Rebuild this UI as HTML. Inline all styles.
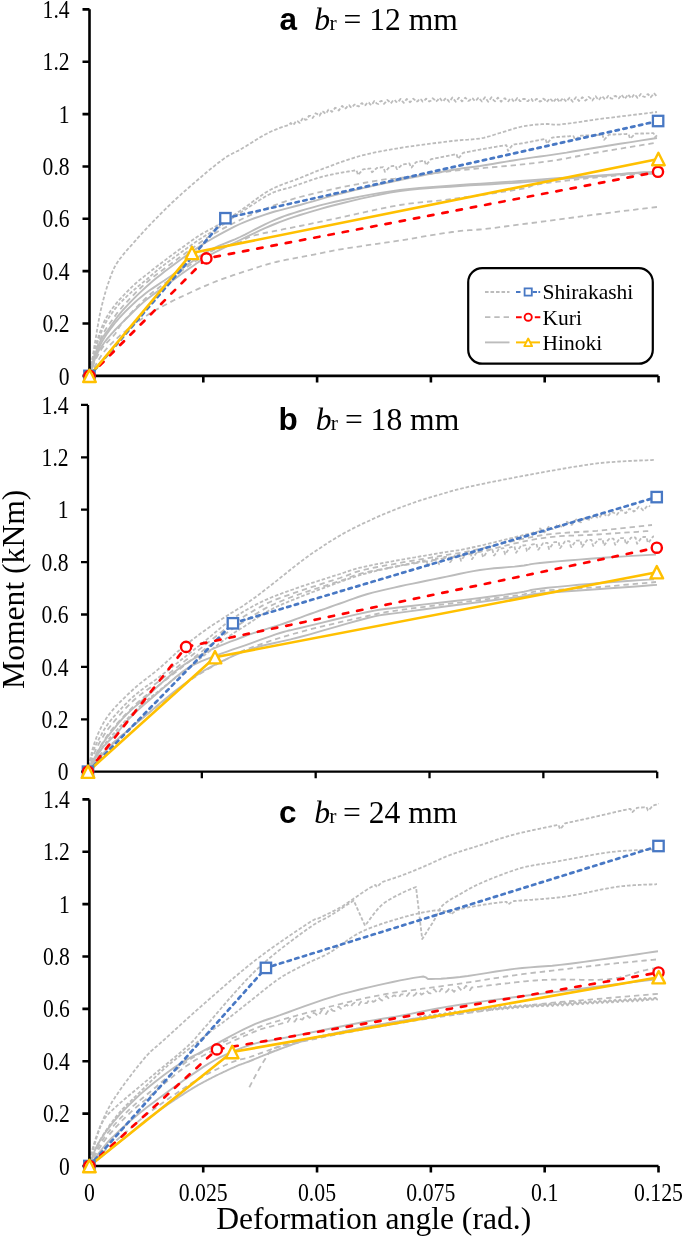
<!DOCTYPE html><html><head><meta charset="utf-8"><style>html,body{margin:0;padding:0;background:#fff;}svg{display:block;will-change:transform;}</style></head><body>
<svg width="685" height="1238" viewBox="0 0 685 1238">
<rect width="685" height="1238" fill="#fff"/>
<path d="M89.5,375.9 L89.8,374.2 L90.3,371.8 L90.8,368.9 L91.4,365.6 L92.0,362.0 L92.5,358.8 L93.1,355.2 L93.6,351.4 L94.2,347.4 L94.9,343.3 L95.6,339.0 L96.4,334.5 L97.1,329.7 L98.0,324.7 L98.9,319.7 L99.8,314.7 L100.8,310.0 L101.9,305.4 L103.0,300.9 L104.2,296.5 L105.4,292.2 L106.7,288.0 L108.0,284.0 L109.3,280.2 L110.5,276.7 L111.8,273.3 L113.2,270.0 L114.8,266.7 L114.9,266.6 L116.5,263.8 L117.0,263.0 L118.6,260.6 L119.5,259.3 L121.2,257.2 L122.4,255.6 L124.0,253.6 L125.6,251.8 L127.2,249.9 L128.8,248.1 L128.9,247.9 L130.6,246.1 L132.2,244.3 L132.4,244.0 L134.1,242.2 L135.7,240.4 L136.0,240.0 L137.6,238.2 L139.2,236.4 L139.7,235.9 L141.3,234.1 L142.9,232.3 L143.6,231.6 L145.2,229.9 L146.8,228.2 L147.6,227.3 L149.2,225.6 L150.8,223.9 L151.7,223.0 L153.3,221.3 L154.9,219.7 L155.8,218.7 L157.5,217.1 L159.1,215.4 L160.0,214.5 L161.6,212.9 L163.2,211.3 L164.1,210.4 L165.7,208.8 L167.4,207.2 L168.1,206.5 L169.8,204.9 L171.4,203.3 L172.2,202.5 L173.9,201.0 L175.5,199.5 L176.5,198.5 L178.1,197.1 L179.8,195.6 L181.1,194.4 L182.7,192.9 L184.3,191.5 L185.9,190.1 L186.0,190.0 L187.6,188.6 L189.2,187.2 L190.9,185.7 L191.6,185.1 L193.2,183.7 L194.9,182.3 L196.5,180.9 L197.9,179.7 L199.5,178.3 L201.1,177.0 L202.7,175.6 L204.4,174.2 L204.4,174.2 L206.0,172.8 L207.6,171.5 L209.2,170.1 L210.8,168.8 L212.4,167.5 L214.1,166.2 L215.7,164.9 L216.8,164.0 L218.4,162.7 L220.1,161.5 L221.7,160.2 L222.0,160.0 L223.6,158.9 L225.2,157.7 L226.2,157.1 L227.8,156.1 L229.4,155.1 L229.6,155.0 L231.2,154.2 L232.5,153.5 L234.1,152.7 L235.3,152.1 L237.0,151.3 L238.4,150.6 L240.0,149.7 L241.6,148.8 L242.0,148.6 L243.6,147.6 L245.2,146.6 L246.2,146.1 L247.8,145.0 L249.4,144.0 L250.7,143.2 L252.3,142.2 L253.9,141.2 L255.4,140.3 L257.0,139.3 L258.6,138.3 L260.2,137.3 L261.8,136.4 L263.5,135.4 L265.1,134.5 L265.1,134.5 L266.8,133.7 L268.4,132.8 L270.0,132.0 L271.6,131.3 L273.2,130.6 L274.9,129.9 L275.1,129.8 L276.7,129.2 L278.3,128.5 L279.9,127.9 L280.4,127.7 L282.1,127.1 L283.7,126.6 L285.3,126.0 L285.9,125.8 L287.5,125.3 L289.1,124.7 L290.8,123.0 L291.1,123.4 L292.7,125.0 L294.4,123.7 L295.9,121.1 L297.5,121.1 L299.2,122.7 L300.0,122.9 L301.6,120.0 L303.1,117.7 L304.7,119.2 L305.3,119.8 L306.9,119.4 L307.1,119.1 L308.7,116.3 L308.8,116.0 L310.4,115.8 L311.0,116.3 L312.6,118.0 L314.0,116.0 L315.6,113.3 L317.2,114.0 L317.8,114.6 L319.5,115.7 L321.1,113.0 L322.1,111.3 L323.7,112.0 L325.4,113.7 L326.8,112.4 L328.4,109.7 L330.1,110.0 L331.7,111.7 L331.9,111.9 L333.5,110.3 L335.1,107.7 L336.8,108.5 L337.3,109.1 L338.9,110.5 L340.5,108.0 L342.2,105.9 L343.0,106.9 L344.6,108.8 L346.2,107.9 L347.9,105.5 L349.1,105.2 L350.7,107.1 L352.3,107.5 L353.9,105.0 L355.6,104.1 L357.2,106.0 L358.8,106.5 L360.4,104.0 L362.1,103.1 L362.4,103.5 L364.0,105.5 L365.6,105.1 L367.2,102.7 L368.9,102.6 L369.4,103.3 L371.1,105.3 L372.7,103.4 L374.3,101.0 L375.9,102.6 L376.7,103.5 L378.3,104.0 L379.9,101.6 L381.6,100.8 L383.2,102.8 L384.0,103.9 L385.6,102.2 L387.2,99.9 L388.9,101.3 L390.5,103.4 L391.4,102.7 L393.0,100.5 L394.7,99.9 L396.3,102.0 L397.9,102.4 L399.0,100.9 L400.6,98.9 L402.2,101.0 L403.8,102.9 L405.5,100.6 L406.7,98.9 L408.3,100.2 L409.9,102.3 L411.6,100.9 L413.2,98.7 L414.6,99.7 L416.2,101.9 L417.8,101.1 L419.5,98.8 L421.1,99.5 L422.7,101.6 L424.3,100.9 L425.9,98.7 L427.6,99.3 L429.2,101.5 L430.8,100.8 L431.0,100.5 L432.6,98.3 L434.2,99.4 L435.9,101.6 L437.5,100.4 L439.1,98.1 L439.8,98.0 L441.4,100.2 L443.1,101.5 L444.7,99.3 L446.3,98.0 L447.9,100.1 L449.2,101.8 L450.8,99.8 L452.4,97.5 L454.1,99.6 L455.7,101.7 L457.3,99.7 L458.8,97.7 L460.4,99.2 L462.0,101.4 L463.6,99.9 L465.2,97.7 L466.9,99.2 L468.1,100.9 L469.8,100.3 L471.4,98.1 L473.0,98.7 L474.6,100.9 L476.3,100.3 L477.0,99.3 L478.6,97.5 L480.3,99.7 L481.9,101.5 L483.5,99.3 L485.0,97.3 L486.6,99.5 L488.2,101.7 L489.9,99.5 L491.5,97.3 L491.9,97.8 L493.5,100.1 L495.1,101.3 L496.8,99.1 L497.9,97.6 L499.5,99.5 L501.1,101.7 L502.8,99.9 L503.4,99.0 L505.0,98.2 L506.6,100.5 L508.2,101.3 L508.7,100.8 L510.3,98.6 L511.9,98.9 L513.5,101.2 L514.1,101.9 L515.7,100.2 L517.3,98.0 L519.0,99.8 L520.0,101.2 L521.6,101.0 L523.2,98.8 L524.9,99.0 L526.4,101.1 L528.0,101.2 L529.6,99.1 L531.3,98.9 L532.9,101.1 L533.0,101.2 L534.6,101.2 L536.2,99.0 L537.8,99.1 L539.5,101.3 L539.7,101.6 L541.3,100.9 L542.9,98.7 L544.6,99.4 L546.2,101.6 L546.5,102.0 L548.1,100.5 L549.7,98.3 L551.4,99.8 L553.0,102.0 L553.3,102.3 L554.9,100.1 L556.5,97.9 L558.2,100.1 L559.8,102.2 L560.0,101.9 L561.6,99.6 L563.2,98.0 L564.9,100.2 L566.5,101.7 L568.1,99.4 L569.7,97.7 L571.3,99.9 L572.7,101.7 L574.3,99.5 L576.0,97.2 L577.6,99.2 L578.9,101.0 L580.6,99.5 L582.2,97.2 L583.8,98.5 L585.4,100.6 L587.0,99.2 L588.7,96.9 L590.3,98.1 L591.9,100.2 L592.3,100.5 L594.0,98.2 L595.6,96.2 L597.2,98.3 L598.8,100.1 L600.0,98.5 L601.6,96.2 L603.2,97.3 L604.9,99.4 L606.5,98.2 L608.1,95.9 L609.2,96.2 L610.8,98.4 L612.4,98.6 L614.1,96.4 L615.7,95.9 L617.3,98.0 L618.9,98.3 L619.9,97.0 L621.5,94.7 L623.1,96.8 L624.7,98.9 L626.4,96.7 L628.0,94.4 L629.6,96.4 L631.0,98.2 L632.6,96.6 L634.2,94.3 L635.9,95.8 L637.5,97.9 L639.1,96.3 L640.8,94.0 L641.6,94.4 L643.2,96.5 L644.8,97.0 L646.5,94.8 L648.1,94.1 L649.7,96.2 L650.6,97.3 L652.2,95.5 L653.9,93.2 L655.5,94.9 L657.0,96.9" fill="none" stroke="#bcbcbc" stroke-width="1.8" stroke-dasharray="3.6 1.9" stroke-linejoin="round"/>
<path d="M89.5,375.9 L89.9,373.7 L90.4,370.7 L90.9,367.1 L91.6,363.2 L92.3,359.4 L93.0,356.0 L93.7,352.9 L94.5,349.9 L95.3,346.9 L96.1,343.9 L97.0,341.0 L98.0,338.0 L99.0,335.0 L100.1,331.9 L101.2,328.8 L102.4,325.8 L103.6,322.8 L105.0,320.0 L106.5,317.3 L108.2,314.6 L109.9,311.9 L111.7,309.4 L113.4,307.1 L115.0,305.0 L116.7,302.9 L118.2,301.1 L119.6,299.5 L121.2,297.9 L123.0,296.0 L124.8,294.1 L126.7,292.1 L128.8,290.0 L130.9,287.9 L133.0,285.9 L135.0,284.0 L137.2,282.0 L139.3,280.3 L141.4,278.6 L143.6,276.9 L146.0,275.0 L148.1,273.4 L150.1,271.7 L152.2,270.0 L154.6,268.2 L157.1,266.2 L160.0,264.0 L163.4,261.5 L167.2,258.6 L171.3,255.6 L175.4,252.5 L179.4,249.6 L183.0,247.0 L186.2,244.7 L189.1,242.6 L191.8,240.6 L194.5,238.7 L197.2,236.8 L200.0,235.0 L202.9,233.3 L205.8,231.7 L208.7,230.1 L211.7,228.6 L214.8,226.9 L218.0,225.0 L221.3,223.0 L224.7,220.9 L228.2,218.7 L231.9,216.3 L235.8,213.8 L240.0,211.0 L244.5,207.8 L249.4,204.2 L254.5,200.4 L259.7,196.6 L264.9,193.1 L270.0,190.0 L275.1,187.5 L280.2,185.3 L285.3,183.3 L290.4,181.5 L295.3,179.8 L300.0,178.0 L304.3,176.2 L308.3,174.6 L312.2,173.0 L316.1,171.4 L320.3,169.8 L325.0,168.0 L330.2,166.1 L335.7,164.0 L341.6,161.9 L347.6,159.8 L353.8,157.8 L360.0,156.0 L366.2,154.4 L372.5,153.0 L378.9,151.7 L385.6,150.4 L392.6,149.2 L400.0,148.0 L408.3,146.7 L417.3,145.4 L426.8,144.2 L436.0,143.0 L444.6,141.9 L452.0,141.0 L458.1,140.4 L463.4,139.9 L468.0,139.7 L472.1,139.4 L476.1,139.0 L480.0,138.5 L483.8,137.8 L487.2,136.9 L490.4,136.0 L493.5,135.0 L496.6,134.0 L500.0,133.0 L503.5,131.9 L507.1,130.8 L510.8,129.6 L514.5,128.4 L518.3,127.4 L522.0,126.5 L525.9,125.8 L529.9,125.3 L533.9,124.8 L537.9,124.5 L541.6,124.2 L545.0,124.0 L547.7,124.0 L549.7,124.2 L551.4,124.4 L553.4,124.7 L556.1,124.7 L560.0,124.5 L565.0,123.9 L570.9,123.2 L577.4,122.2 L584.5,121.2 L592.1,120.1 L600.0,119.0 L609.2,117.8 L619.9,116.5 L631.0,115.2 L641.6,113.9 L650.6,112.8 L657.0,112.0" fill="none" stroke="#bcbcbc" stroke-width="1.8" stroke-dasharray="3.6 1.9" stroke-linejoin="round"/>
<path d="M89.5,375.9 L89.9,373.9 L90.4,371.2 L90.9,368.5 L90.9,368.0 L91.4,365.4 L91.6,364.6 L92.1,362.1 L92.3,361.1 L92.8,358.9 L93.0,358.0 L93.5,356.0 L93.7,355.1 L94.2,353.2 L94.5,352.3 L95.0,350.5 L95.3,349.4 L95.8,347.8 L96.1,346.6 L96.6,345.1 L97.0,343.8 L97.5,342.4 L98.0,341.0 L98.5,339.6 L99.0,338.2 L99.0,338.1 L99.5,336.8 L100.0,335.4 L100.1,335.3 L100.6,334.0 L101.1,332.7 L101.2,332.4 L101.7,331.2 L102.2,330.0 L102.4,329.5 L102.9,328.4 L103.4,327.3 L103.6,326.7 L104.1,325.7 L104.6,324.7 L105.0,324.0 L105.5,323.1 L106.0,322.2 L106.5,321.3 L106.5,321.3 L107.0,320.5 L107.5,319.7 L108.0,318.9 L108.2,318.6 L108.7,317.9 L109.2,317.1 L109.7,316.4 L109.9,316.0 L110.4,315.3 L110.9,314.6 L111.4,313.9 L111.7,313.5 L112.2,312.8 L112.7,312.1 L113.2,311.4 L113.4,311.1 L113.9,310.5 L114.4,309.8 L114.9,309.1 L115.0,309.0 L115.5,308.4 L116.0,307.7 L116.5,307.1 L116.7,306.8 L117.2,306.2 L117.7,305.6 L118.2,305.1 L118.7,304.5 L119.2,304.0 L119.6,303.5 L120.1,302.9 L120.6,302.4 L121.1,301.9 L121.2,301.8 L121.7,301.3 L122.2,300.8 L122.7,300.3 L123.0,300.0 L123.5,299.5 L124.0,299.0 L124.5,298.5 L124.8,298.3 L125.3,297.8 L125.8,297.3 L126.3,296.8 L126.7,296.4 L127.2,295.9 L127.7,295.5 L128.2,295.0 L128.7,294.6 L128.8,294.5 L129.3,294.0 L129.8,293.6 L130.3,293.1 L130.8,292.7 L130.9,292.6 L131.4,292.1 L131.9,291.7 L132.4,291.3 L132.9,290.8 L133.0,290.7 L133.5,290.3 L134.0,289.9 L134.5,289.4 L135.0,289.0 L135.5,288.6 L136.0,288.2 L136.5,287.7 L137.0,287.3 L137.2,287.1 L137.7,286.7 L138.2,286.3 L138.7,285.9 L139.2,285.5 L139.3,285.4 L139.8,285.0 L140.3,284.6 L140.8,284.2 L141.3,283.8 L141.4,283.7 L141.9,283.3 L142.4,282.9 L142.9,282.5 L143.4,282.1 L143.6,282.0 L144.1,281.5 L144.6,281.1 L145.1,280.7 L145.6,280.3 L146.0,280.0 L146.5,279.6 L147.0,279.1 L147.5,278.7 L148.0,278.3 L148.1,278.2 L148.6,277.8 L149.1,277.3 L149.6,276.9 L150.1,276.5 L150.1,276.4 L150.6,276.0 L151.1,275.5 L151.6,275.1 L152.1,274.6 L152.2,274.5 L152.8,274.1 L153.2,273.6 L153.8,273.2 L154.2,272.7 L154.6,272.5 L155.1,272.1 L155.6,271.6 L156.1,271.2 L156.6,270.8 L157.1,270.4 L157.1,270.3 L157.6,269.9 L158.1,269.5 L158.6,269.1 L159.1,268.7 L159.6,268.3 L160.0,268.0 L160.5,267.6 L161.0,267.2 L161.5,266.8 L162.0,266.5 L162.5,266.1 L163.0,265.7 L163.4,265.4 L163.9,265.0 L164.4,264.6 L164.9,264.3 L165.4,263.9 L165.9,263.5 L166.4,263.1 L166.9,262.8 L167.2,262.5 L167.7,262.1 L168.2,261.8 L168.7,261.4 L169.2,261.0 L169.7,260.7 L170.2,260.3 L170.7,259.9 L171.2,259.6 L171.3,259.5 L171.8,259.1 L172.3,258.8 L172.8,258.4 L173.3,258.0 L173.8,257.7 L174.3,257.3 L174.8,256.9 L175.3,256.6 L175.4,256.5 L175.9,256.1 L176.4,255.8 L176.9,255.4 L177.4,255.0 L177.9,254.7 L178.4,254.3 L178.9,253.9 L179.4,253.6 L179.9,253.2 L180.4,252.9 L180.9,252.5 L181.4,252.2 L181.9,251.8 L182.4,251.4 L182.9,251.1 L183.0,251.0 L183.5,250.6 L184.0,250.3 L184.5,249.9 L185.0,249.5 L185.5,249.2 L186.0,248.8 L186.2,248.7 L186.7,248.3 L187.2,248.0 L187.7,247.6 L188.2,247.2 L188.7,246.9 L189.1,246.6 L189.6,246.2 L190.1,245.9 L190.6,245.5 L191.1,245.2 L191.6,244.8 L191.8,244.6 L192.3,244.3 L192.8,243.9 L193.3,243.6 L193.8,243.2 L194.3,242.9 L194.5,242.7 L195.0,242.4 L195.5,242.1 L196.0,241.7 L196.5,241.4 L197.0,241.0 L197.2,240.9 L197.7,240.6 L198.2,240.2 L198.7,239.9 L199.2,239.5 L199.7,239.2 L200.0,239.0 L200.5,238.7 L201.0,238.4 L201.5,238.0 L202.0,237.7 L202.5,237.4 L202.9,237.2 L203.4,236.9 L203.9,236.5 L204.4,236.2 L204.9,235.9 L205.4,235.6 L205.8,235.4 L206.3,235.1 L206.8,234.8 L207.3,234.5 L207.8,234.2 L208.3,233.9 L208.7,233.7 L209.2,233.4 L209.7,233.1 L210.2,232.8 L210.7,232.5 L211.2,232.2 L211.7,231.9 L212.2,231.6 L212.7,231.3 L213.2,231.0 L213.7,230.7 L214.2,230.4 L214.7,230.1 L214.8,230.1 L215.3,229.7 L215.8,229.4 L216.3,229.1 L216.8,228.8 L217.3,228.5 L217.8,228.2 L218.0,228.0 L218.5,227.7 L219.0,227.3 L219.5,227.0 L220.0,226.7 L220.5,226.3 L221.0,226.0 L221.3,225.8 L221.8,225.4 L222.3,225.1 L222.8,224.7 L223.3,224.4 L223.8,224.1 L224.3,223.7 L224.7,223.4 L225.2,223.1 L225.7,222.7 L226.2,222.4 L226.7,222.1 L227.2,221.7 L227.7,221.4 L228.2,221.0 L228.2,221.0 L228.8,220.7 L229.2,220.3 L229.8,220.0 L230.2,219.6 L230.8,219.3 L231.2,218.9 L231.8,218.6 L231.9,218.4 L232.4,218.1 L232.9,217.8 L233.4,217.4 L233.9,217.1 L234.4,216.7 L234.9,216.4 L235.4,216.1 L235.8,215.8 L236.3,215.4 L236.8,215.1 L237.3,214.8 L237.8,214.4 L238.3,214.1 L238.8,213.8 L239.3,213.4 L239.8,213.1 L240.0,213.0 L240.5,212.7 L241.0,212.3 L241.5,212.0 L242.0,211.7 L242.5,211.3 L243.0,211.0 L243.5,210.7 L244.0,210.4 L244.5,210.0 L244.7,209.9 L245.2,209.6 L245.7,209.3 L246.2,208.9 L246.7,208.6 L247.2,208.3 L247.7,207.9 L248.2,207.6 L248.7,207.3 L249.2,206.9 L249.7,206.6 L249.8,206.5 L250.3,206.2 L250.8,205.8 L251.3,205.5 L251.8,205.2 L252.3,204.8 L252.8,204.5 L253.3,204.2 L253.8,203.9 L254.3,203.5 L254.8,203.2 L255.1,203.0 L255.6,202.6 L256.1,202.3 L256.6,202.0 L257.1,201.7 L257.6,201.4 L258.1,201.0 L258.6,200.7 L259.1,200.4 L259.6,200.1 L260.1,199.8 L260.4,199.6 L260.9,199.3 L261.4,198.9 L261.9,198.6 L262.4,198.3 L262.9,198.0 L263.4,197.7 L263.9,197.4 L264.4,197.1 L264.9,196.8 L265.4,196.5 L265.5,196.5 L266.0,196.2 L266.5,195.9 L267.0,195.7 L267.5,195.4 L268.0,195.1 L268.5,194.8 L269.0,194.6 L269.5,194.3 L270.0,194.0 L270.0,194.0 L270.5,193.8 L271.0,193.5 L271.5,193.3 L272.0,193.1 L272.5,192.9 L273.0,192.6 L273.5,192.4 L274.0,192.2 L274.0,192.2 L274.5,192.0 L275.0,191.8 L275.5,191.6 L276.0,191.4 L276.5,191.3 L277.0,191.1 L277.5,190.9 L277.8,190.8 L278.3,190.7 L278.8,190.5 L279.3,190.4 L279.8,190.2 L280.3,190.1 L280.8,189.9 L281.2,189.8 L281.8,189.7 L282.2,189.5 L282.8,189.4 L283.2,189.3 L283.8,189.2 L284.2,189.0 L284.4,189.0 L284.9,188.9 L285.4,188.7 L285.9,188.6 L286.4,188.5 L286.9,188.4 L287.4,188.3 L287.9,188.1 L288.4,188.0 L288.9,187.8 L289.4,187.7 L289.9,187.5 L290.0,187.5 L290.5,187.3 L291.0,187.2 L291.5,187.0 L292.0,186.8 L292.5,186.6 L292.9,186.5 L293.4,186.3 L293.9,186.2 L294.4,186.0 L294.7,185.8 L295.2,185.7 L295.7,185.5 L296.2,185.3 L296.7,185.1 L297.2,185.0 L297.7,184.8 L298.2,184.6 L298.7,184.4 L299.2,184.3 L299.7,184.1 L300.0,184.0 L300.5,183.8 L301.0,183.7 L301.5,183.5 L302.0,183.3 L302.5,183.1 L303.0,183.0 L303.2,182.9 L303.7,182.7 L304.2,182.6 L304.7,182.4 L305.2,182.2 L305.7,182.0 L306.2,181.8 L306.7,181.7 L306.9,181.6 L307.4,181.4 L307.9,181.2 L308.4,181.1 L308.9,180.9 L309.4,180.7 L309.9,180.6 L310.4,180.4 L310.9,180.2 L311.1,180.2 L311.6,180.0 L312.1,179.8 L312.6,179.7 L313.1,179.5 L313.6,179.3 L314.1,179.2 L314.6,179.0 L315.1,178.8 L315.5,178.7 L316.0,178.5 L316.5,178.4 L317.0,178.2 L317.5,178.1 L318.0,177.9 L318.5,177.8 L319.0,177.6 L319.5,177.5 L320.0,177.3 L320.2,177.3 L320.7,177.1 L321.2,177.0 L321.7,176.9 L322.2,176.7 L322.7,176.6 L323.2,176.5 L323.7,176.3 L324.2,176.2 L324.7,176.1 L325.0,176.0 L325.5,175.9 L326.0,175.8 L326.5,175.7 L327.0,175.5 L327.5,175.4 L328.0,175.3 L328.5,175.2 L329.0,175.1 L329.5,175.0 L329.9,174.9 L330.4,174.8 L330.9,174.7 L331.4,174.6 L331.9,174.5 L332.4,174.4 L332.9,174.3 L333.4,174.2 L333.9,174.0 L334.4,173.9 L334.9,173.8 L335.1,173.8 L335.6,173.7 L336.1,173.6 L336.6,173.5 L337.1,173.4 L337.6,173.3 L338.1,173.3 L338.6,173.2 L339.1,173.1 L339.6,173.0 L340.1,172.9 L340.4,172.8 L340.9,172.7 L341.4,172.6 L341.9,172.6 L342.4,172.5 L342.9,172.4 L343.4,172.3 L343.9,172.2 L344.4,172.1 L344.9,172.0 L345.4,172.0 L345.9,171.9 L346.0,171.9 L346.5,171.8 L347.0,171.7 L347.5,171.6 L348.0,171.5 L348.5,171.5 L349.0,171.4 L349.5,171.3 L350.0,171.2 L350.5,171.1 L351.0,171.1 L351.5,171.0 L351.9,170.9 L352.4,170.8 L352.9,170.8 L353.4,170.7 L353.9,170.6 L354.4,170.5 L354.9,170.5 L355.4,170.4 L355.9,170.3 L356.4,170.2 L356.9,171.5 L357.4,173.0 L357.9,174.6 L358.0,175.0 L358.5,174.4 L359.0,173.9 L359.5,173.3 L360.0,172.7 L360.5,172.2 L361.0,171.6 L361.5,171.0 L362.0,170.5 L362.5,169.9 L363.0,169.3 L363.5,169.3 L364.0,169.2 L364.4,169.2 L364.9,169.1 L365.4,169.1 L365.9,169.0 L366.4,168.9 L366.9,168.9 L367.4,168.8 L367.9,168.8 L368.4,168.7 L368.9,168.7 L369.4,168.6 L369.9,168.6 L370.4,168.5 L370.9,169.4 L371.0,169.7 L371.5,171.0 L372.0,172.2 L372.5,171.9 L373.0,171.5 L373.5,171.0 L374.0,170.6 L374.5,170.1 L375.0,169.7 L375.5,169.2 L376.0,168.8 L376.5,168.3 L377.0,167.9 L377.5,167.8 L377.8,167.8 L378.3,167.7 L378.8,167.6 L379.3,167.6 L379.8,167.5 L380.3,167.5 L380.8,167.4 L381.3,167.4 L381.8,167.3 L382.3,167.3 L382.8,167.2 L383.3,167.2 L383.8,168.2 L384.3,169.8 L384.8,171.4 L384.9,171.8 L385.4,171.5 L385.9,171.0 L386.4,170.4 L386.9,169.8 L387.4,169.3 L387.9,168.7 L388.4,168.2 L388.9,167.6 L389.4,167.0 L389.9,166.5 L390.4,166.3 L390.9,166.3 L391.4,166.2 L391.9,166.2 L392.3,166.1 L392.8,166.0 L393.3,166.0 L393.8,165.9 L394.3,165.8 L394.8,165.7 L395.3,165.7 L395.8,166.5 L396.3,167.7 L396.8,169.0 L397.3,169.1 L397.8,168.7 L398.3,168.2 L398.8,167.7 L399.3,167.2 L399.8,166.8 L400.0,166.6 L400.5,166.1 L401.0,165.6 L401.5,165.1 L402.0,164.7 L402.5,164.6 L403.0,164.5 L403.5,164.4 L404.0,164.3 L404.5,164.2 L405.0,164.1 L405.5,164.1 L406.0,164.0 L406.5,163.9 L407.0,163.8 L407.5,163.7 L408.0,163.6 L408.4,163.6 L408.9,163.5 L409.4,163.4 L409.9,164.5 L410.4,166.1 L410.9,167.7 L411.4,167.6 L411.9,167.0 L412.4,166.5 L412.9,165.9 L413.4,165.3 L413.9,164.7 L414.4,164.1 L414.9,163.5 L415.4,162.9 L415.9,162.3 L416.4,162.1 L416.9,162.0 L417.4,161.9 L417.5,161.9 L418.0,161.8 L418.5,161.7 L419.0,161.6 L419.5,161.5 L420.0,161.4 L420.5,161.3 L421.0,161.2 L421.5,161.1 L422.0,161.0 L422.5,160.9 L423.0,160.8 L423.5,160.7 L424.0,160.6 L424.5,160.5 L425.0,162.0 L425.5,163.6 L426.0,165.1 L426.5,164.6 L426.9,164.2 L427.4,163.5 L427.9,162.9 L428.4,162.3 L428.9,161.7 L429.4,161.1 L429.9,160.5 L430.4,159.9 L430.9,159.3 L431.4,159.1 L431.9,159.0 L432.4,158.9 L432.9,158.8 L433.4,158.7 L433.9,158.6 L434.4,158.5 L434.9,158.4 L435.4,158.3 L435.9,158.2 L436.1,158.2 L436.6,158.1 L437.1,158.0 L437.6,157.9 L438.1,157.8 L438.6,157.7 L439.1,157.6 L439.6,157.5 L440.1,157.4 L440.6,157.3 L441.1,157.2 L441.6,157.1 L442.1,157.0 L442.6,156.9 L443.1,156.8 L443.6,156.7 L444.1,156.6 L444.6,156.5 L444.6,156.5 L445.1,156.4 L445.6,156.3 L446.1,156.2 L446.6,156.1 L447.1,156.0 L447.6,155.9 L448.1,155.8 L448.6,155.7 L449.1,155.6 L449.6,155.5 L450.1,155.4 L450.6,155.3 L451.1,155.2 L451.6,155.1 L452.0,155.0 L452.5,154.9 L453.0,154.8 L453.5,154.7 L454.0,154.6 L454.5,154.5 L455.0,154.4 L455.5,154.3 L456.0,154.2 L456.5,154.1 L457.0,155.7 L457.5,157.3 L458.0,158.8 L458.1,158.8 L458.6,158.2 L459.1,157.6 L459.6,157.0 L460.1,156.4 L460.6,155.8 L461.1,155.2 L461.6,154.6 L462.1,154.0 L462.6,153.4 L463.1,152.8 L463.1,152.8 L463.6,152.7 L464.1,152.6 L464.6,152.5 L465.1,152.4 L465.6,152.3 L466.1,152.2 L466.6,152.1 L467.1,152.0 L467.6,152.0 L468.1,151.9 L468.6,151.8 L469.1,151.7 L469.6,151.6 L470.1,151.5 L470.6,151.4 L471.1,151.3 L471.6,151.2 L471.6,151.2 L472.1,151.1 L472.6,151.0 L473.1,150.9 L473.6,150.8 L474.1,150.7 L474.6,150.6 L475.1,150.5 L475.6,150.4 L475.7,150.4 L476.2,150.3 L476.7,150.2 L477.2,150.1 L477.7,150.0 L478.2,149.9 L478.7,149.8 L479.2,149.8 L479.7,149.7 L480.0,149.6 L480.5,149.5 L481.0,149.4 L481.5,149.3 L482.0,149.2 L482.5,149.1 L483.0,149.1 L483.5,149.0 L484.0,148.9 L484.5,148.8 L484.7,148.7 L485.2,148.7 L485.7,148.6 L486.2,148.5 L486.7,148.4 L487.2,148.3 L487.7,148.2 L488.2,148.1 L488.7,148.0 L489.2,148.0 L489.6,147.9 L490.1,147.8 L490.6,147.7 L491.1,147.6 L491.6,147.5 L492.1,147.5 L492.6,147.4 L493.1,147.3 L493.6,147.2 L494.1,147.1 L494.4,147.0 L494.9,147.0 L495.4,146.9 L495.9,146.8 L496.4,146.7 L496.9,146.6 L497.4,146.5 L497.9,146.5 L498.4,146.4 L498.9,146.3 L499.1,146.3 L499.6,146.2 L500.1,146.1 L500.6,146.0 L501.1,145.9 L501.6,145.9 L502.1,145.8 L502.6,145.7 L503.1,145.6 L503.3,145.6 L503.8,145.5 L504.3,145.4 L504.8,145.3 L505.3,145.3 L505.8,145.2 L506.3,145.1 L506.8,146.3 L507.0,147.0 L507.5,148.9 L508.0,150.9 L508.5,150.2 L509.0,149.5 L509.5,148.9 L510.0,148.2 L510.3,147.8 L510.8,147.2 L511.3,146.5 L511.8,145.9 L512.3,145.3 L512.6,144.8 L513.1,144.4 L513.6,144.4 L514.1,144.3 L514.6,144.3 L515.1,144.3 L515.6,144.2 L516.1,144.2 L516.6,144.1 L516.9,144.1 L517.4,144.1 L517.9,144.0 L518.4,143.9 L518.9,143.9 L519.4,143.8 L519.9,143.7 L520.0,143.7 L520.5,143.6 L521.0,143.5 L521.5,143.4 L522.0,143.4 L522.5,143.3 L523.0,143.2 L523.5,143.1 L523.6,143.1 L524.1,143.0 L524.6,142.9 L525.1,142.8 L525.6,142.7 L526.1,142.6 L526.6,142.5 L527.1,142.4 L527.6,142.3 L527.8,142.3 L528.3,142.2 L528.8,142.1 L529.3,142.0 L529.8,141.9 L530.3,141.8 L530.8,141.7 L531.3,141.6 L531.8,141.5 L532.3,141.4 L532.4,141.4 L532.9,141.3 L533.4,141.2 L533.9,141.1 L534.4,141.0 L534.9,140.9 L535.4,140.8 L535.9,140.7 L536.4,140.6 L536.9,140.5 L537.0,140.5 L537.5,140.4 L538.0,140.3 L538.5,140.2 L539.0,140.1 L539.5,140.0 L540.0,139.9 L540.5,139.8 L541.0,139.7 L541.3,139.7 L541.8,139.6 L542.3,139.5 L542.8,139.4 L543.3,139.3 L543.8,139.2 L544.3,139.1 L544.8,139.0 L545.0,139.0 L545.5,138.9 L546.0,140.5 L546.5,142.1 L547.0,143.6 L547.5,143.0 L547.8,142.7 L548.3,142.1 L548.8,141.5 L549.3,140.9 L549.8,140.3 L549.8,140.3 L550.3,139.7 L550.8,139.1 L551.3,138.5 L551.6,138.2 L552.1,137.6 L552.6,137.6 L553.1,137.5 L553.5,137.4 L554.0,137.4 L554.5,137.3 L555.0,137.2 L555.5,137.2 L556.0,137.1 L556.2,137.1 L556.7,137.1 L557.2,137.0 L557.7,137.0 L558.2,137.0 L558.7,136.9 L559.2,136.9 L559.7,136.8 L560.0,136.8 L560.5,136.8 L561.0,136.7 L561.5,136.7 L562.0,136.7 L562.5,136.6 L563.0,136.6 L563.5,136.6 L564.0,136.5 L564.5,136.5 L565.0,136.5 L565.0,136.5 L565.5,136.5 L566.0,136.4 L566.5,136.4 L567.0,136.4 L567.5,136.3 L568.0,136.3 L568.5,136.3 L569.0,136.3 L569.5,136.2 L570.0,136.2 L570.5,136.2 L570.9,136.2 L571.4,136.2 L571.9,136.1 L572.4,136.1 L572.9,136.1 L573.4,136.1 L573.9,137.0 L574.4,138.3 L574.9,139.6 L575.4,139.7 L575.9,139.3 L576.4,138.9 L576.9,138.4 L577.4,138.0 L577.4,138.0 L577.9,137.6 L578.4,137.1 L578.9,136.7 L579.4,136.3 L579.9,135.9 L580.4,135.8 L580.9,135.7 L581.4,135.7 L581.9,135.7 L582.4,135.7 L582.9,135.7 L583.4,135.6 L583.9,135.6 L584.4,135.6 L584.5,135.6 L585.0,135.6 L585.5,135.6 L586.0,135.5 L586.5,135.5 L587.0,135.5 L587.5,135.5 L588.0,135.5 L588.5,135.4 L589.0,135.4 L589.5,135.4 L590.0,135.4 L590.5,135.4 L591.0,135.3 L591.5,135.3 L592.0,135.3 L592.1,135.3 L592.6,135.3 L593.1,135.3 L593.6,135.2 L594.1,135.2 L594.6,135.2 L595.1,135.2 L595.6,135.2 L596.1,135.2 L596.6,135.1 L597.1,135.1 L597.6,135.1 L598.1,135.1 L598.6,135.1 L599.1,135.0 L599.6,135.0 L600.0,135.0 L600.5,135.0 L601.0,135.0 L601.5,134.9 L602.0,134.9 L602.5,134.9 L603.0,136.6 L603.5,138.2 L604.0,139.8 L604.5,139.3 L605.0,138.8 L605.5,138.3 L606.0,137.8 L606.5,137.3 L607.0,136.7 L607.5,136.2 L608.0,135.7 L608.5,135.2 L609.0,134.7 L609.2,134.7 L609.7,134.6 L610.2,134.6 L610.7,134.6 L611.2,134.6 L611.7,134.6 L612.2,134.5 L612.7,134.5 L613.2,134.5 L613.7,134.5 L614.2,134.5 L614.7,134.5 L615.2,134.4 L615.7,134.4 L616.2,134.4 L616.7,134.4 L617.2,134.4 L617.7,134.4 L618.2,134.3 L618.7,134.3 L619.2,134.3 L619.7,134.3 L619.9,134.3 L620.4,134.3 L620.9,134.2 L621.4,134.2 L621.9,134.2 L622.4,134.2 L622.9,134.2 L623.4,134.2 L623.9,134.1 L624.4,134.1 L624.9,134.1 L625.4,134.1 L625.9,134.1 L626.4,134.0 L626.9,134.0 L627.4,134.0 L627.9,134.0 L628.4,134.0 L628.9,135.1 L629.4,136.8 L629.9,138.4 L630.4,138.6 L630.9,138.0 L631.0,137.9 L631.5,137.4 L632.0,136.9 L632.5,136.3 L633.0,135.8 L633.5,135.3 L634.0,134.8 L634.5,134.3 L635.0,133.8 L635.5,133.7 L636.0,133.7 L636.5,133.7 L637.0,133.7 L637.5,133.7 L638.0,133.6 L638.5,133.6 L639.0,133.6 L639.5,133.6 L640.0,133.6 L640.5,133.6 L641.0,133.5 L641.5,133.5 L641.6,133.5 L642.1,133.5 L642.6,133.5 L643.1,133.5 L643.6,133.5 L644.1,133.4 L644.6,133.4 L645.1,133.4 L645.6,133.4 L646.1,133.4 L646.6,133.4 L647.1,133.3 L647.6,133.3 L648.1,133.3 L648.6,133.3 L649.1,133.3 L649.6,133.3 L650.1,133.2 L650.6,133.2 L650.6,133.2 L651.1,133.2 L651.6,133.2 L652.1,133.2 L652.6,133.2 L653.1,133.1 L653.6,133.4 L654.1,134.7 L654.6,136.0 L655.1,137.0 L655.6,136.6 L656.1,136.1 L656.6,135.7 L657.0,135.4" fill="none" stroke="#bcbcbc" stroke-width="1.8" stroke-dasharray="3.6 1.9" stroke-linejoin="round"/>
<path d="M89.5,375.9 L90.0,373.9 L90.6,371.2 L91.4,367.9 L92.2,364.5 L93.1,361.1 L94.0,358.0 L94.9,355.2 L95.8,352.4 L96.8,349.6 L97.8,347.0 L98.9,344.4 L100.0,342.0 L101.4,339.5 L102.7,337.3 L104.2,335.2 L105.9,332.8 L108.0,330.0 L110.0,327.2 L112.2,324.0 L114.6,320.7 L117.1,317.2 L120.0,313.6 L123.0,310.0 L126.4,306.3 L130.1,302.4 L134.1,298.4 L138.1,294.4 L142.1,290.6 L146.0,287.0 L149.7,283.7 L153.4,280.6 L157.1,277.6 L160.7,274.7 L164.3,271.8 L168.0,269.0 L171.7,266.2 L175.4,263.4 L179.1,260.7 L182.8,258.0 L186.4,255.5 L190.0,253.0 L193.3,250.7 L196.4,248.6 L199.5,246.5 L202.7,244.4 L206.1,242.3 L210.0,240.0 L214.4,237.4 L219.3,234.7 L224.4,231.9 L229.6,229.1 L234.9,226.4 L240.0,224.0 L245.0,221.8 L250.0,219.9 L255.0,218.0 L260.0,216.3 L265.0,214.6 L270.0,213.0 L274.8,211.5 L279.5,210.3 L284.2,209.1 L289.0,207.9 L294.2,206.5 L300.0,205.0 L306.3,203.2 L312.9,201.3 L319.8,199.3 L327.1,197.2 L334.9,195.1 L343.0,193.0 L351.7,190.9 L361.1,188.6 L370.9,186.4 L380.9,184.1 L390.6,182.0 L400.0,180.0 L409.2,178.1 L418.6,176.2 L427.8,174.4 L436.6,172.8 L444.8,171.3 L452.0,170.0 L457.9,169.0 L462.7,168.3 L466.8,167.8 L470.7,167.3 L474.9,166.7 L480.0,166.0 L486.0,165.0 L492.4,164.0 L499.2,162.8 L506.2,161.6 L513.2,160.5 L520.0,159.4 L526.7,158.4 L533.3,157.4 L540.0,156.5 L546.7,155.6 L553.3,154.6 L560.0,153.6 L566.5,152.6 L572.7,151.5 L578.9,150.5 L585.4,149.4 L592.3,148.2 L600.0,147.0 L609.2,145.5 L619.9,143.8 L631.0,142.1 L641.6,140.4 L650.6,139.0 L657.0,138.0" fill="none" stroke="#bcbcbc" stroke-width="1.9" stroke-linejoin="round"/>
<path d="M89.5,375.9 L90.0,373.8 L90.6,370.9 L91.4,367.5 L92.2,363.9 L93.1,360.3 L94.0,357.0 L94.9,354.0 L95.8,351.1 L96.8,348.2 L97.8,345.4 L98.9,342.6 L100.0,340.0 L101.1,337.6 L102.3,335.3 L103.4,333.2 L104.7,331.0 L106.2,328.6 L108.0,326.0 L110.0,323.0 L112.2,319.9 L114.6,316.6 L117.1,313.1 L120.0,309.6 L123.0,306.0 L126.4,302.3 L130.1,298.3 L134.1,294.3 L138.1,290.3 L142.1,286.5 L146.0,283.0 L149.7,279.8 L153.4,276.9 L157.1,274.1 L160.7,271.4 L164.3,268.7 L168.0,266.0 L171.7,263.3 L175.4,260.5 L179.1,257.8 L182.8,255.1 L186.4,252.5 L190.0,250.0 L193.3,247.6 L196.4,245.3 L199.5,243.0 L202.7,240.7 L206.1,238.4 L210.0,236.0 L214.4,233.4 L219.3,230.7 L224.4,227.9 L229.6,225.2 L234.9,222.5 L240.0,220.0 L245.0,217.6 L250.0,215.3 L255.0,213.1 L260.0,211.0 L265.0,209.0 L270.0,207.0 L274.8,205.2 L279.5,203.4 L284.2,201.8 L289.0,200.2 L294.2,198.6 L300.0,197.0 L306.5,195.3 L313.6,193.6 L321.0,191.8 L328.6,190.1 L336.0,188.5 L343.0,187.0 L349.8,185.6 L356.7,184.3 L363.5,183.0 L369.9,181.9 L375.8,180.8 L381.0,180.0 L384.9,179.4 L387.5,179.1 L389.6,179.0 L391.9,178.9 L395.1,178.6 L400.0,178.0 L406.6,177.1 L414.3,176.0 L422.9,174.8 L432.3,173.5 L442.0,172.2 L452.0,171.0 L462.7,169.9 L474.5,168.8 L486.8,167.7 L498.8,166.7 L510.1,165.7 L520.0,164.7 L528.3,163.8 L535.4,163.0 L541.8,162.2 L547.7,161.4 L553.7,160.5 L560.0,159.5 L566.5,158.4 L572.7,157.2 L578.9,156.0 L585.4,154.7 L592.3,153.4 L600.0,152.0 L609.2,150.4 L619.9,148.7 L631.0,146.9 L641.6,145.2 L650.6,143.7 L657.0,142.7" fill="none" stroke="#bcbcbc" stroke-width="1.8" stroke-dasharray="5.4 3.9" stroke-linejoin="round"/>
<path d="M89.5,375.9 L90.1,373.8 L90.8,370.9 L91.8,367.5 L92.8,363.9 L93.9,360.3 L95.0,357.0 L96.1,354.1 L97.3,351.2 L98.6,348.4 L99.9,345.6 L101.4,342.8 L103.0,340.0 L104.7,337.2 L106.6,334.3 L108.6,331.4 L110.6,328.6 L112.8,325.8 L115.0,323.0 L117.3,320.3 L119.7,317.5 L122.2,314.8 L124.8,312.1 L127.4,309.5 L130.0,307.0 L132.5,304.6 L135.0,302.2 L137.6,299.9 L140.2,297.7 L143.0,295.4 L146.0,293.0 L149.3,290.6 L152.9,288.1 L156.6,285.6 L160.4,283.0 L164.3,280.5 L168.0,278.0 L171.7,275.5 L175.4,272.9 L179.1,270.4 L182.8,267.9 L186.4,265.4 L190.0,263.0 L193.3,260.7 L196.4,258.5 L199.5,256.4 L202.7,254.3 L206.1,252.1 L210.0,250.0 L214.4,247.9 L219.3,245.7 L224.4,243.6 L229.6,241.5 L234.9,239.3 L240.0,237.0 L245.0,234.6 L250.0,232.0 L255.0,229.4 L260.0,226.8 L265.0,224.3 L270.0,222.0 L274.8,219.9 L279.5,218.0 L284.2,216.2 L289.0,214.5 L294.2,212.8 L300.0,211.0 L306.3,209.2 L312.9,207.3 L319.8,205.4 L327.1,203.6 L334.9,201.8 L343.0,200.0 L351.7,198.2 L360.9,196.4 L370.4,194.6 L380.3,192.9 L390.2,191.4 L400.0,190.0 L409.8,188.9 L419.8,187.9 L429.8,187.1 L439.9,186.4 L450.0,185.7 L460.0,185.0 L470.2,184.3 L480.7,183.6 L491.2,182.9 L501.5,182.2 L511.2,181.6 L520.0,181.0 L527.8,180.4 L534.8,179.9 L541.2,179.4 L547.4,178.9 L553.6,178.5 L560.0,178.0 L566.7,177.6 L573.3,177.1 L580.0,176.8 L586.7,176.4 L593.3,175.9 L600.0,175.5 L606.9,175.0 L614.2,174.4 L621.4,173.9 L628.4,173.3 L634.7,172.9 L640.0,172.5 L644.4,172.3 L648.0,172.1 L651.0,172.1 L653.4,172.0 L655.4,172.0 L657.0,172.0" fill="none" stroke="#bcbcbc" stroke-width="1.9" stroke-linejoin="round"/>
<path d="M89.5,375.9 L90.2,373.7 L91.1,370.5 L92.2,366.8 L93.5,362.9 L94.8,359.1 L96.0,356.0 L97.2,353.4 L98.4,351.2 L99.7,349.1 L101.1,347.1 L102.5,345.1 L104.0,343.0 L105.6,340.9 L107.3,338.7 L109.1,336.6 L110.9,334.5 L112.9,332.3 L115.0,330.0 L117.3,327.6 L119.7,325.1 L122.2,322.6 L124.8,320.1 L127.4,317.5 L130.0,315.0 L132.5,312.5 L135.0,310.0 L137.6,307.6 L140.2,305.1 L143.0,302.6 L146.0,300.0 L149.3,297.4 L152.9,294.7 L156.6,292.1 L160.4,289.4 L164.3,286.7 L168.0,284.0 L171.7,281.3 L175.4,278.6 L179.1,275.8 L182.8,273.1 L186.4,270.5 L190.0,268.0 L193.3,265.7 L196.4,263.5 L199.5,261.4 L202.7,259.4 L206.1,257.2 L210.0,255.0 L214.4,252.6 L219.3,250.1 L224.4,247.6 L229.6,245.0 L234.9,242.5 L240.0,240.0 L245.0,237.6 L250.0,235.1 L255.0,232.8 L260.0,230.4 L265.0,228.1 L270.0,226.0 L274.8,224.0 L279.5,222.1 L284.2,220.4 L289.0,218.6 L294.2,216.9 L300.0,215.0 L306.3,213.1 L312.9,211.1 L319.8,209.1 L327.1,207.0 L334.9,205.0 L343.0,203.0 L351.7,200.9 L360.9,198.7 L370.4,196.6 L380.3,194.5 L390.2,192.6 L400.0,191.0 L409.8,189.7 L419.8,188.8 L429.8,188.0 L439.9,187.3 L450.0,186.7 L460.0,186.0 L470.2,185.3 L480.7,184.7 L491.2,184.2 L501.5,183.6 L511.2,183.1 L520.0,182.5 L527.8,181.9 L534.8,181.3 L541.2,180.7 L547.4,180.1 L553.6,179.6 L560.0,179.0 L566.7,178.5 L573.3,178.0 L580.0,177.5 L586.7,177.0 L593.3,176.5 L600.0,176.0 L606.9,175.5 L614.2,174.9 L621.4,174.3 L628.4,173.8 L634.7,173.3 L640.0,173.0 L644.4,172.8 L648.0,172.8 L651.0,172.8 L653.4,172.9 L655.4,173.0 L657.0,173.0" fill="none" stroke="#bcbcbc" stroke-width="1.9" stroke-linejoin="round"/>
<path d="M89.5,375.9 L90.1,374.3 L90.8,372.0 L91.8,369.3 L92.8,366.5 L93.9,363.6 L95.0,361.0 L96.1,358.6 L97.3,356.2 L98.6,353.9 L99.9,351.6 L101.4,349.3 L103.0,347.0 L104.8,344.8 L106.9,342.6 L109.0,340.4 L111.1,338.2 L113.2,336.1 L115.0,334.0 L116.6,331.7 L117.8,329.7 L118.9,327.6 L120.5,325.2 L123.0,322.0 L126.0,318.6 L129.6,314.6 L133.6,310.3 L137.9,305.9 L142.1,301.7 L146.0,298.0 L149.7,294.7 L153.4,291.8 L157.1,289.0 L160.7,286.3 L164.3,283.7 L168.0,281.0 L171.6,278.3 L175.3,275.6 L178.9,272.9 L182.5,270.2 L186.2,267.6 L190.0,265.0 L193.9,262.4 L197.8,259.7 L201.8,257.0 L205.8,254.4 L209.9,252.1 L214.0,250.0 L218.4,248.2 L223.0,246.8 L227.6,245.5 L232.1,244.3 L236.3,243.2 L240.0,242.0 L242.7,240.9 L244.4,239.8 L245.8,238.8 L247.4,237.8 L250.0,236.7 L254.0,235.5 L259.8,234.1 L267.1,232.5 L275.2,230.9 L283.7,229.2 L292.1,227.6 L300.0,226.0 L307.2,224.5 L314.0,223.1 L320.8,221.7 L327.7,220.2 L335.1,218.7 L343.0,217.0 L351.7,215.1 L361.1,213.0 L370.9,210.8 L380.9,208.7 L390.6,206.7 L400.0,205.0 L408.8,203.7 L417.1,202.7 L425.3,201.9 L433.7,201.1 L442.5,200.2 L452.0,199.0 L463.0,197.5 L475.3,195.8 L488.0,194.1 L500.3,192.3 L511.3,190.6 L520.0,189.2 L525.6,188.1 L528.7,187.2 L530.5,186.4 L532.1,185.7 L534.9,184.9 L540.0,184.0 L547.9,182.9 L557.8,181.7 L568.8,180.4 L580.0,179.1 L590.7,178.0 L600.0,177.0 L608.1,176.2 L615.7,175.6 L622.7,175.1 L629.1,174.6 L634.9,174.3 L640.0,174.0 L644.4,173.8 L648.0,173.8 L651.0,173.8 L653.4,173.9 L655.4,174.0 L657.0,174.0" fill="none" stroke="#bcbcbc" stroke-width="1.8" stroke-dasharray="5.4 3.9" stroke-linejoin="round"/>
<path d="M89.5,375.9 L90.4,374.3 L91.6,371.9 L93.1,369.1 L95.0,366.0 L96.4,363.7 L97.9,361.2 L99.5,358.4 L101.3,355.6 L103.3,352.8 L105.5,350.0 L107.9,347.2 L110.6,344.4 L113.5,341.6 L116.5,338.7 L119.7,335.8 L123.0,333.0 L126.6,330.1 L130.4,327.1 L134.4,324.1 L138.4,321.2 L142.3,318.5 L146.0,316.0 L149.4,313.8 L152.8,311.8 L156.0,309.9 L159.1,308.2 L162.1,306.6 L165.0,305.0 L167.5,303.6 L169.7,302.5 L171.7,301.4 L173.9,300.3 L176.6,299.0 L180.0,297.4 L184.3,295.4 L189.4,293.0 L194.9,290.4 L200.7,287.8 L206.5,285.3 L212.0,283.0 L217.3,280.9 L222.7,278.9 L228.0,277.1 L233.3,275.2 L238.7,273.5 L244.0,271.7 L249.3,270.0 L254.6,268.2 L260.0,266.5 L265.3,264.9 L270.6,263.4 L276.0,262.0 L281.4,260.8 L286.8,259.7 L292.2,258.6 L297.7,257.7 L303.1,256.7 L308.5,255.7 L313.9,254.6 L319.2,253.5 L324.6,252.4 L329.9,251.3 L335.3,250.3 L340.6,249.3 L346.0,248.4 L351.5,247.6 L356.9,246.8 L362.4,246.0 L367.6,245.2 L372.7,244.5 L377.2,243.8 L381.2,243.3 L385.1,242.7 L389.2,242.1 L394.1,241.4 L400.0,240.5 L407.5,239.3 L416.2,237.8 L425.6,236.2 L435.2,234.6 L444.1,233.2 L452.0,232.0 L458.6,231.2 L464.3,230.6 L469.6,230.2 L474.6,229.9 L479.6,229.5 L485.0,229.0 L490.2,228.4 L494.9,227.8 L499.6,227.2 L504.9,226.5 L511.5,225.6 L520.0,224.5 L531.0,223.1 L544.2,221.3 L558.6,219.4 L573.4,217.5 L587.5,215.6 L600.0,214.0 L611.5,212.5 L622.8,211.1 L633.5,209.8 L643.1,208.7 L651.1,207.7 L657.0,207.0" fill="none" stroke="#bcbcbc" stroke-width="1.8" stroke-dasharray="5.4 3.9" stroke-linejoin="round"/>
<path d="M82.5,9.35 H89.5 M82.5,61.71 H89.5 M82.5,114.08 H89.5 M82.5,166.44 H89.5 M82.5,218.81 H89.5 M82.5,271.17 H89.5 M82.5,323.54 H89.5 M82.5,375.90 H89.5" stroke="#000" stroke-width="2.6" fill="none"/>
<path d="M89.50,375.90 V382.4 M203.30,375.90 V382.4 M317.10,375.90 V382.4 M430.90,375.90 V382.4 M544.70,375.90 V382.4 M658.50,375.90 V382.4" stroke="#000" stroke-width="2.6" fill="none"/>
<path d="M89.50,9.35 V375.90 H658.50" stroke="#000" stroke-width="2.6" fill="none" stroke-linejoin="miter"/>
<text transform="translate(69.6,17.95) scale(1,1.12)" font-family='"Liberation Serif", serif' font-size="21.6" text-anchor="end">1.4</text>
<text transform="translate(69.6,70.31) scale(1,1.12)" font-family='"Liberation Serif", serif' font-size="21.6" text-anchor="end">1.2</text>
<text transform="translate(69.6,122.68) scale(1,1.12)" font-family='"Liberation Serif", serif' font-size="21.6" text-anchor="end">1</text>
<text transform="translate(69.6,175.04) scale(1,1.12)" font-family='"Liberation Serif", serif' font-size="21.6" text-anchor="end">0.8</text>
<text transform="translate(69.6,227.41) scale(1,1.12)" font-family='"Liberation Serif", serif' font-size="21.6" text-anchor="end">0.6</text>
<text transform="translate(69.6,279.77) scale(1,1.12)" font-family='"Liberation Serif", serif' font-size="21.6" text-anchor="end">0.4</text>
<text transform="translate(69.6,332.14) scale(1,1.12)" font-family='"Liberation Serif", serif' font-size="21.6" text-anchor="end">0.2</text>
<text transform="translate(69.6,384.50) scale(1,1.12)" font-family='"Liberation Serif", serif' font-size="21.6" text-anchor="end">0</text>
<path d="M88.0,771.7 L88.5,769.2 L89.1,765.6 L89.9,761.4 L90.8,757.0 L91.7,752.6 L92.7,748.8 L93.7,745.5 L94.7,742.3 L95.8,739.2 L96.9,736.2 L98.2,733.3 L99.7,730.2 L101.2,727.1 L102.8,724.1 L104.5,721.1 L106.5,718.1 L108.7,714.9 L111.4,711.5 L114.6,707.8 L118.3,703.9 L122.3,699.8 L126.5,695.7 L130.7,691.8 L134.7,688.1 L138.6,684.7 L142.5,681.6 L146.4,678.6 L150.3,675.6 L154.2,672.6 L158.1,669.4 L162.0,666.0 L165.9,662.5 L169.8,658.8 L173.6,655.3 L177.5,651.7 L181.4,648.4 L185.3,645.2 L189.2,642.1 L193.1,639.1 L197.0,636.2 L200.9,633.3 L204.8,630.5 L208.7,627.7 L212.7,625.0 L216.7,622.4 L220.7,619.9 L224.5,617.4 L228.2,615.0 L231.7,612.8 L235.0,610.8 L238.2,608.8 L241.4,606.9 L244.6,604.8 L248.0,602.5 L251.4,600.1 L254.7,597.7 L258.1,595.2 L261.6,592.5 L265.6,589.4 L270.0,586.0 L275.1,582.0 L280.7,577.5 L286.7,572.7 L292.9,567.7 L299.0,563.0 L305.0,558.5 L310.8,554.3 L316.7,550.3 L322.5,546.4 L328.3,542.6 L334.2,539.0 L340.0,535.5 L345.8,532.2 L351.7,529.1 L357.5,526.2 L363.3,523.4 L369.2,520.7 L375.0,518.0 L380.9,515.4 L386.9,512.9 L392.8,510.5 L398.7,508.2 L404.5,506.0 L410.0,504.0 L415.3,502.1 L420.4,500.4 L425.3,498.9 L430.2,497.4 L435.1,495.9 L440.0,494.5 L444.7,493.1 L449.0,491.9 L453.2,490.6 L457.9,489.4 L463.4,488.0 L470.0,486.5 L478.0,484.8 L487.2,482.9 L497.2,480.9 L507.6,478.9 L518.0,476.9 L528.0,475.0 L538.1,473.1 L548.6,471.2 L559.1,469.4 L569.2,467.6 L578.7,466.1 L587.0,464.8 L594.0,463.8 L599.9,463.1 L605.0,462.6 L609.8,462.2 L614.7,461.9 L620.0,461.5 L626.1,461.1 L632.8,460.8 L639.6,460.5 L645.9,460.3 L651.2,460.1 L655.0,459.9" fill="none" stroke="#bcbcbc" stroke-width="1.8" stroke-dasharray="3.6 1.9" stroke-linejoin="round"/>
<path d="M88.0,771.7 L88.5,769.5 L89.2,766.4 L90.1,762.8 L91.0,758.9 L92.0,755.2 L93.0,752.0 L94.0,749.3 L95.0,746.7 L96.1,744.3 L97.3,742.0 L98.6,739.6 L100.0,737.0 L101.5,734.4 L102.9,731.7 L104.5,729.1 L106.3,726.3 L108.4,723.3 L110.7,720.4 L111.0,720.0 L113.2,717.4 L114.1,716.3 L116.4,713.8 L117.7,712.3 L120.0,709.9 L121.7,708.1 L123.9,705.7 L125.8,703.8 L128.1,701.6 L130.0,699.7 L132.2,697.6 L134.0,696.0 L136.2,694.1 L138.0,692.7 L140.2,690.9 L142.0,689.6 L144.2,687.9 L146.0,686.6 L148.2,685.0 L150.0,683.8 L152.3,682.2 L154.0,680.9 L156.3,679.3 L158.0,678.0 L160.2,676.3 L161.9,675.0 L164.1,673.3 L165.7,672.0 L168.0,670.3 L169.5,669.1 L171.8,667.3 L173.3,666.1 L175.5,664.3 L177.1,663.1 L179.4,661.3 L181.0,660.0 L183.2,658.2 L185.0,656.9 L187.2,655.1 L189.0,653.7 L191.2,652.0 L193.0,650.6 L195.2,648.8 L197.0,647.4 L199.3,645.6 L201.0,644.2 L203.3,642.4 L205.0,641.0 L207.2,639.1 L208.9,637.8 L211.2,635.9 L212.9,634.4 L215.1,632.5 L216.8,631.1 L219.0,629.2 L220.6,627.9 L222.8,626.1 L224.4,624.8 L226.6,623.1 L228.0,622.0 L230.2,620.4 L231.5,619.5 L233.7,617.9 L234.8,617.1 L237.1,615.7 L238.1,615.0 L240.3,613.6 L241.3,613.0 L243.5,611.6 L244.6,611.0 L246.8,609.7 L248.0,609.0 L250.2,607.7 L251.5,607.1 L253.7,605.8 L254.9,605.2 L257.1,604.0 L258.4,603.4 L260.6,602.3 L262.0,601.6 L264.2,600.6 L265.8,599.8 L268.1,598.8 L270.0,598.0 L272.2,597.1 L274.4,596.2 L276.7,595.3 L278.9,594.5 L279.0,594.4 L281.3,593.6 L283.5,592.7 L283.9,592.6 L286.1,591.8 L288.4,591.0 L289.0,590.8 L291.2,590.0 L293.5,589.3 L294.3,588.9 L296.6,588.2 L298.8,587.4 L300.0,587.0 L302.2,586.2 L304.5,585.5 L306.2,584.9 L308.5,584.1 L310.7,583.4 L313.0,582.7 L313.1,582.6 L315.3,581.9 L317.6,581.2 L319.8,580.4 L320.2,580.3 L322.4,579.6 L324.7,578.9 L326.9,578.1 L327.2,578.0 L329.5,577.3 L331.7,576.6 L333.9,575.9 L336.2,575.2 L338.4,574.5 L340.0,574.0 L342.2,573.3 L344.5,572.5 L344.8,572.4 L347.0,571.6 L348.5,571.1 L350.7,570.4 L351.8,570.0 L354.0,569.3 L355.5,568.9 L357.8,568.3 L360.0,567.7 L360.6,567.6 L362.8,567.1 L365.1,566.6 L367.3,566.1 L367.6,566.0 L369.8,565.6 L372.1,565.1 L374.3,564.7 L376.6,564.2 L377.6,564.0 L379.8,563.6 L382.1,563.2 L384.3,562.8 L386.6,562.4 L388.8,562.0 L390.0,561.7 L392.2,561.3 L394.5,560.9 L396.7,560.5 L399.0,560.1 L401.2,559.7 L403.5,559.3 L403.7,559.3 L405.9,558.9 L408.2,558.5 L410.4,558.1 L412.7,557.7 L414.9,557.4 L417.2,557.0 L417.3,556.9 L419.6,556.5 L421.8,556.1 L424.1,555.8 L426.3,555.4 L428.6,555.0 L429.9,554.8 L432.1,554.4 L434.4,554.0 L436.6,553.6 L438.9,553.2 L440.0,553.0 L442.3,552.6 L444.5,552.3 L446.8,551.9 L447.0,551.8 L449.2,551.5 L451.5,551.2 L451.7,551.2 L453.9,550.9 L455.1,550.8 L457.4,550.4 L458.6,550.3 L460.9,549.9 L463.1,549.4 L463.2,549.4 L465.4,549.0 L467.7,548.5 L469.9,548.0 L470.0,548.0 L472.2,547.5 L474.5,547.0 L476.8,546.5 L479.0,545.9 L479.5,545.8 L481.8,545.3 L484.0,544.8 L486.3,544.2 L488.5,543.7 L490.8,543.1 L490.9,543.1 L493.1,542.6 L495.4,542.0 L497.6,541.5 L499.9,540.9 L502.1,540.4 L503.3,540.1 L505.6,539.5 L507.8,539.0 L510.1,538.4 L512.3,537.9 L514.6,537.3 L516.1,536.9 L518.4,536.4 L520.6,535.8 L522.9,535.2 L525.1,534.7 L527.4,534.1 L528.6,533.8 L530.9,533.3 L533.1,532.7 L535.4,532.1 L537.6,531.6 L539.9,531.0 L540.0,528.5 L542.2,530.4 L544.5,532.4 L546.8,529.3 L549.0,526.2 L550.3,527.3 L552.5,529.2 L554.8,528.3 L557.0,525.2 L559.3,525.0 L560.1,525.7 L562.4,527.6 L564.6,524.8 L566.9,521.7 L569.1,523.3 L569.6,523.7 L571.8,524.9 L574.1,521.8 L576.3,519.4 L578.6,521.4 L578.8,521.5 L581.0,522.3 L583.3,519.2 L585.5,517.4 L587.8,519.3 L587.9,519.4 L590.1,520.0 L592.4,517.0 L594.6,515.3 L596.9,517.3 L597.0,517.4 L599.2,517.8 L601.5,514.8 L603.8,513.5 L606.0,515.6 L606.7,516.2 L608.9,515.1 L611.2,512.2 L613.4,512.4 L615.7,514.5 L616.9,514.7 L619.2,511.8 L621.4,509.9 L623.7,512.0 L625.9,513.1 L627.1,511.7 L629.3,508.8 L631.6,509.4 L633.8,511.5 L636.1,510.1 L636.4,509.7 L638.7,506.8 L640.9,508.2 L643.2,510.3 L644.3,509.6 L646.5,506.7 L648.8,505.6 L650.0,506.7" fill="none" stroke="#bcbcbc" stroke-width="1.8" stroke-dasharray="3.6 1.9" stroke-linejoin="round"/>
<path d="M88.0,771.7 L88.6,769.7 L89.5,767.0 L90.6,763.7 L91.7,760.3 L92.9,756.9 L94.0,754.0 L95.1,751.5 L96.1,749.1 L97.2,746.9 L98.3,744.7 L99.6,742.4 L101.0,740.0 L102.5,737.5 L104.0,735.1 L105.6,732.6 L107.4,730.0 L109.5,727.2 L112.0,724.0 L115.0,720.4 L118.4,716.4 L122.2,712.1 L126.1,707.9 L130.1,703.7 L134.0,700.0 L137.9,696.7 L141.9,693.6 L145.9,690.6 L150.0,687.8 L154.0,684.9 L158.0,682.0 L161.9,679.0 L165.7,676.0 L169.5,673.1 L173.3,670.1 L177.1,667.1 L181.0,664.0 L185.0,660.9 L189.0,657.7 L193.0,654.5 L197.0,651.3 L201.0,648.1 L205.0,645.0 L208.9,641.9 L212.9,638.7 L216.8,635.6 L220.6,632.6 L224.4,629.7 L228.0,627.0 L231.5,624.5 L234.8,622.3 L238.1,620.1 L241.3,618.1 L244.6,616.1 L248.0,614.0 L251.5,611.9 L254.9,609.9 L258.4,607.9 L262.0,605.9 L265.8,603.9 L270.0,602.0 L274.4,600.1 L279.0,598.3 L283.9,596.6 L289.0,594.8 L294.3,592.9 L300.0,591.0 L306.2,588.9 L313.1,586.7 L320.2,584.4 L327.2,582.1 L333.9,580.0 L340.0,578.0 L344.8,576.3 L348.5,574.9 L351.8,573.5 L355.5,572.1 L360.6,570.7 L367.6,569.0 L377.6,567.0 L390.0,564.7 L403.7,562.2 L417.3,559.9 L429.9,557.8 L440.0,556.0 L447.0,554.8 L451.7,554.1 L455.1,553.7 L458.6,553.1 L463.2,552.3 L470.0,551.0 L479.5,548.9 L490.9,546.2 L503.3,543.2 L516.1,540.3 L528.6,537.6 L540.0,535.5 L550.3,534.1 L560.0,533.2 L569.4,532.5 L578.6,532.0 L587.8,531.5 L597.0,530.8 L606.9,529.8 L617.5,528.7 L628.1,527.6 L637.8,526.5 L646.0,525.6 L652.0,525.0" fill="none" stroke="#bcbcbc" stroke-width="1.8" stroke-dasharray="5.4 3.9" stroke-linejoin="round"/>
<path d="M88.0,771.7 L88.8,770.0 L89.8,767.6 L91.0,764.7 L92.3,761.7 L93.7,758.7 L95.0,756.0 L96.2,753.6 L97.5,751.2 L98.8,749.0 L100.1,746.7 L101.5,744.4 L103.0,742.0 L104.5,739.7 L106.0,737.4 L107.6,735.1 L109.4,732.6 L111.5,730.0 L114.0,727.0 L117.0,723.6 L120.5,719.7 L124.3,715.7 L128.3,711.6 L132.2,707.6 L136.0,704.0 L139.7,700.7 L143.3,697.6 L146.9,694.7 L150.6,691.8 L154.3,688.9 L158.0,686.0 L161.8,683.0 L165.6,680.0 L169.4,677.1 L173.2,674.1 L177.1,671.1 L181.0,668.0 L185.0,664.9 L189.0,661.7 L193.0,658.4 L197.0,655.2 L201.0,652.1 L205.0,649.0 L208.9,646.0 L212.9,643.0 L216.8,640.1 L220.6,637.3 L224.4,634.6 L228.0,632.0 L231.5,629.6 L234.8,627.4 L238.1,625.2 L241.3,623.2 L244.6,621.1 L248.0,619.0 L251.5,616.8 L254.9,614.6 L258.4,612.4 L262.0,610.3 L265.8,608.1 L270.0,606.0 L274.4,604.0 L279.0,602.0 L283.9,600.0 L289.0,598.0 L294.3,596.0 L300.0,594.0 L306.2,591.8 L313.1,589.6 L320.2,587.3 L327.2,585.1 L333.9,582.9 L340.0,581.0 L344.8,579.3 L348.5,577.9 L351.8,576.5 L355.5,575.1 L360.6,573.7 L367.6,572.0 L377.6,570.0 L390.0,567.7 L403.7,565.2 L417.3,562.9 L429.9,560.8 L440.0,559.0 L447.0,557.8 L451.7,557.1 L455.1,556.7 L458.6,556.2 L463.2,555.4 L470.0,554.0 L479.5,551.9 L490.9,549.2 L503.3,546.1 L516.1,543.1 L528.6,540.4 L540.0,538.4 L550.3,537.1 L560.0,536.2 L569.4,535.7 L578.6,535.4 L587.8,535.0 L597.0,534.5 L606.9,533.8 L617.5,533.1 L628.1,532.4 L637.8,531.8 L646.0,531.2 L652.0,530.8" fill="none" stroke="#bcbcbc" stroke-width="1.8" stroke-dasharray="5.4 3.9" stroke-linejoin="round"/>
<path d="M88.0,771.7 L88.5,770.8 L88.9,770.2 L89.4,769.3 L89.9,768.5 L90.1,768.1 L90.6,767.3 L91.1,766.4 L91.5,765.7 L92.0,764.8 L92.5,763.9 L93.0,763.1 L93.0,763.0 L93.5,762.2 L94.0,761.3 L94.5,760.5 L94.6,760.4 L95.1,759.6 L95.6,758.7 L96.0,758.0 L96.5,757.1 L97.0,756.3 L97.3,755.8 L97.8,754.9 L98.3,754.1 L98.5,753.7 L99.0,752.8 L99.5,751.9 L99.8,751.5 L100.2,750.7 L100.8,749.9 L101.0,749.4 L101.5,748.6 L102.0,747.8 L102.4,747.2 L102.9,746.5 L103.4,745.8 L103.9,745.1 L104.0,745.0 L104.5,744.3 L105.0,743.7 L105.5,743.0 L105.7,742.8 L106.2,742.2 L106.7,741.6 L107.2,741.0 L107.3,740.7 L107.8,740.2 L108.3,739.6 L108.8,739.0 L109.1,738.6 L109.6,738.1 L110.1,737.5 L110.6,736.9 L111.1,736.4 L111.6,735.8 L112.1,735.3 L112.6,734.7 L113.1,734.2 L113.4,733.9 L113.9,733.3 L114.4,732.8 L114.9,732.2 L115.4,731.7 L115.9,731.1 L116.0,731.0 L116.5,730.5 L117.0,729.9 L117.5,729.4 L118.0,728.8 L118.5,728.3 L119.0,727.7 L119.1,727.6 L119.6,727.1 L120.1,726.5 L120.6,726.0 L121.1,725.5 L121.6,724.9 L122.1,724.4 L122.6,723.8 L122.6,723.8 L123.1,723.3 L123.6,722.7 L124.1,722.2 L124.6,721.7 L125.1,721.1 L125.6,720.6 L126.1,720.1 L126.4,719.8 L126.9,719.2 L127.4,718.7 L127.9,718.2 L128.4,717.6 L128.9,717.1 L129.4,716.6 L129.9,716.1 L130.3,715.6 L130.8,715.1 L131.3,714.6 L131.8,714.1 L132.3,713.6 L132.8,713.1 L133.3,712.6 L133.8,712.1 L134.2,711.6 L134.7,711.2 L135.2,710.7 L135.7,710.2 L136.2,709.7 L136.7,709.2 L137.2,708.8 L137.7,708.3 L138.0,708.0 L138.5,707.6 L139.0,707.1 L139.5,706.7 L140.0,706.2 L140.5,705.8 L141.0,705.3 L141.5,704.9 L141.7,704.7 L142.2,704.3 L142.7,703.9 L143.2,703.4 L143.7,703.0 L144.2,702.6 L144.7,702.2 L145.2,701.7 L145.3,701.6 L145.8,701.2 L146.3,700.8 L146.8,700.4 L147.3,700.0 L147.8,699.6 L148.3,699.2 L148.8,698.8 L148.9,698.7 L149.4,698.3 L149.9,697.9 L150.4,697.5 L150.9,697.1 L151.4,696.7 L151.9,696.3 L152.4,695.9 L152.6,695.8 L153.1,695.4 L153.6,695.0 L154.1,694.6 L154.6,694.3 L155.1,693.9 L155.6,693.5 L156.1,693.1 L156.3,692.9 L156.8,692.5 L157.3,692.2 L157.8,691.8 L158.3,691.4 L158.8,691.0 L159.3,690.6 L159.8,690.2 L160.0,690.0 L160.5,689.6 L161.0,689.2 L161.5,688.8 L162.0,688.4 L162.5,688.0 L163.0,687.6 L163.5,687.2 L163.8,687.0 L164.3,686.6 L164.8,686.2 L165.3,685.8 L165.8,685.4 L166.3,685.0 L166.8,684.6 L167.3,684.2 L167.6,684.0 L168.1,683.6 L168.6,683.2 L169.1,682.8 L169.6,682.4 L170.1,682.0 L170.6,681.7 L171.1,681.3 L171.4,681.0 L171.9,680.6 L172.4,680.2 L172.9,679.8 L173.4,679.4 L173.9,679.1 L174.4,678.7 L174.9,678.3 L175.3,678.0 L175.8,677.6 L176.3,677.2 L176.8,676.8 L177.3,676.4 L177.8,676.1 L178.3,675.7 L178.8,675.3 L179.2,675.0 L179.7,674.6 L180.2,674.2 L180.7,673.8 L181.2,673.4 L181.7,673.0 L182.2,672.7 L182.7,672.3 L183.0,672.0 L183.5,671.6 L184.0,671.2 L184.5,670.8 L185.0,670.4 L185.5,670.0 L186.0,669.7 L186.5,669.3 L186.8,669.0 L187.3,668.6 L187.8,668.2 L188.3,667.8 L188.8,667.4 L189.3,667.0 L189.8,666.6 L190.3,666.2 L190.7,666.0 L191.2,665.6 L191.7,665.2 L192.2,664.8 L192.7,664.4 L193.2,664.0 L193.7,663.6 L194.2,663.2 L194.6,662.9 L195.1,662.5 L195.6,662.2 L196.1,661.8 L196.6,661.4 L197.1,661.0 L197.6,660.6 L198.1,660.2 L198.4,659.9 L198.9,659.5 L199.4,659.1 L199.9,658.8 L200.4,658.4 L200.9,658.0 L201.4,657.6 L201.9,657.2 L202.2,656.9 L202.7,656.6 L203.2,656.2 L203.7,655.8 L204.2,655.4 L204.7,655.0 L205.2,654.6 L205.7,654.2 L206.0,654.0 L206.5,653.6 L207.0,653.2 L207.5,652.8 L208.0,652.4 L208.5,652.0 L209.0,651.6 L209.5,651.3 L209.7,651.1 L210.2,650.7 L210.7,650.3 L211.2,649.9 L211.7,649.5 L212.2,649.1 L212.7,648.7 L213.2,648.3 L213.5,648.1 L214.0,647.7 L214.5,647.3 L215.0,646.9 L215.5,646.5 L216.0,646.1 L216.5,645.7 L217.0,645.4 L217.2,645.2 L217.7,644.8 L218.2,644.4 L218.7,644.0 L219.2,643.6 L219.7,643.2 L220.2,642.9 L220.7,642.5 L220.9,642.3 L221.4,642.0 L221.9,641.6 L222.4,641.2 L222.9,640.8 L223.4,640.4 L223.9,640.1 L224.4,639.7 L224.5,639.6 L225.0,639.2 L225.5,638.9 L226.0,638.5 L226.5,638.1 L227.0,637.8 L227.5,637.4 L228.0,637.0 L228.0,637.0 L228.5,636.7 L229.0,636.3 L229.5,636.0 L230.0,635.6 L230.5,635.3 L231.0,634.9 L231.4,634.6 L231.9,634.3 L232.4,633.9 L232.9,633.6 L233.4,633.3 L233.9,632.9 L234.4,632.6 L234.7,632.4 L235.2,632.1 L235.7,631.8 L236.2,631.4 L236.7,631.1 L237.2,630.8 L237.7,630.5 L238.0,630.3 L238.5,630.0 L239.0,629.7 L239.5,629.4 L240.0,629.1 L240.5,628.7 L241.0,628.4 L241.3,628.3 L241.8,627.9 L242.3,627.6 L242.8,627.3 L243.3,627.0 L243.8,626.7 L244.3,626.4 L244.6,626.2 L245.1,625.9 L245.6,625.5 L246.1,625.2 L246.6,624.9 L247.1,624.6 L247.6,624.3 L248.0,624.0 L248.5,623.7 L249.0,623.3 L249.5,623.0 L250.0,622.7 L250.5,622.3 L251.0,622.0 L251.5,621.7 L252.0,621.4 L252.5,621.0 L253.0,620.7 L253.5,620.3 L254.0,620.0 L254.5,619.7 L254.9,619.4 L255.4,619.0 L255.9,618.7 L256.4,618.4 L256.9,618.0 L257.4,617.7 L257.9,617.3 L258.4,617.0 L258.9,616.7 L259.4,616.3 L259.9,616.0 L260.4,615.7 L260.9,615.4 L261.4,615.0 L261.9,614.7 L262.0,614.6 L262.5,614.3 L263.0,614.0 L263.5,613.7 L264.0,613.4 L264.5,613.1 L265.0,612.8 L265.5,612.5 L265.8,612.3 L266.3,612.0 L266.8,611.7 L267.3,611.5 L267.8,611.2 L268.3,610.9 L268.8,610.6 L269.3,610.4 L269.8,610.1 L270.0,610.0 L270.5,609.8 L271.0,609.5 L271.5,609.3 L272.0,609.0 L272.5,608.8 L273.0,608.5 L273.5,608.3 L274.0,608.0 L274.4,607.8 L274.9,607.6 L275.4,607.3 L275.9,607.1 L276.4,606.9 L276.9,606.6 L277.4,606.4 L277.9,606.2 L278.4,606.0 L278.9,605.7 L279.0,605.7 L279.5,605.4 L280.0,605.2 L280.5,605.0 L281.0,604.8 L281.5,604.6 L282.0,604.4 L282.5,604.1 L283.0,603.9 L283.5,603.7 L283.9,603.6 L284.4,603.4 L284.9,603.1 L285.4,602.9 L285.9,602.7 L286.4,602.5 L286.9,602.3 L287.4,602.1 L287.9,601.9 L288.4,601.7 L288.9,601.5 L289.0,601.4 L289.5,601.2 L290.0,601.0 L290.5,600.8 L291.0,600.6 L291.5,600.4 L292.0,600.2 L292.5,600.0 L293.0,599.8 L293.5,599.6 L294.0,599.4 L294.3,599.3 L294.8,599.1 L295.3,598.9 L295.8,598.7 L296.3,598.5 L296.8,598.3 L297.3,598.1 L297.8,597.9 L298.3,597.7 L298.8,597.5 L299.3,597.3 L299.8,597.1 L300.0,597.0 L300.5,596.8 L301.0,596.6 L301.5,596.4 L302.0,596.2 L302.5,596.0 L303.0,595.8 L303.5,595.6 L304.0,595.4 L304.5,595.2 L305.0,595.0 L305.5,594.8 L306.0,594.6 L306.2,594.5 L306.7,594.4 L307.2,594.2 L307.7,594.0 L308.2,593.8 L308.7,593.6 L309.2,593.4 L309.7,593.2 L310.2,593.0 L310.7,592.8 L311.2,592.6 L311.7,592.4 L312.2,592.2 L312.7,592.0 L313.1,591.9 L313.6,591.7 L314.1,591.5 L314.6,591.4 L315.1,591.2 L315.6,591.0 L316.1,590.8 L316.6,590.6 L317.1,590.4 L317.6,590.2 L318.1,590.0 L318.6,589.9 L319.1,589.7 L319.6,589.5 L320.1,589.3 L320.2,589.2 L320.7,589.1 L321.2,588.9 L321.7,588.7 L322.2,588.5 L322.7,588.3 L323.2,588.1 L323.7,588.0 L324.2,587.8 L324.7,587.6 L325.2,587.4 L325.7,587.2 L326.2,587.0 L326.7,586.8 L327.2,586.7 L327.2,586.6 L327.7,586.4 L328.2,586.3 L328.7,586.1 L329.2,585.9 L329.7,585.7 L330.2,585.5 L330.7,585.4 L331.2,585.2 L331.7,585.0 L332.2,584.8 L332.7,584.6 L333.2,584.4 L333.7,584.3 L333.9,584.2 L334.4,584.0 L334.9,583.8 L335.4,583.6 L335.9,583.5 L336.4,583.3 L336.9,583.1 L337.4,582.9 L337.9,582.7 L338.4,582.6 L338.9,582.4 L339.4,582.2 L339.9,582.0 L340.0,582.0 L340.5,581.8 L341.0,581.6 L341.5,581.5 L342.0,581.3 L342.5,581.1 L343.0,580.9 L343.5,580.7 L344.0,580.6 L344.5,580.4 L345.0,580.2 L345.0,580.2 L345.5,580.0 L346.0,579.8 L346.5,579.6 L347.0,579.4 L347.5,579.3 L348.0,579.1 L348.5,578.9 L349.0,578.7 L349.2,578.6 L349.7,578.5 L350.2,578.3 L350.7,578.1 L351.2,577.9 L351.7,577.8 L352.2,577.6 L352.7,577.4 L353.0,577.3 L353.5,577.1 L354.0,577.0 L354.5,576.8 L355.0,576.6 L355.5,576.5 L356.0,576.3 L356.5,576.1 L357.0,576.0 L357.5,575.8 L358.0,575.7 L358.5,575.5 L359.0,575.4 L359.5,575.2 L360.0,575.1 L360.5,574.9 L361.0,574.8 L361.5,574.6 L361.7,574.6 L362.2,574.4 L362.7,574.3 L363.2,574.2 L363.7,574.0 L364.2,573.9 L364.7,573.8 L365.2,573.6 L365.7,573.5 L366.2,573.4 L366.7,573.2 L367.2,573.1 L367.6,573.0 L368.1,572.9 L368.6,572.8 L369.1,572.6 L369.6,572.5 L370.1,572.4 L370.6,572.3 L371.1,572.1 L371.6,572.0 L372.1,571.9 L372.6,571.8 L373.1,571.6 L373.6,571.5 L374.1,571.4 L374.6,571.3 L374.9,571.2 L375.4,571.1 L375.9,571.0 L376.4,570.8 L376.9,570.7 L377.4,570.6 L377.9,570.5 L378.4,570.4 L378.9,570.3 L379.4,570.1 L379.9,570.0 L380.4,569.9 L380.9,569.8 L381.4,569.7 L381.9,569.6 L382.4,569.4 L382.9,569.3 L383.3,569.2 L383.8,569.1 L384.3,569.0 L384.8,568.9 L385.3,568.8 L385.8,568.7 L386.3,568.6 L386.8,568.5 L387.3,568.4 L387.8,568.2 L388.3,568.1 L388.8,568.0 L389.3,567.9 L389.8,567.8 L390.3,567.7 L390.8,567.6 L391.3,567.5 L391.8,567.3 L392.3,567.2 L392.4,567.2 L392.9,567.1 L393.4,567.0 L393.9,566.9 L394.4,566.8 L394.9,566.7 L395.4,566.6 L395.9,566.5 L396.4,566.4 L396.9,566.3 L397.4,566.1 L397.9,566.0 L398.4,565.9 L398.9,565.8 L399.4,565.7 L399.9,565.6 L400.4,565.5 L400.9,565.4 L401.4,565.3 L401.8,565.2 L402.3,565.1 L402.8,565.0 L403.3,564.9 L403.8,564.8 L404.3,564.7 L404.8,564.6 L405.3,564.5 L405.8,564.4 L406.3,564.3 L406.8,564.2 L407.3,564.1 L407.8,564.0 L408.3,563.9 L408.8,563.8 L409.3,563.7 L409.8,563.5 L410.3,563.4 L410.8,563.3 L411.1,563.3 L411.6,563.2 L412.1,563.1 L412.6,563.0 L413.1,562.9 L413.6,562.8 L414.1,562.7 L414.6,562.6 L415.1,562.5 L415.6,562.4 L416.1,562.3 L416.6,562.2 L417.1,562.1 L417.6,562.0 L418.1,561.9 L418.6,561.8 L419.1,561.7 L419.6,561.6 L420.0,561.5 L420.5,561.4 L421.0,561.3 L421.5,561.2 L422.0,561.1 L422.5,561.0 L423.0,560.9 L423.5,560.8 L424.0,560.7 L424.5,560.6 L425.0,560.5 L425.5,560.4 L426.0,560.4 L426.5,560.3 L427.0,562.3 L427.5,564.4 L428.0,566.5 L428.2,566.1 L428.7,565.4 L429.2,564.6 L429.7,563.9 L430.2,563.1 L430.7,562.4 L431.2,561.7 L431.7,560.9 L432.2,560.2 L432.7,559.4 L433.2,559.0 L433.7,558.9 L434.2,558.8 L434.7,558.7 L435.2,558.6 L435.7,558.5 L436.1,558.5 L436.6,558.4 L437.1,558.3 L437.6,558.7 L438.1,560.7 L438.6,562.8 L439.1,564.3 L439.6,563.6 L440.1,562.9 L440.6,562.1 L441.1,561.4 L441.6,560.6 L442.1,559.9 L442.6,559.2 L443.1,558.4 L443.6,557.7 L443.9,557.3 L444.4,557.0 L444.9,557.0 L445.4,556.9 L445.9,556.8 L446.4,556.7 L446.9,556.6 L447.4,556.5 L447.9,556.5 L448.4,556.4 L448.9,558.0 L449.4,560.1 L449.9,562.2 L450.4,562.0 L450.9,561.3 L451.4,560.6 L451.9,559.8 L451.9,559.8 L452.4,559.0 L452.9,558.3 L453.4,557.6 L453.9,556.9 L454.4,556.1 L454.9,555.4 L455.4,555.2 L455.9,555.2 L456.4,555.1 L456.9,555.0 L457.4,554.9 L457.9,554.8 L458.4,554.8 L458.9,554.7 L459.4,554.6 L459.9,556.4 L460.4,558.5 L460.5,558.9 L461.0,560.8 L461.5,560.1 L462.0,559.4 L462.5,558.6 L463.0,557.9 L463.5,557.2 L464.0,556.5 L464.5,555.7 L465.0,555.0 L465.5,554.3 L466.0,553.6 L466.5,553.5 L467.0,553.5 L467.5,553.4 L468.0,553.3 L468.5,553.2 L469.0,553.1 L469.5,553.1 L470.0,553.0 L470.5,552.9 L471.0,555.0 L471.5,557.1 L472.0,559.2 L472.5,558.5 L473.0,557.8 L473.5,557.0 L474.0,556.3 L474.5,555.6 L475.0,554.9 L475.5,554.1 L476.0,553.4 L476.5,552.7 L477.0,552.0 L477.5,551.9 L478.0,551.8 L478.5,551.7 L479.0,551.7 L479.5,551.6 L480.0,551.5 L480.5,551.4 L480.7,551.4 L481.2,551.3 L481.7,552.0 L482.2,554.1 L482.7,556.1 L483.2,557.3 L483.7,556.6 L484.2,555.9 L484.7,555.2 L485.2,554.4 L485.7,553.7 L486.2,553.0 L486.7,552.3 L487.2,551.6 L487.7,550.8 L488.2,550.3 L488.7,550.2 L489.2,550.2 L489.7,550.1 L490.2,550.0 L490.7,549.9 L491.2,549.9 L491.7,549.8 L492.2,549.7 L492.3,549.7 L492.8,551.1 L493.3,553.2 L493.8,555.3 L494.3,555.5 L494.8,554.8 L495.3,554.0 L495.8,553.3 L496.3,552.6 L496.8,551.9 L497.3,551.2 L497.8,550.4 L498.3,549.7 L498.8,549.0 L499.3,548.7 L499.8,548.6 L500.3,548.6 L500.8,548.5 L501.3,548.4 L501.8,548.4 L502.3,548.3 L502.8,548.2 L503.3,548.1 L503.8,549.5 L504.3,551.6 L504.6,552.6 L505.1,554.3 L505.6,553.6 L506.1,552.9 L506.6,552.2 L507.1,551.4 L507.6,550.7 L508.1,550.0 L508.6,549.3 L509.1,548.6 L509.6,547.9 L510.1,547.2 L510.6,547.2 L511.1,547.1 L511.6,547.0 L512.1,547.0 L512.6,546.9 L513.1,546.8 L513.6,546.7 L514.1,546.7 L514.6,546.9 L515.1,549.0 L515.6,551.1 L516.1,552.8 L516.6,552.1 L516.9,551.6 L517.4,550.9 L517.9,550.2 L518.4,549.5 L518.9,548.8 L519.4,548.1 L519.9,547.4 L520.4,546.6 L520.9,545.9 L521.4,545.7 L521.9,545.7 L522.4,545.6 L522.9,545.5 L523.4,545.5 L523.9,545.4 L524.4,545.3 L524.9,545.3 L525.4,545.2 L525.9,546.8 L526.4,548.9 L526.9,551.0 L527.4,551.0 L527.9,550.2 L528.4,549.5 L528.9,548.9 L529.4,548.2 L529.9,547.5 L530.4,546.7 L530.9,546.0 L531.4,545.3 L531.9,544.6 L532.4,544.4 L532.9,544.3 L533.4,544.3 L533.9,544.2 L534.4,544.1 L534.9,544.1 L535.4,544.0 L535.9,544.0 L536.4,543.9 L536.9,545.4 L537.4,547.5 L537.9,549.6 L538.4,549.7 L538.9,549.0 L539.4,548.3 L539.9,547.6 L540.0,547.4 L540.5,546.7 L541.0,546.0 L541.5,545.3 L542.0,544.6 L542.5,543.9 L543.0,543.2 L543.5,543.2 L544.0,543.1 L544.5,543.1 L545.0,543.0 L545.5,543.0 L546.0,542.9 L546.5,542.9 L547.0,542.8 L547.5,542.8 L548.0,544.9 L548.5,547.0 L549.0,549.1 L549.5,548.4 L550.0,547.7 L550.3,547.4 L550.8,546.7 L551.3,546.0 L551.8,545.3 L552.3,544.6 L552.8,543.9 L553.3,543.2 L553.8,542.5 L554.3,542.2 L554.8,542.1 L555.3,542.1 L555.8,542.1 L556.3,542.0 L556.8,542.0 L557.3,541.9 L557.8,541.9 L558.3,541.9 L558.8,542.9 L559.3,545.0 L559.8,547.2 L560.0,548.1 L560.5,547.6 L561.0,546.9 L561.5,546.2 L562.0,545.5 L562.5,544.9 L563.0,544.2 L563.5,543.5 L564.0,542.8 L564.5,542.1 L565.0,541.4 L565.5,541.4 L566.0,541.3 L566.5,541.3 L567.0,541.3 L567.5,541.2 L568.0,541.2 L568.5,541.2 L569.0,541.1 L569.3,541.1 L569.8,542.4 L570.3,544.6 L570.8,546.7 L571.3,547.1 L571.8,546.4 L572.3,545.7 L572.8,545.0 L573.3,544.4 L573.8,543.7 L574.3,543.0 L574.8,542.3 L575.3,541.6 L575.8,541.0 L576.3,540.7 L576.8,540.7 L577.3,540.6 L577.8,540.6 L578.3,540.6 L578.5,540.6 L579.0,540.5 L579.5,540.5 L580.0,540.5 L580.5,540.4 L581.0,542.5 L581.5,544.6 L582.0,546.8 L582.5,546.2 L583.0,545.5 L583.5,544.9 L584.0,544.2 L584.5,543.5 L585.0,542.8 L585.5,542.1 L586.0,541.5 L586.5,540.8 L587.0,540.1 L587.5,540.1 L587.7,540.0 L588.2,540.0 L588.7,540.0 L589.2,540.0 L589.7,539.9 L590.2,539.9 L590.7,539.9 L591.2,539.8 L591.7,540.5 L592.2,542.6 L592.7,544.7 L593.2,546.0 L593.7,545.3 L594.2,544.7 L594.7,544.0 L595.2,543.3 L595.7,542.6 L596.2,542.0 L596.7,541.3 L597.0,540.8 L597.5,540.1 L598.0,539.4 L598.5,539.4 L599.0,539.4 L599.5,539.4 L600.0,539.3 L600.5,539.3 L601.0,539.3 L601.5,539.2 L602.0,539.2 L602.5,539.2 L603.0,541.3 L603.5,543.5 L604.0,545.6 L604.5,544.9 L605.0,544.2 L605.5,543.6 L606.0,542.9 L606.5,542.2 L607.0,541.5 L607.2,541.3 L607.7,540.6 L608.2,539.9 L608.7,539.3 L609.2,538.8 L609.7,538.8 L610.2,538.7 L610.7,538.7 L611.2,538.7 L611.7,538.7 L612.2,538.6 L612.7,538.6 L613.2,538.6 L613.7,539.2 L614.2,541.4 L614.7,543.5 L615.2,544.8 L615.7,544.1 L616.2,543.4 L616.7,542.7 L617.2,542.1 L617.7,541.4 L618.1,540.8 L618.6,540.1 L619.1,539.4 L619.6,538.7 L620.1,538.2 L620.6,538.2 L621.1,538.2 L621.6,538.1 L622.1,538.1 L622.6,538.1 L623.1,538.1 L623.6,538.0 L624.1,538.0 L624.6,538.5 L625.1,540.6 L625.6,542.7 L626.1,544.3 L626.6,543.6 L627.1,542.9 L627.6,542.2 L628.1,541.6 L628.6,540.9 L629.1,540.3 L629.6,539.6 L630.1,538.9 L630.6,538.2 L631.1,537.6 L631.6,537.6 L632.1,537.6 L632.6,537.6 L633.1,537.5 L633.6,537.5 L634.1,537.5 L634.6,537.5 L635.1,537.4 L635.6,537.7 L636.1,539.8 L636.6,542.0 L637.1,543.8 L637.6,543.1 L638.1,542.4 L638.6,541.7 L639.1,541.1 L639.2,540.9 L639.7,540.2 L640.2,539.5 L640.7,538.8 L641.2,538.2 L641.7,537.5 L642.2,537.1 L642.7,537.1 L643.2,537.0 L643.7,537.0 L644.2,537.0 L644.7,537.0 L645.2,536.9 L645.7,536.9 L646.2,536.9 L646.7,537.8 L647.2,540.0 L647.7,542.1 L647.8,542.4 L648.3,542.9 L648.8,542.2 L649.3,541.6 L649.8,540.9 L650.3,540.2 L650.8,539.5 L651.3,538.8 L651.8,538.2 L652.3,537.5 L652.8,536.8 L653.3,536.5 L653.8,536.5 L654.0,536.5" fill="none" stroke="#bcbcbc" stroke-width="1.8" stroke-dasharray="3.6 1.9" stroke-linejoin="round"/>
<path d="M88.0,771.7 L88.8,770.1 L89.8,767.9 L91.0,765.2 L92.3,762.4 L93.7,759.6 L95.0,757.0 L96.3,754.6 L97.5,752.2 L98.8,749.9 L100.1,747.6 L101.5,745.3 L103.0,743.0 L104.5,740.8 L106.1,738.6 L107.8,736.5 L109.4,734.4 L111.2,732.2 L113.0,730.0 L114.8,727.8 L116.5,725.6 L118.3,723.4 L120.3,721.1 L122.5,718.6 L125.0,716.0 L127.8,713.2 L130.9,710.4 L134.2,707.4 L137.8,704.2 L141.7,700.8 L146.0,697.0 L150.8,692.7 L156.2,687.8 L162.0,682.6 L167.8,677.5 L173.6,672.6 L179.0,668.4 L184.1,664.8 L189.0,661.6 L193.8,658.7 L198.6,656.1 L203.4,653.5 L208.4,651.0 L213.7,648.5 L219.2,646.1 L224.8,643.9 L230.2,641.7 L235.4,639.8 L240.0,638.0 L244.0,636.5 L247.4,635.2 L250.5,634.2 L253.5,633.1 L256.6,632.1 L260.0,631.0 L263.7,629.8 L267.6,628.6 L271.6,627.4 L275.7,626.2 L279.8,624.9 L284.0,623.5 L288.2,622.0 L292.4,620.5 L296.6,618.9 L301.0,617.3 L305.4,615.7 L310.0,614.0 L314.8,612.3 L319.8,610.5 L324.9,608.8 L330.0,607.0 L335.1,605.2 L340.0,603.5 L344.7,601.8 L349.2,600.2 L353.6,598.6 L358.1,597.0 L362.7,595.5 L367.6,594.0 L372.6,592.6 L377.8,591.3 L383.0,590.1 L388.5,588.8 L394.1,587.6 L400.0,586.3 L406.2,584.9 L412.8,583.6 L419.5,582.2 L426.4,580.8 L433.2,579.4 L440.0,578.0 L446.7,576.6 L453.3,575.2 L460.0,573.7 L466.7,572.4 L473.3,571.1 L480.0,570.0 L486.9,569.1 L494.1,568.3 L501.2,567.7 L508.1,567.1 L514.5,566.6 L520.0,566.0 L524.0,565.5 L526.7,565.0 L528.8,564.6 L531.1,564.1 L534.6,563.6 L540.0,563.0 L547.7,562.3 L557.2,561.4 L567.8,560.5 L578.8,559.6 L589.8,558.8 L600.0,558.0 L610.2,557.3 L621.0,556.6 L631.8,555.9 L641.6,555.4 L650.0,554.9 L656.0,554.5" fill="none" stroke="#bcbcbc" stroke-width="1.9" stroke-linejoin="round"/>
<path d="M88.0,771.7 L88.9,770.1 L90.0,767.8 L91.4,765.1 L93.0,762.2 L94.5,759.5 L96.0,757.0 L97.4,754.8 L98.8,752.8 L100.2,750.8 L101.7,748.9 L103.3,747.0 L105.0,745.0 L106.8,743.1 L108.7,741.2 L110.6,739.3 L112.7,737.4 L114.8,735.3 L117.0,733.0 L119.1,730.6 L121.2,728.0 L123.3,725.4 L125.7,722.5 L128.5,719.4 L131.8,716.0 L135.9,712.1 L140.5,707.9 L145.6,703.3 L150.9,698.7 L156.1,694.2 L161.0,690.0 L165.6,686.0 L170.2,682.0 L174.6,678.1 L179.1,674.4 L183.5,671.0 L188.0,668.0 L192.4,665.4 L196.7,663.3 L201.0,661.4 L205.4,659.7 L210.0,657.9 L215.0,656.0 L220.4,653.9 L226.3,651.8 L232.3,649.7 L238.4,647.6 L244.4,645.6 L250.0,643.6 L255.4,641.7 L260.7,639.7 L265.9,637.8 L270.9,636.1 L275.6,634.4 L280.0,633.0 L283.4,632.0 L285.6,631.3 L287.7,630.8 L290.2,630.3 L294.0,629.4 L300.0,628.0 L308.9,625.8 L320.3,623.1 L333.0,620.0 L345.9,616.9 L357.8,614.1 L367.6,612.0 L374.5,610.6 L379.2,609.8 L383.0,609.2 L387.0,608.8 L392.3,608.2 L400.0,607.3 L411.0,606.0 L424.6,604.4 L439.5,602.7 L454.5,601.0 L468.4,599.4 L480.0,598.0 L489.2,596.8 L497.0,595.8 L503.8,594.9 L509.6,594.0 L515.0,593.2 L520.0,592.4 L524.0,591.7 L526.7,591.1 L528.8,590.6 L531.1,590.0 L534.6,589.4 L540.0,588.7 L547.8,587.8 L557.3,586.9 L567.9,585.9 L579.0,584.8 L589.9,583.9 L600.0,583.0 L610.0,582.2 L620.4,581.5 L630.8,580.7 L640.2,580.1 L648.2,579.6 L654.0,579.2" fill="none" stroke="#bcbcbc" stroke-width="1.9" stroke-linejoin="round"/>
<path d="M88.0,771.7 L89.0,770.2 L90.3,768.0 L91.9,765.5 L93.6,762.8 L95.3,760.2 L97.0,758.0 L98.9,755.8 L100.8,753.8 L102.7,751.9 L104.8,750.0 L107.0,748.0 L108.9,746.3 L110.9,744.6 L112.9,742.9 L115.0,741.1 L117.4,739.2 L120.0,737.0 L122.9,734.5 L126.0,731.9 L129.2,729.1 L132.7,726.1 L136.3,723.1 L140.0,720.0 L143.8,716.9 L147.8,713.7 L151.9,710.4 L156.1,707.0 L160.5,703.5 L165.0,700.0 L169.7,696.3 L174.6,692.3 L179.7,688.3 L184.8,684.3 L189.9,680.5 L195.0,677.0 L200.1,673.8 L205.2,670.7 L210.3,667.8 L215.4,665.1 L220.3,662.5 L225.0,660.0 L229.2,657.8 L232.8,655.8 L236.2,653.9 L240.0,652.1 L244.4,650.2 L250.0,648.0 L256.7,645.6 L264.2,643.0 L272.3,640.2 L281.1,637.5 L290.4,634.7 L300.0,632.0 L310.7,629.2 L322.5,626.3 L334.9,623.4 L347.0,620.6 L358.2,618.1 L367.6,616.0 L374.5,614.5 L379.2,613.4 L383.0,612.6 L387.0,611.9 L392.3,611.1 L400.0,610.0 L411.0,608.5 L424.6,606.8 L439.5,604.9 L454.5,603.1 L468.4,601.4 L480.0,600.0 L489.2,598.9 L497.0,597.9 L503.8,597.1 L509.6,596.4 L515.0,595.7 L520.0,595.0 L524.0,594.3 L526.7,593.6 L528.8,592.9 L531.1,592.3 L534.6,591.7 L540.0,591.0 L547.7,590.3 L557.2,589.7 L567.8,589.1 L578.8,588.4 L589.8,587.7 L600.0,587.0 L610.2,586.2 L621.0,585.2 L631.8,584.2 L641.6,583.3 L650.0,582.6 L656.0,582.0" fill="none" stroke="#bcbcbc" stroke-width="1.8" stroke-dasharray="5.4 3.9" stroke-linejoin="round"/>
<path d="M88.0,771.7 L89.2,770.1 L90.9,768.0 L92.9,765.4 L95.2,762.6 L97.6,759.8 L100.0,757.0 L102.4,754.4 L104.9,751.7 L107.5,749.0 L110.4,746.1 L113.6,743.0 L117.2,739.7 L121.3,736.0 L125.9,732.1 L130.8,727.9 L136.0,723.6 L141.2,719.2 L146.4,714.9 L151.7,710.5 L157.1,705.8 L162.7,701.1 L168.3,696.5 L173.7,692.1 L179.0,688.0 L183.9,684.3 L188.5,680.9 L192.9,677.7 L197.5,674.6 L202.5,671.5 L208.0,668.4 L214.2,665.1 L220.7,661.8 L227.7,658.5 L234.9,655.2 L242.4,652.2 L250.0,649.4 L257.7,647.0 L265.4,645.0 L273.4,643.2 L281.7,641.4 L290.6,639.4 L300.0,637.0 L310.7,634.1 L322.5,630.7 L334.9,627.1 L347.0,623.6 L358.2,620.5 L367.6,618.0 L374.5,616.4 L379.2,615.4 L383.0,614.8 L387.0,614.3 L392.3,613.6 L400.0,612.6 L411.0,611.1 L424.6,609.3 L439.5,607.3 L454.5,605.3 L468.4,603.5 L480.0,602.0 L489.2,600.8 L497.0,599.8 L503.8,598.9 L509.6,598.2 L515.0,597.5 L520.0,596.8 L524.0,596.1 L526.7,595.6 L528.8,595.0 L531.1,594.5 L534.6,594.0 L540.0,593.4 L547.7,592.7 L557.1,592.0 L567.7,591.2 L578.7,590.5 L589.7,589.7 L600.0,589.0 L610.3,588.3 L621.3,587.5 L632.2,586.7 L642.3,586.0 L650.8,585.3 L657.0,584.9" fill="none" stroke="#bcbcbc" stroke-width="1.9" stroke-linejoin="round"/>
<path d="M81.0,404.90 H88.0 M81.0,457.30 H88.0 M81.0,509.70 H88.0 M81.0,562.10 H88.0 M81.0,614.50 H88.0 M81.0,666.90 H88.0 M81.0,719.30 H88.0 M81.0,771.70 H88.0" stroke="#000" stroke-width="2.3" fill="none"/>
<path d="M88.00,771.70 V778.2 M201.84,771.70 V778.2 M315.68,771.70 V778.2 M429.52,771.70 V778.2 M543.36,771.70 V778.2 M657.20,771.70 V778.2" stroke="#000" stroke-width="2.3" fill="none"/>
<path d="M88.00,404.90 V771.70 H657.20" stroke="#000" stroke-width="2.3" fill="none" stroke-linejoin="miter"/>
<text transform="translate(68.6,413.50) scale(1,1.12)" font-family='"Liberation Serif", serif' font-size="21.6" text-anchor="end">1.4</text>
<text transform="translate(68.6,465.90) scale(1,1.12)" font-family='"Liberation Serif", serif' font-size="21.6" text-anchor="end">1.2</text>
<text transform="translate(68.6,518.30) scale(1,1.12)" font-family='"Liberation Serif", serif' font-size="21.6" text-anchor="end">1</text>
<text transform="translate(68.6,570.70) scale(1,1.12)" font-family='"Liberation Serif", serif' font-size="21.6" text-anchor="end">0.8</text>
<text transform="translate(68.6,623.10) scale(1,1.12)" font-family='"Liberation Serif", serif' font-size="21.6" text-anchor="end">0.6</text>
<text transform="translate(68.6,675.50) scale(1,1.12)" font-family='"Liberation Serif", serif' font-size="21.6" text-anchor="end">0.4</text>
<text transform="translate(68.6,727.90) scale(1,1.12)" font-family='"Liberation Serif", serif' font-size="21.6" text-anchor="end">0.2</text>
<text transform="translate(68.6,780.30) scale(1,1.12)" font-family='"Liberation Serif", serif' font-size="21.6" text-anchor="end">0</text>
<path d="M89.4,1166.0 L89.7,1164.3 L90.0,1161.9 L90.4,1159.1 L90.9,1156.2 L91.0,1156.0 L91.5,1153.5 L91.6,1152.8 L92.1,1150.7 L92.4,1149.5 L92.9,1147.7 L93.3,1146.2 L93.8,1144.5 L94.3,1142.8 L94.4,1142.6 L94.9,1141.0 L95.4,1139.5 L95.6,1138.9 L96.1,1137.4 L96.6,1136.0 L96.9,1135.1 L97.4,1133.7 L97.9,1132.3 L98.3,1131.3 L98.8,1130.0 L99.3,1128.7 L99.7,1127.6 L100.2,1126.4 L100.7,1125.1 L101.2,1123.9 L101.7,1122.8 L102.2,1121.6 L102.7,1120.4 L102.7,1120.3 L103.2,1119.2 L103.7,1118.0 L104.2,1116.9 L104.3,1116.6 L104.8,1115.6 L105.3,1114.5 L105.8,1113.5 L106.1,1113.0 L106.6,1112.0 L107.1,1111.0 L107.6,1110.0 L107.9,1109.3 L108.4,1108.4 L108.9,1107.5 L109.4,1106.6 L109.9,1105.7 L110.4,1104.8 L110.9,1104.0 L111.4,1103.1 L111.9,1102.3 L112.0,1102.1 L112.5,1101.3 L113.0,1100.5 L113.5,1099.7 L114.0,1098.9 L114.2,1098.6 L114.7,1097.9 L115.2,1097.1 L115.7,1096.3 L116.2,1095.6 L116.5,1095.1 L117.0,1094.4 L117.5,1093.7 L118.0,1092.9 L118.5,1092.2 L118.9,1091.5 L119.4,1090.8 L119.9,1090.1 L120.4,1089.4 L120.9,1088.7 L121.4,1088.0 L121.6,1087.8 L122.1,1087.1 L122.6,1086.4 L123.1,1085.7 L123.6,1085.0 L124.1,1084.4 L124.5,1083.8 L125.0,1083.1 L125.5,1082.4 L126.0,1081.8 L126.5,1081.1 L127.0,1080.4 L127.5,1079.7 L127.8,1079.4 L128.3,1078.7 L128.8,1078.0 L129.3,1077.4 L129.8,1076.7 L130.3,1076.1 L130.8,1075.4 L131.3,1074.7 L131.4,1074.5 L131.9,1073.9 L132.4,1073.2 L132.9,1072.6 L133.4,1071.9 L133.9,1071.3 L134.4,1070.6 L134.9,1070.0 L135.3,1069.5 L135.8,1068.9 L136.3,1068.3 L136.8,1067.6 L137.3,1067.0 L137.8,1066.4 L138.3,1065.7 L138.8,1065.1 L139.2,1064.6 L139.7,1064.0 L140.2,1063.4 L140.7,1062.8 L141.2,1062.2 L141.7,1061.6 L142.2,1061.0 L142.7,1060.3 L142.9,1060.0 L143.4,1059.4 L143.9,1058.9 L144.4,1058.3 L144.9,1057.7 L145.4,1057.1 L145.9,1056.6 L146.4,1056.0 L146.9,1055.5 L147.4,1054.9 L147.9,1054.4 L148.4,1053.9 L148.9,1053.3 L149.3,1052.9 L149.8,1052.4 L150.3,1051.9 L150.8,1051.4 L151.3,1050.9 L151.8,1050.5 L152.3,1050.1 L152.8,1049.6 L153.3,1049.2 L153.8,1048.7 L154.1,1048.4 L154.6,1048.0 L155.1,1047.6 L155.6,1047.2 L156.1,1046.8 L156.6,1046.3 L156.7,1046.3 L157.2,1045.9 L157.7,1045.4 L158.2,1045.0 L158.7,1044.6 L159.2,1044.2 L159.7,1043.7 L159.8,1043.6 L160.3,1043.2 L160.8,1042.7 L161.3,1042.3 L161.8,1041.9 L162.3,1041.4 L162.8,1041.0 L163.3,1040.5 L163.8,1040.1 L163.9,1040.0 L164.4,1039.5 L164.9,1039.1 L165.4,1038.6 L165.9,1038.2 L166.4,1037.7 L166.9,1037.3 L167.4,1036.8 L167.9,1036.3 L168.4,1035.9 L168.9,1035.4 L169.0,1035.4 L169.5,1034.9 L170.0,1034.5 L170.5,1034.0 L171.0,1033.6 L171.5,1033.1 L172.0,1032.6 L172.5,1032.2 L173.0,1031.7 L173.5,1031.3 L174.0,1030.8 L174.5,1030.3 L174.7,1030.1 L175.2,1029.7 L175.7,1029.2 L176.2,1028.8 L176.7,1028.3 L177.2,1027.8 L177.7,1027.4 L178.2,1026.9 L178.7,1026.5 L179.2,1026.0 L179.7,1025.6 L180.2,1025.1 L180.7,1024.6 L181.0,1024.3 L181.5,1023.9 L182.0,1023.4 L182.5,1023.0 L183.0,1022.5 L183.5,1022.1 L184.0,1021.6 L184.5,1021.2 L185.0,1020.7 L185.5,1020.3 L186.0,1019.8 L186.5,1019.3 L187.0,1018.9 L187.5,1018.4 L187.8,1018.2 L188.3,1017.7 L188.8,1017.3 L189.3,1016.8 L189.8,1016.4 L190.3,1015.9 L190.8,1015.5 L191.3,1015.0 L191.8,1014.6 L192.3,1014.1 L192.8,1013.7 L193.3,1013.2 L193.8,1012.8 L194.3,1012.3 L194.8,1011.9 L195.0,1011.7 L195.5,1011.3 L196.0,1010.8 L196.5,1010.4 L197.0,1009.9 L197.5,1009.5 L198.0,1009.1 L198.5,1008.6 L199.0,1008.2 L199.5,1007.7 L200.0,1007.3 L200.5,1006.9 L201.0,1006.4 L201.5,1006.0 L202.0,1005.5 L202.5,1005.1 L203.0,1004.7 L203.5,1004.2 L204.0,1003.8 L204.5,1003.3 L205.0,1002.9 L205.5,1002.5 L206.0,1002.0 L206.5,1001.6 L207.0,1001.2 L207.5,1000.7 L208.0,1000.3 L208.5,999.8 L209.0,999.4 L209.5,999.0 L210.0,998.5 L210.5,998.1 L211.0,997.7 L211.5,997.2 L212.0,996.8 L212.5,996.4 L213.0,995.9 L213.5,995.5 L214.0,995.1 L214.5,994.6 L215.0,994.2 L215.5,993.7 L216.0,993.3 L216.5,992.9 L217.0,992.4 L217.5,992.0 L218.0,991.5 L218.5,991.1 L219.0,990.7 L219.0,990.6 L219.5,990.2 L220.0,989.8 L220.5,989.3 L221.0,988.9 L221.5,988.5 L222.0,988.0 L222.5,987.6 L223.0,987.2 L223.5,986.7 L224.0,986.3 L224.5,985.9 L225.0,985.4 L225.5,985.0 L226.0,984.5 L226.5,984.1 L227.0,983.7 L227.5,983.2 L227.9,982.9 L228.4,982.4 L228.9,982.0 L229.4,981.6 L229.9,981.2 L230.4,980.7 L230.9,980.3 L231.4,979.9 L231.9,979.5 L232.4,979.0 L232.9,978.6 L233.4,978.2 L233.9,977.7 L234.4,977.3 L234.9,976.9 L235.4,976.5 L235.9,976.0 L236.4,975.6 L236.9,975.2 L237.1,975.1 L237.6,974.7 L238.1,974.2 L238.6,973.8 L239.1,973.4 L239.6,973.0 L240.1,972.6 L240.6,972.2 L241.1,971.8 L241.6,971.3 L242.1,970.9 L242.6,970.5 L243.1,970.1 L243.6,969.7 L244.1,969.3 L244.6,968.9 L245.1,968.4 L245.6,968.0 L246.1,967.6 L246.2,967.5 L246.7,967.1 L247.2,966.7 L247.7,966.3 L248.2,965.9 L248.7,965.5 L249.2,965.1 L249.7,964.7 L250.2,964.3 L250.7,963.9 L251.2,963.5 L251.7,963.1 L252.2,962.7 L252.7,962.3 L253.2,961.9 L253.7,961.5 L254.2,961.1 L254.7,960.7 L255.1,960.4 L255.6,960.0 L256.1,959.6 L256.6,959.3 L257.1,958.9 L257.6,958.5 L258.1,958.1 L258.6,957.8 L259.1,957.4 L259.6,957.0 L260.1,956.6 L260.6,956.3 L261.1,955.9 L261.6,955.5 L262.1,955.1 L262.6,954.7 L263.1,954.4 L263.6,954.0 L264.1,953.6 L264.3,953.5 L264.8,953.1 L265.3,952.7 L265.8,952.4 L266.3,952.0 L266.8,951.6 L267.3,951.3 L267.8,950.9 L268.3,950.6 L268.8,950.2 L269.3,949.8 L269.8,949.5 L270.3,949.1 L270.8,948.8 L271.3,948.4 L271.8,948.0 L272.3,947.7 L272.8,947.3 L273.3,947.0 L273.8,946.6 L274.1,946.4 L274.6,946.1 L275.1,945.7 L275.6,945.4 L276.1,945.0 L276.6,944.7 L277.1,944.3 L277.6,944.0 L278.1,943.6 L278.6,943.3 L279.1,942.9 L279.6,942.6 L280.1,942.2 L280.6,941.9 L281.1,941.5 L281.6,941.2 L282.1,940.8 L282.6,940.5 L283.1,940.1 L283.6,939.8 L283.9,939.6 L284.4,939.2 L284.9,938.9 L285.4,938.6 L285.9,938.2 L286.4,937.9 L286.9,937.5 L287.4,937.2 L287.9,936.8 L288.4,936.5 L288.9,936.2 L289.4,935.8 L289.9,935.5 L290.4,935.1 L290.9,934.8 L291.4,934.5 L291.9,934.1 L292.4,933.8 L292.9,933.4 L293.1,933.3 L293.6,932.9 L294.1,932.6 L294.6,932.3 L295.1,931.9 L295.6,931.6 L296.1,931.3 L296.6,930.9 L297.1,930.6 L297.6,930.3 L298.1,929.9 L298.6,929.6 L299.1,929.3 L299.6,928.9 L300.1,928.6 L300.6,928.3 L301.1,927.9 L301.2,927.9 L301.7,927.5 L302.2,927.2 L302.7,926.9 L303.2,926.5 L303.7,926.2 L304.2,925.9 L304.7,925.5 L305.2,925.2 L305.7,924.9 L306.2,924.5 L306.7,924.2 L307.2,923.9 L307.6,923.6 L308.1,923.3 L308.6,923.0 L309.1,922.7 L309.6,922.3 L310.1,922.0 L310.6,921.7 L311.1,921.4 L311.6,921.1 L312.1,920.8 L312.5,920.5 L313.0,920.3 L313.5,920.0 L314.0,919.8 L314.5,919.5 L315.0,919.2 L315.1,919.2 L315.6,919.1 L316.1,919.0 L316.4,918.9 L316.9,918.8 L317.4,918.7 L317.6,918.7 L318.1,918.5 L318.6,918.3 L319.1,918.0 L319.6,917.8 L320.0,917.7 L320.5,917.5 L321.0,917.2 L321.5,917.0 L322.0,916.7 L322.5,916.5 L323.0,916.2 L323.0,916.2 L323.5,916.0 L324.0,915.7 L324.5,915.5 L325.0,915.2 L325.5,915.0 L326.0,914.7 L326.5,914.5 L327.0,914.3 L327.5,914.0 L328.0,913.8 L328.5,913.5 L329.0,913.3 L329.5,913.0 L330.0,912.8 L330.2,912.7 L330.7,912.4 L331.2,912.2 L331.7,911.9 L332.2,911.7 L332.7,911.4 L333.2,911.2 L333.7,910.9 L333.9,910.8 L334.4,910.6 L334.9,910.3 L335.4,910.1 L335.9,909.8 L336.4,909.5 L336.9,909.3 L337.4,909.0 L337.9,908.8 L338.4,908.5 L338.9,908.2 L339.4,908.0 L339.9,907.7 L340.4,907.4 L340.4,907.4 L340.9,907.1 L341.4,906.8 L341.9,906.5 L342.4,906.2 L342.9,905.9 L343.2,905.7 L343.7,905.4 L344.2,905.1 L344.7,904.8 L345.2,904.4 L345.4,904.3 L345.9,903.9 L346.4,903.6 L346.9,903.2 L347.4,902.9 L347.4,902.9 L347.9,902.5 L348.4,902.2 L348.9,901.8 L349.4,901.5 L349.7,901.3 L350.2,900.9 L350.7,900.6 L351.2,900.3 L351.7,900.0 L352.2,899.6 L352.7,899.3 L353.2,899.0 L353.7,898.6 L354.2,898.3 L354.7,898.0 L355.2,897.6 L355.7,897.3 L355.8,897.2 L356.3,896.9 L356.8,896.5 L357.3,896.2 L357.8,895.8 L358.3,895.5 L358.8,895.1 L359.3,894.8 L359.8,894.5 L360.3,894.1 L360.8,893.8 L361.3,893.4 L361.8,893.1 L362.3,892.8 L362.8,892.4 L363.1,892.2 L363.6,891.9 L364.1,891.6 L364.6,891.3 L365.1,890.9 L365.6,890.6 L366.1,890.3 L366.6,889.9 L367.0,889.6 L367.5,889.3 L368.0,889.0 L368.5,888.7 L369.0,888.4 L369.5,888.1 L370.0,887.8 L370.5,887.5 L371.0,887.2 L371.1,887.2 L371.6,886.9 L372.1,886.6 L372.6,886.4 L373.1,886.1 L373.6,885.8 L374.1,885.6 L374.6,885.3 L375.1,885.1 L375.2,885.0 L375.7,885.2 L376.2,886.0 L376.7,886.7 L377.2,887.0 L377.7,886.5 L378.2,886.0 L378.7,885.4 L379.2,884.9 L379.4,884.7 L379.9,884.2 L380.4,883.7 L380.9,883.2 L381.4,882.8 L381.9,882.3 L382.4,882.0 L382.9,881.8 L383.4,881.6 L383.8,881.5 L384.3,881.3 L384.8,881.2 L385.3,881.0 L385.8,880.8 L386.3,880.7 L386.8,880.5 L387.3,880.3 L387.8,880.2 L388.3,880.0 L388.3,880.0 L388.8,879.8 L389.3,879.7 L389.8,879.5 L390.3,879.3 L390.8,879.2 L391.3,879.0 L391.8,878.9 L392.3,878.7 L392.8,878.5 L392.9,878.5 L393.4,878.4 L393.9,878.2 L394.4,878.0 L394.9,877.9 L395.4,877.7 L395.9,877.5 L396.4,877.4 L396.9,877.2 L397.3,877.1 L397.8,876.9 L398.3,876.7 L398.8,876.5 L399.3,876.3 L399.8,876.2 L400.3,876.0 L400.8,875.8 L401.3,875.6 L401.7,875.5 L402.2,875.3 L402.7,875.1 L403.2,874.9 L403.7,874.7 L404.2,874.5 L404.7,874.3 L405.2,874.1 L405.7,874.0 L405.9,873.9 L406.4,873.7 L406.9,873.5 L407.4,873.3 L407.9,873.1 L408.4,872.9 L408.9,872.7 L409.4,872.5 L409.9,872.3 L410.1,872.2 L410.6,872.0 L411.1,871.8 L411.6,871.6 L412.1,871.4 L412.6,871.2 L413.1,871.0 L413.6,870.8 L414.1,870.6 L414.2,870.6 L414.7,870.4 L415.2,870.2 L415.7,869.9 L416.2,869.7 L416.7,869.5 L417.2,869.3 L417.7,869.1 L418.2,868.9 L418.2,868.9 L418.7,868.7 L419.2,868.5 L419.7,868.3 L420.2,868.1 L420.7,867.8 L421.2,867.6 L421.7,867.4 L422.2,867.2 L422.3,867.2 L422.8,867.0 L423.3,866.8 L423.8,866.6 L424.3,866.4 L424.8,866.1 L425.3,865.9 L425.8,865.7 L426.3,865.5 L426.3,865.5 L426.8,865.3 L427.3,865.1 L427.8,864.8 L428.3,864.6 L428.8,864.4 L429.3,864.2 L429.8,864.0 L430.2,863.8 L430.7,863.5 L431.2,863.3 L431.7,863.1 L432.2,862.8 L432.7,862.6 L433.2,862.4 L433.7,862.1 L434.0,862.0 L434.5,861.8 L435.0,861.5 L435.5,861.3 L436.0,861.1 L436.5,860.8 L437.0,860.6 L437.5,860.4 L437.8,860.2 L438.3,860.0 L438.8,859.8 L439.3,859.5 L439.8,859.3 L440.3,859.1 L440.8,858.9 L441.3,858.6 L441.7,858.5 L442.2,858.2 L442.7,858.0 L443.2,857.8 L443.7,857.6 L444.2,857.4 L444.7,857.2 L445.2,856.9 L445.7,856.7 L445.7,856.7 L446.2,856.5 L446.7,856.3 L447.2,856.1 L447.7,855.9 L448.2,855.7 L448.7,855.5 L449.2,855.3 L449.7,855.1 L450.0,855.0 L450.5,854.8 L451.0,854.6 L451.5,854.5 L452.0,854.3 L452.5,854.1 L453.0,853.9 L453.5,853.7 L454.0,853.6 L454.5,853.4 L454.6,853.3 L455.1,853.2 L455.6,853.0 L456.1,852.8 L456.6,852.7 L457.1,852.5 L457.6,852.3 L458.1,852.2 L458.6,852.0 L459.1,851.8 L459.4,851.7 L459.9,851.6 L460.4,851.4 L460.9,851.3 L461.4,851.1 L461.9,851.0 L462.4,850.8 L462.9,850.6 L463.4,850.5 L463.9,850.3 L464.3,850.2 L464.8,850.0 L465.3,849.9 L465.8,849.7 L466.3,849.5 L466.8,849.4 L467.3,849.2 L467.8,849.1 L468.3,848.9 L468.8,848.8 L469.3,848.6 L469.5,848.6 L470.0,848.4 L470.5,848.3 L471.0,848.1 L471.5,848.0 L472.0,847.8 L472.5,847.7 L473.0,847.5 L473.5,847.4 L474.0,847.2 L474.5,847.0 L474.7,847.0 L475.2,846.8 L475.7,846.7 L476.2,846.5 L476.7,846.3 L477.2,846.2 L477.7,846.0 L478.2,845.9 L478.7,845.7 L479.2,845.6 L479.7,845.4 L480.0,845.3 L480.5,845.1 L481.0,845.0 L481.5,844.8 L482.0,844.6 L482.5,844.5 L483.0,844.3 L483.5,844.2 L484.0,844.0 L484.5,843.8 L485.0,843.7 L485.4,843.5 L485.9,843.4 L486.4,843.2 L486.9,843.0 L487.4,842.9 L487.9,842.7 L488.4,842.5 L488.9,842.4 L489.4,842.2 L489.9,842.0 L490.4,841.9 L490.8,841.7 L491.3,841.5 L491.8,841.4 L492.3,841.2 L492.8,841.0 L493.3,840.9 L493.8,840.7 L494.3,840.5 L494.8,840.4 L495.3,840.2 L495.8,840.1 L496.3,839.9 L496.4,839.9 L496.9,839.7 L497.4,839.5 L497.9,839.4 L498.4,839.2 L498.9,839.0 L499.4,838.9 L499.9,838.7 L500.4,838.6 L500.9,838.4 L501.4,838.2 L501.9,838.1 L502.2,838.0 L502.7,837.9 L503.2,837.7 L503.7,837.6 L504.2,837.4 L504.7,837.2 L505.2,837.1 L505.7,836.9 L506.2,836.8 L506.7,836.6 L507.2,836.5 L507.7,836.3 L508.1,836.2 L508.6,836.1 L509.1,835.9 L509.6,835.8 L510.1,835.7 L510.6,835.5 L511.1,835.4 L511.6,835.2 L512.1,835.1 L512.6,835.0 L513.1,834.8 L513.6,834.7 L514.1,834.5 L514.2,834.5 L514.7,834.4 L515.2,834.2 L515.7,834.1 L516.2,834.0 L516.7,833.9 L517.2,833.7 L517.7,833.6 L518.2,833.5 L518.7,833.4 L519.2,833.2 L519.7,833.1 L520.2,833.0 L520.7,832.9 L521.2,832.8 L521.7,832.7 L522.2,832.5 L522.7,832.4 L523.2,832.3 L523.7,832.2 L524.2,832.1 L524.7,832.0 L525.2,831.8 L525.7,831.7 L526.2,831.6 L526.7,831.5 L527.2,831.4 L527.5,831.3 L528.0,831.2 L528.5,831.1 L529.0,831.0 L529.5,830.9 L530.0,830.8 L530.5,830.7 L531.0,830.6 L531.5,830.5 L532.0,830.3 L532.5,830.2 L533.0,830.1 L533.5,830.0 L534.0,829.9 L534.4,829.8 L534.9,829.7 L535.4,829.6 L535.9,829.5 L536.4,829.4 L536.9,829.3 L537.4,829.2 L537.9,829.1 L538.4,829.0 L538.9,828.9 L539.4,828.8 L539.9,828.7 L540.4,828.6 L540.9,828.4 L541.4,828.3 L541.4,828.3 L541.9,828.2 L542.4,828.1 L542.9,828.0 L543.4,827.9 L543.9,827.8 L544.4,827.7 L544.9,827.6 L545.4,827.5 L545.9,827.4 L546.4,827.3 L546.9,827.2 L547.4,827.1 L547.9,827.0 L548.3,826.9 L548.8,826.8 L549.3,826.7 L549.8,826.6 L550.3,826.5 L550.8,826.4 L551.3,826.3 L551.8,826.2 L552.3,826.1 L552.8,825.9 L553.3,825.8 L553.8,825.7 L554.3,825.6 L554.8,825.5 L554.9,825.5 L555.4,825.4 L555.9,825.3 L556.4,825.2 L556.9,825.1 L557.4,825.0 L557.9,824.8 L558.4,824.7 L558.9,826.0 L559.4,827.5 L559.9,829.1 L560.4,828.9 L560.9,828.3 L561.2,828.0 L561.7,827.4 L562.2,826.8 L562.7,826.2 L563.2,825.6 L563.7,825.0 L564.2,824.3 L564.7,823.7 L565.2,823.3 L565.7,823.2 L566.2,823.1 L566.7,823.0 L567.2,822.9 L567.2,822.8 L567.7,822.7 L568.2,822.6 L568.7,822.5 L569.2,822.4 L569.7,822.3 L570.2,822.2 L570.7,822.1 L571.2,822.0 L571.7,821.9 L572.2,821.8 L572.7,821.7 L573.1,821.6 L573.6,821.5 L574.1,821.4 L574.6,821.3 L575.1,821.2 L575.6,821.1 L576.1,820.9 L576.6,820.8 L577.1,820.7 L577.6,820.6 L578.1,820.5 L578.6,820.4 L578.9,820.3 L579.4,820.2 L579.9,820.1 L580.4,820.0 L580.9,819.9 L581.4,819.8 L581.9,819.7 L582.4,819.6 L582.9,819.5 L583.4,819.4 L583.9,819.2 L584.4,819.1 L584.9,819.0 L585.4,818.9 L585.9,818.8 L586.4,818.7 L586.9,818.6 L587.4,818.5 L587.9,818.4 L588.4,818.3 L588.9,818.2 L589.4,818.1 L589.9,817.9 L590.4,817.8 L590.9,817.7 L591.0,817.7 L591.5,817.6 L592.0,817.5 L592.5,817.4 L593.0,817.2 L593.5,817.1 L594.0,817.0 L594.5,816.9 L595.0,816.8 L595.5,816.7 L596.0,816.6 L596.5,816.5 L597.0,816.3 L597.5,816.2 L597.6,816.2 L598.1,816.1 L598.6,816.0 L599.1,815.9 L599.6,815.7 L600.1,815.6 L600.6,815.5 L601.1,815.4 L601.6,815.3 L602.1,815.2 L602.6,815.0 L603.1,814.9 L603.6,814.8 L604.1,814.7 L604.6,814.6 L605.1,814.5 L605.6,814.4 L606.1,814.2 L606.6,814.1 L607.1,814.0 L607.6,813.9 L608.1,813.8 L608.6,813.6 L609.1,813.5 L609.6,813.4 L610.1,813.3 L610.6,813.2 L611.1,813.1 L611.6,812.9 L611.6,812.9 L612.1,812.8 L612.6,812.7 L613.1,812.6 L613.6,812.5 L614.1,812.4 L614.6,812.2 L615.1,812.1 L615.6,812.0 L616.1,811.9 L616.6,811.8 L617.1,811.7 L617.6,811.5 L618.1,811.4 L618.4,811.4 L618.9,811.2 L619.4,811.1 L619.9,811.0 L620.4,810.9 L620.9,810.8 L621.4,810.7 L621.9,810.6 L622.4,810.5 L622.9,810.4 L623.4,810.2 L623.9,810.1 L624.4,810.0 L624.6,810.0 L625.1,809.9 L625.6,809.8 L626.1,809.7 L626.6,809.6 L627.1,809.5 L627.6,809.4 L628.1,809.3 L628.6,809.2 L629.1,809.0 L629.6,808.9 L629.8,808.9 L630.3,808.8 L630.8,809.5 L631.3,810.8 L631.8,812.0 L632.3,812.2 L632.8,811.7 L633.3,811.3 L633.8,810.8 L633.9,810.7 L634.4,810.2 L634.9,809.8 L635.4,809.3 L635.9,808.8 L636.4,808.4 L636.9,807.9 L637.1,807.8 L637.6,807.8 L638.1,807.7 L638.6,807.7 L639.1,807.6 L639.6,807.6 L639.7,807.6 L640.2,807.6 L640.7,807.5 L641.2,807.5 L641.7,807.5 L642.0,807.5 L642.5,807.4 L643.0,807.4 L643.5,807.4 L644.0,807.3 L644.1,807.3 L644.6,807.2 L645.1,807.2 L645.6,807.1 L646.1,807.0 L646.4,807.0 L646.9,808.0 L647.4,809.2 L647.9,810.4 L648.4,810.3 L648.9,809.8 L649.4,809.3 L649.9,808.8 L650.4,808.3 L650.9,807.8 L651.4,807.2 L651.9,806.7 L652.3,806.3 L652.8,805.7 L653.3,805.4 L653.8,805.3 L654.3,805.2 L654.8,805.0 L655.0,805.0 L655.5,804.8 L656.0,804.7 L656.5,804.6 L657.0,804.4 L657.3,804.3 L657.8,804.2 L658.3,804.1 L658.8,803.9 L658.9,803.9" fill="none" stroke="#bcbcbc" stroke-width="1.8" stroke-dasharray="3.6 1.9" stroke-linejoin="round"/>
<path d="M89.4,1166.0 L89.7,1164.4 L90.1,1162.3 L90.6,1159.8 L91.2,1156.8 L92.0,1153.6 L93.0,1150.0 L94.2,1145.9 L95.6,1141.1 L97.1,1135.9 L98.8,1130.8 L100.6,1125.9 L102.6,1121.8 L104.6,1118.5 L106.6,1115.9 L108.7,1113.5 L111.1,1111.3 L113.9,1108.7 L117.2,1105.7 L121.1,1102.2 L125.4,1098.5 L130.1,1094.5 L135.2,1090.3 L140.6,1085.7 L146.4,1080.9 L152.9,1075.4 L160.4,1069.2 L168.1,1062.8 L175.7,1056.5 L182.5,1050.7 L188.0,1045.8 L191.5,1042.5 L193.4,1040.7 L194.6,1039.4 L195.8,1037.8 L198.2,1034.9 L202.5,1030.0 L209.1,1022.5 L217.2,1012.9 L226.4,1002.1 L236.2,991.0 L245.9,980.4 L255.1,971.0 L264.2,962.7 L273.7,954.6 L283.2,947.1 L292.3,940.2 L300.6,934.0 L307.6,928.9 L313.1,925.1 L317.2,922.5 L320.6,920.7 L323.6,919.3 L326.5,917.8 L330.0,915.8 L334.1,913.2 L338.7,910.3 L343.2,907.3 L347.5,904.5 L351.1,902.2 L353.7,900.5 L365.0,925.8 L366.7,923.5 L369.1,920.2 L371.9,916.4 L375.0,912.4 L378.2,908.6 L381.3,905.4 L384.5,902.8 L388.0,900.5 L391.6,898.4 L395.2,896.4 L398.6,894.7 L401.7,893.1 L404.6,891.7 L407.4,890.4 L410.1,889.3 L412.5,888.4 L414.5,887.6 L416.0,887.0 L422.2,939.1 L423.6,936.9 L425.5,933.9 L427.8,930.3 L430.2,926.5 L432.5,922.9 L434.4,919.7 L435.9,917.0 L437.1,914.4 L438.2,912.0 L439.3,909.7 L440.7,907.5 L442.6,905.4 L444.9,903.4 L447.5,901.5 L450.4,899.6 L453.5,897.8 L456.7,896.1 L460.0,894.2 L463.2,892.3 L466.4,890.5 L469.7,888.6 L473.3,886.7 L477.3,884.7 L482.0,882.6 L487.5,880.3 L493.8,877.7 L500.5,875.1 L507.4,872.5 L514.2,870.2 L520.6,868.2 L526.5,866.7 L531.9,865.6 L537.3,864.6 L542.9,863.8 L549.0,862.9 L556.0,861.7 L564.1,860.2 L573.1,858.5 L582.7,856.7 L592.4,854.9 L601.8,853.3 L610.6,852.1 L619.2,851.2 L627.9,850.6 L636.5,850.2 L644.2,849.9 L650.7,849.7 L655.5,849.5" fill="none" stroke="#bcbcbc" stroke-width="1.8" stroke-dasharray="3.6 1.9" stroke-linejoin="round"/>
<path d="M89.4,1166.0 L89.9,1164.5 L90.0,1164.3 L90.5,1162.7 L90.7,1161.9 L91.2,1160.3 L91.6,1159.1 L92.1,1157.6 L92.6,1156.1 L92.6,1156.1 L93.1,1154.7 L93.6,1153.4 L93.7,1153.0 L94.2,1151.8 L94.7,1150.6 L95.0,1150.0 L95.5,1148.9 L96.0,1147.9 L96.4,1147.1 L96.9,1146.1 L97.4,1145.2 L97.8,1144.2 L98.3,1143.3 L98.8,1142.4 L99.3,1141.4 L99.4,1141.2 L99.9,1140.4 L100.4,1139.5 L100.9,1138.6 L101.1,1138.2 L101.6,1137.4 L102.1,1136.6 L102.6,1135.7 L103.0,1135.1 L103.5,1134.4 L104.0,1133.6 L104.5,1132.8 L105.0,1132.0 L105.0,1132.0 L105.5,1131.3 L106.0,1130.5 L106.5,1129.8 L107.0,1129.0 L107.2,1128.8 L107.7,1128.1 L108.2,1127.3 L108.7,1126.6 L109.2,1125.9 L109.4,1125.5 L109.9,1124.8 L110.4,1124.1 L110.9,1123.4 L111.4,1122.7 L111.9,1122.1 L112.4,1121.5 L112.9,1120.8 L113.4,1120.1 L113.9,1119.5 L114.4,1118.8 L114.4,1118.7 L114.9,1118.1 L115.4,1117.5 L115.9,1116.9 L116.4,1116.2 L116.9,1115.6 L117.2,1115.4 L117.7,1114.8 L118.2,1114.2 L118.7,1113.6 L119.2,1113.0 L119.7,1112.4 L120.0,1112.0 L120.5,1111.4 L121.0,1110.9 L121.5,1110.3 L122.0,1109.8 L122.5,1109.2 L123.0,1108.7 L123.5,1108.2 L124.0,1107.7 L124.5,1107.2 L125.0,1106.6 L125.5,1106.1 L126.0,1105.6 L126.1,1105.5 L126.6,1105.0 L127.1,1104.5 L127.6,1104.0 L128.1,1103.5 L128.6,1103.0 L129.1,1102.5 L129.4,1102.2 L129.9,1101.8 L130.4,1101.3 L130.9,1100.8 L131.4,1100.3 L131.9,1099.8 L132.4,1099.4 L132.8,1099.0 L133.3,1098.5 L133.8,1098.0 L134.3,1097.5 L134.8,1097.0 L135.3,1096.6 L135.8,1096.1 L136.3,1095.6 L136.3,1095.6 L136.8,1095.1 L137.3,1094.6 L137.8,1094.1 L138.3,1093.6 L138.8,1093.1 L139.3,1092.7 L139.8,1092.2 L140.0,1092.0 L140.5,1091.5 L141.0,1091.0 L141.5,1090.5 L142.0,1090.0 L142.5,1089.5 L143.0,1089.0 L143.5,1088.6 L143.9,1088.2 L144.4,1087.7 L144.9,1087.2 L145.4,1086.7 L145.9,1086.2 L146.4,1085.7 L146.9,1085.2 L147.4,1084.7 L147.9,1084.2 L148.0,1084.1 L148.5,1083.7 L149.0,1083.2 L149.5,1082.7 L150.0,1082.2 L150.5,1081.7 L151.0,1081.2 L151.5,1080.7 L152.0,1080.2 L152.2,1080.0 L152.7,1079.5 L153.2,1079.0 L153.7,1078.6 L154.2,1078.1 L154.7,1077.6 L155.2,1077.1 L155.7,1076.6 L156.2,1076.1 L156.5,1075.9 L157.0,1075.4 L157.5,1074.9 L158.0,1074.4 L158.5,1074.0 L159.0,1073.5 L159.5,1073.0 L160.0,1072.6 L160.5,1072.1 L160.8,1071.8 L161.3,1071.4 L161.8,1070.9 L162.3,1070.5 L162.8,1070.0 L163.3,1069.6 L163.8,1069.1 L164.3,1068.7 L164.8,1068.2 L165.0,1068.0 L165.5,1067.6 L166.0,1067.1 L166.5,1066.7 L167.0,1066.3 L167.5,1065.9 L168.0,1065.4 L168.5,1065.0 L169.0,1064.6 L169.2,1064.4 L169.7,1064.0 L170.2,1063.6 L170.7,1063.2 L171.2,1062.8 L171.7,1062.4 L172.2,1061.9 L172.7,1061.5 L173.2,1061.1 L173.5,1060.9 L174.0,1060.5 L174.5,1060.1 L175.0,1059.7 L175.5,1059.3 L176.0,1058.9 L176.5,1058.5 L177.0,1058.1 L177.5,1057.7 L177.8,1057.5 L178.3,1057.1 L178.8,1056.7 L179.3,1056.3 L179.8,1055.9 L180.3,1055.6 L180.8,1055.2 L181.3,1054.8 L181.8,1054.4 L182.0,1054.2 L182.5,1053.8 L183.0,1053.4 L183.5,1053.1 L184.0,1052.7 L184.5,1052.3 L185.0,1051.9 L185.5,1051.5 L186.0,1051.1 L186.1,1051.1 L186.6,1050.7 L187.1,1050.3 L187.6,1049.9 L188.1,1049.5 L188.6,1049.1 L189.1,1048.7 L189.6,1048.3 L190.0,1048.0 L190.5,1047.6 L191.0,1047.2 L191.5,1046.8 L192.0,1046.4 L192.5,1046.0 L193.0,1045.6 L193.5,1045.2 L193.6,1045.1 L194.1,1044.7 L194.6,1044.3 L195.1,1043.9 L195.6,1043.5 L196.1,1043.1 L196.6,1042.7 L197.1,1042.3 L197.6,1041.9 L198.1,1041.5 L198.6,1041.1 L199.1,1040.7 L199.6,1040.3 L200.1,1039.9 L200.4,1039.6 L200.9,1039.2 L201.4,1038.8 L201.9,1038.4 L202.4,1038.0 L202.9,1037.6 L203.4,1037.2 L203.6,1037.0 L204.1,1036.6 L204.6,1036.2 L205.1,1035.8 L205.6,1035.4 L206.1,1035.1 L206.6,1034.7 L206.8,1034.5 L207.3,1034.1 L207.8,1033.7 L208.3,1033.3 L208.8,1032.9 L209.3,1032.6 L209.8,1032.2 L210.0,1032.0 L210.5,1031.6 L211.0,1031.2 L211.5,1030.9 L212.0,1030.5 L212.5,1030.1 L213.0,1029.7 L213.1,1029.6 L213.6,1029.3 L214.1,1028.9 L214.6,1028.5 L215.1,1028.1 L215.6,1027.8 L216.1,1027.4 L216.6,1027.1 L217.1,1026.7 L217.6,1026.3 L218.1,1026.0 L218.6,1025.6 L219.0,1025.3 L219.5,1024.9 L220.0,1024.6 L220.5,1024.2 L221.0,1023.8 L221.5,1023.5 L222.0,1023.1 L222.0,1023.1 L222.5,1022.7 L223.0,1022.4 L223.5,1022.0 L224.0,1021.6 L224.5,1021.2 L225.0,1020.9 L225.2,1020.7 L225.7,1020.3 L226.2,1019.9 L226.7,1019.6 L227.2,1019.2 L227.7,1018.8 L228.2,1018.4 L228.7,1018.0 L228.8,1018.0 L229.3,1017.6 L229.8,1017.2 L230.3,1016.8 L230.8,1016.4 L231.3,1016.1 L231.8,1015.7 L232.3,1015.3 L232.8,1014.9 L233.3,1014.5 L233.8,1014.1 L234.3,1013.7 L234.8,1013.3 L235.3,1012.9 L235.8,1012.5 L236.3,1012.1 L236.8,1011.7 L237.1,1011.5 L237.6,1011.1 L238.1,1010.7 L238.6,1010.3 L239.1,1009.9 L239.6,1009.5 L240.1,1009.1 L240.6,1008.7 L241.1,1008.3 L241.6,1007.9 L241.6,1007.9 L242.1,1007.5 L242.6,1007.1 L243.1,1006.7 L243.6,1006.3 L244.1,1005.9 L244.6,1005.5 L245.1,1005.1 L245.6,1004.7 L246.1,1004.3 L246.2,1004.3 L246.7,1003.9 L247.2,1003.5 L247.7,1003.1 L248.2,1002.7 L248.7,1002.3 L249.2,1001.9 L249.7,1001.5 L250.2,1001.1 L250.7,1000.7 L250.7,1000.7 L251.2,1000.3 L251.7,999.9 L252.2,999.5 L252.7,999.1 L253.2,998.7 L253.7,998.3 L254.2,997.9 L254.7,997.5 L255.1,997.2 L255.6,996.8 L256.1,996.4 L256.6,996.0 L257.1,995.6 L257.6,995.2 L258.1,994.8 L258.6,994.4 L259.1,994.0 L259.3,993.9 L259.8,993.5 L260.3,993.0 L260.8,992.6 L261.3,992.2 L261.8,991.8 L262.3,991.4 L262.8,991.0 L263.3,990.6 L263.4,990.5 L263.9,990.1 L264.4,989.7 L264.9,989.3 L265.4,988.9 L265.9,988.5 L266.4,988.1 L266.9,987.7 L267.4,987.3 L267.5,987.2 L268.0,986.8 L268.5,986.4 L269.0,986.1 L269.5,985.7 L270.0,985.3 L270.5,984.9 L271.0,984.5 L271.5,984.1 L271.6,984.0 L272.1,983.7 L272.6,983.3 L273.1,982.9 L273.6,982.5 L274.1,982.2 L274.6,981.8 L275.1,981.4 L275.6,981.1 L275.7,980.9 L276.2,980.6 L276.7,980.2 L277.2,979.9 L277.7,979.6 L278.2,979.2 L278.7,978.9 L279.2,978.5 L279.7,978.2 L280.0,978.0 L280.5,977.7 L281.0,977.4 L281.5,977.1 L282.0,976.8 L282.5,976.5 L283.0,976.1 L283.5,975.8 L284.0,975.5 L284.5,975.2 L284.5,975.2 L285.0,974.9 L285.5,974.7 L286.0,974.4 L286.5,974.1 L287.0,973.8 L287.5,973.5 L288.0,973.2 L288.5,972.9 L289.0,972.7 L289.2,972.6 L289.7,972.3 L290.2,972.0 L290.7,971.8 L291.2,971.5 L291.7,971.2 L292.2,971.0 L292.7,970.7 L293.2,970.4 L293.7,970.2 L294.0,970.0 L294.5,969.8 L295.0,969.5 L295.5,969.2 L296.0,969.0 L296.5,968.7 L297.0,968.5 L297.5,968.2 L298.0,968.0 L298.5,967.7 L298.7,967.6 L299.2,967.3 L299.7,967.1 L300.2,966.8 L300.7,966.6 L301.2,966.3 L301.7,966.1 L302.2,965.8 L302.7,965.6 L303.2,965.3 L303.3,965.3 L303.8,965.0 L304.3,964.8 L304.8,964.5 L305.3,964.3 L305.8,964.0 L306.3,963.8 L306.8,963.5 L307.3,963.3 L307.6,963.1 L308.1,962.9 L308.6,962.6 L309.1,962.4 L309.6,962.1 L310.1,961.9 L310.6,961.7 L311.1,961.4 L311.5,961.2 L312.0,961.0 L312.5,960.8 L313.0,960.5 L313.5,960.3 L314.0,960.1 L314.5,959.9 L315.0,959.7 L315.1,959.6 L315.6,959.4 L316.1,959.2 L316.6,959.0 L317.1,958.8 L317.6,958.6 L318.1,958.3 L318.6,958.2 L319.1,957.9 L319.6,957.7 L320.1,957.5 L320.6,957.3 L321.1,957.0 L321.6,956.8 L322.1,956.6 L322.1,956.6 L322.6,956.4 L323.1,956.1 L323.6,955.9 L324.1,955.6 L324.6,955.4 L325.1,955.1 L325.6,954.9 L325.8,954.8 L326.3,954.5 L326.8,954.2 L327.3,954.0 L327.8,953.7 L328.3,953.4 L328.8,953.1 L329.3,952.9 L329.8,952.6 L330.0,952.5 L330.5,952.2 L331.0,951.9 L331.5,951.5 L332.0,951.2 L332.5,950.9 L333.0,950.6 L333.5,950.3 L334.0,949.9 L334.5,949.6 L334.5,949.6 L335.0,949.2 L335.5,948.9 L336.0,948.5 L336.5,948.2 L337.0,947.8 L337.5,947.4 L338.0,947.1 L338.5,946.7 L339.0,946.4 L339.3,946.2 L339.8,945.8 L340.3,945.4 L340.8,945.1 L341.3,944.7 L341.8,944.3 L342.3,944.0 L342.8,943.6 L343.3,943.2 L343.8,942.8 L344.3,942.5 L344.8,942.1 L345.3,941.8 L345.8,941.4 L346.3,941.1 L346.8,940.7 L347.3,940.3 L347.8,940.0 L348.3,939.6 L348.8,939.3 L349.3,938.9 L349.6,938.7 L350.1,938.4 L350.6,938.1 L351.1,937.8 L351.6,937.4 L352.1,937.1 L352.6,936.8 L353.1,936.5 L353.6,936.2 L354.1,935.8 L354.6,935.5 L355.1,935.2 L355.1,935.2 L355.6,934.9 L356.1,934.6 L356.6,934.4 L357.1,934.1 L357.6,933.8 L358.1,933.5 L358.6,933.3 L359.1,933.0 L359.6,932.7 L360.1,932.4 L360.6,932.2 L360.9,932.0 L361.4,931.8 L361.9,931.6 L362.4,931.3 L362.9,931.1 L363.4,930.9 L363.9,930.7 L364.4,930.4 L364.9,930.2 L365.4,930.0 L365.9,929.8 L366.4,929.5 L366.9,929.3 L367.2,929.2 L367.7,929.0 L368.2,928.8 L368.7,928.6 L369.2,928.4 L369.7,928.2 L370.2,928.0 L370.7,927.8 L371.2,927.6 L371.7,927.4 L372.2,927.2 L372.7,927.0 L373.2,926.8 L373.7,926.6 L374.1,926.5 L374.6,926.3 L375.1,926.2 L375.6,926.0 L376.1,925.8 L376.6,925.6 L377.1,925.5 L377.6,925.3 L378.1,925.1 L378.6,924.9 L379.1,924.8 L379.6,924.6 L380.1,924.4 L380.6,924.2 L381.1,924.1 L381.2,924.0 L381.7,923.9 L382.2,923.7 L382.7,923.5 L383.2,923.4 L383.7,923.2 L384.2,923.0 L384.7,922.9 L385.2,922.7 L385.7,922.6 L386.2,922.4 L386.7,922.2 L387.2,922.1 L387.7,921.9 L388.2,921.8 L388.3,921.7 L388.8,921.6 L389.3,921.4 L389.8,921.3 L390.3,921.1 L390.8,920.9 L391.3,920.8 L391.8,920.6 L392.3,920.5 L392.8,920.3 L393.3,920.2 L393.8,920.0 L394.3,919.9 L394.8,919.7 L395.3,919.6 L395.8,919.5 L396.3,919.3 L396.8,919.2 L397.3,919.0 L397.8,918.9 L398.3,918.7 L398.8,918.6 L399.3,918.4 L399.8,918.3 L400.3,918.1 L400.8,918.0 L401.3,917.8 L401.7,917.7 L402.2,917.6 L402.7,917.4 L403.2,917.3 L403.7,917.1 L404.2,917.0 L404.7,916.9 L405.2,916.7 L405.7,916.6 L406.2,916.4 L406.7,916.3 L407.2,916.2 L407.7,916.0 L407.8,916.0 L408.3,915.9 L408.8,915.7 L409.3,915.6 L409.8,915.5 L410.3,915.4 L410.8,915.2 L411.3,915.1 L411.8,915.0 L412.3,914.9 L412.8,914.7 L413.3,914.6 L413.8,914.5 L413.8,914.5 L414.3,914.4 L414.8,914.2 L415.3,914.1 L415.8,914.0 L416.3,913.9 L416.8,913.8 L417.3,913.7 L417.8,913.6 L418.3,913.4 L418.8,913.3 L419.3,913.2 L419.6,913.1 L420.1,913.0 L420.6,912.9 L421.1,912.8 L421.6,912.7 L422.1,912.6 L422.6,912.5 L423.1,912.4 L423.6,912.3 L424.1,912.2 L424.6,912.1 L425.1,912.0 L425.6,911.9 L426.1,911.9 L426.6,911.8 L427.1,911.7 L427.6,911.6 L428.1,911.5 L428.6,911.4 L429.1,911.3 L429.6,911.2 L430.0,911.1 L430.5,911.1 L431.0,911.0 L431.5,910.9 L432.0,910.8 L432.5,910.8 L433.0,910.7 L433.5,910.6 L434.0,910.6 L434.4,910.5 L434.9,910.5 L435.4,910.4 L435.9,910.4 L436.4,910.4 L436.9,910.3 L437.4,910.3 L437.9,910.3 L437.9,910.3 L438.4,910.3 L438.9,910.3 L439.4,910.4 L439.9,910.4 L440.4,910.4 L440.7,910.4 L441.2,910.5 L441.7,910.6 L442.2,910.7 L442.7,910.8 L443.0,910.8 L443.5,910.9 L444.0,911.0 L444.5,911.1 L445.0,911.2 L445.1,911.3 L445.6,911.3 L446.1,911.4 L446.6,911.5 L447.1,911.5 L447.3,911.6 L447.8,911.5 L448.3,911.5 L448.8,911.5 L449.3,911.5 L449.8,912.2 L450.0,912.5 L450.5,913.4 L451.0,914.4 L451.5,914.0 L452.0,913.6 L452.5,913.2 L452.9,912.9 L453.4,912.5 L453.9,912.1 L454.4,911.7 L454.9,911.3 L455.4,910.9 L455.8,910.5 L456.3,910.3 L456.8,910.2 L457.3,910.0 L457.8,909.9 L458.3,909.8 L458.8,909.6 L458.8,909.6 L459.3,909.5 L459.8,909.4 L460.3,909.2 L460.8,909.1 L461.3,909.0 L461.8,908.8 L462.1,908.7 L462.6,908.6 L463.1,908.5 L463.6,908.4 L464.1,908.3 L464.6,908.1 L465.1,908.0 L465.6,907.9 L465.8,907.8 L466.3,907.7 L466.8,907.6 L467.3,907.5 L467.8,907.4 L468.3,907.3 L468.8,907.2 L469.3,907.1 L469.8,907.0 L470.0,907.0 L470.5,906.9 L471.0,906.8 L471.5,906.7 L472.0,906.6 L472.5,906.6 L473.0,906.5 L473.5,906.4 L474.0,906.3 L474.5,906.2 L474.7,906.2 L475.2,906.1 L475.7,906.0 L476.2,905.9 L476.7,905.8 L477.2,905.8 L477.7,905.7 L478.2,905.6 L478.7,905.5 L479.2,905.4 L479.6,905.3 L480.1,905.3 L480.6,905.2 L481.1,905.1 L481.6,905.0 L482.1,904.9 L482.6,904.9 L483.1,904.8 L483.6,904.7 L484.1,904.6 L484.6,904.5 L484.9,904.5 L485.4,904.4 L485.9,904.3 L486.4,904.3 L486.9,904.2 L487.4,904.1 L487.9,904.0 L488.4,904.0 L488.9,903.9 L489.4,903.8 L489.9,903.7 L490.4,903.7 L490.8,903.6 L491.3,903.5 L491.8,903.5 L492.3,903.4 L492.8,903.3 L493.3,903.3 L493.8,903.2 L494.3,903.1 L494.8,903.1 L495.3,903.0 L495.8,902.9 L496.3,902.9 L496.8,902.8 L497.3,902.7 L497.3,902.7 L497.8,902.7 L498.3,902.6 L498.8,902.6 L499.3,902.5 L499.8,902.5 L500.3,902.4 L500.8,902.3 L501.3,902.3 L501.8,902.2 L502.3,902.2 L502.8,902.1 L503.3,902.0 L503.8,902.0 L504.3,901.9 L504.6,901.9 L505.1,901.9 L505.6,901.8 L506.1,901.8 L506.6,901.9 L507.1,902.9 L507.6,903.8 L508.1,904.5 L508.6,904.2 L509.1,903.8 L509.6,903.5 L510.1,903.1 L510.6,902.8 L511.1,902.4 L511.6,902.1 L512.1,901.7 L512.6,901.4 L512.9,901.2 L513.4,901.1 L513.9,901.1 L514.4,901.0 L514.9,901.0 L515.4,900.9 L515.9,900.9 L516.4,900.9 L516.9,900.8 L517.4,900.8 L517.9,900.8 L518.4,900.7 L518.9,900.7 L519.4,900.7 L519.9,900.6 L520.4,900.6 L520.9,900.5 L521.4,900.5 L521.9,900.5 L522.3,900.4 L522.8,900.4 L523.3,900.4 L523.8,900.3 L524.3,900.3 L524.8,900.3 L525.3,900.2 L525.8,900.2 L526.3,900.2 L526.8,900.1 L527.3,900.1 L527.8,900.1 L528.3,900.0 L528.8,900.0 L529.3,900.0 L529.8,899.9 L530.3,899.9 L530.8,899.9 L531.3,899.8 L531.8,899.8 L532.3,899.8 L532.8,899.7 L533.3,899.7 L533.8,899.7 L534.3,899.6 L534.8,899.6 L535.3,899.5 L535.8,899.5 L536.3,899.5 L536.8,899.4 L537.3,899.4 L537.8,899.4 L538.3,899.3 L538.8,899.3 L539.3,899.3 L539.8,899.2 L540.3,899.2 L540.8,899.1 L541.3,899.1 L541.8,899.1 L542.3,899.0 L542.5,899.0 L543.0,899.0 L543.5,898.9 L544.0,898.9 L544.5,898.8 L545.0,898.8 L545.5,898.8 L546.0,898.7 L546.5,898.7 L547.0,898.6 L547.5,898.6 L548.0,898.5 L548.5,898.5 L549.0,898.4 L549.5,898.4 L550.0,898.4 L550.5,898.3 L551.0,898.3 L551.5,898.2 L552.0,898.2 L552.5,898.1 L552.7,898.1 L553.2,898.1 L553.7,898.0 L554.2,897.9 L554.7,897.9 L555.2,897.8 L555.7,897.8 L556.2,897.7 L556.7,897.7 L557.2,897.6 L557.7,897.5 L558.2,897.5 L558.7,897.4 L559.2,897.4 L559.7,897.3 L560.2,897.3 L560.7,897.2 L561.2,897.1 L561.7,897.1 L562.2,897.0 L562.4,897.0 L562.9,896.9 L563.4,896.8 L563.9,896.8 L564.4,896.7 L564.9,896.6 L565.4,896.5 L565.9,896.5 L566.4,896.4 L566.9,896.3 L567.4,896.2 L567.9,896.1 L568.4,896.1 L568.9,896.0 L569.4,895.9 L569.9,895.8 L570.4,895.7 L570.9,895.7 L571.4,895.6 L571.9,895.5 L572.4,895.4 L572.9,895.3 L573.4,895.2 L573.9,895.1 L574.4,895.0 L574.9,894.9 L575.4,894.9 L575.9,894.8 L576.4,894.7 L576.9,894.6 L577.4,894.5 L577.9,894.4 L578.4,894.3 L578.9,894.2 L579.4,894.1 L579.9,894.0 L580.4,893.9 L580.9,893.8 L581.4,893.7 L581.4,893.7 L581.9,893.6 L582.4,893.5 L582.9,893.4 L583.4,893.3 L583.9,893.2 L584.4,893.1 L584.9,893.0 L585.4,892.9 L585.9,892.8 L586.4,892.7 L586.9,892.6 L587.4,892.5 L587.9,892.4 L588.4,892.3 L588.9,892.2 L589.4,892.1 L589.9,891.9 L590.4,891.8 L590.8,891.8 L591.3,891.7 L591.8,891.5 L592.3,891.4 L592.8,891.3 L593.3,891.2 L593.8,891.1 L594.3,891.0 L594.8,890.9 L595.3,890.8 L595.8,890.7 L596.3,890.6 L596.8,890.5 L597.3,890.4 L597.8,890.3 L598.3,890.2 L598.8,890.1 L599.3,890.0 L599.8,889.9 L600.0,889.8 L600.5,889.7 L601.0,889.6 L601.5,889.5 L602.0,889.4 L602.5,889.3 L603.0,889.2 L603.5,889.2 L604.0,889.1 L604.5,889.0 L605.0,888.9 L605.5,888.8 L606.0,888.7 L606.5,888.6 L607.0,888.5 L607.5,888.4 L608.0,888.3 L608.5,888.2 L608.8,888.1 L609.3,888.0 L609.8,888.0 L610.3,887.9 L610.8,887.8 L611.3,887.7 L611.8,887.6 L612.3,887.6 L612.8,887.5 L613.3,887.4 L613.8,887.3 L614.3,887.2 L614.8,887.2 L615.3,887.1 L615.8,887.0 L616.3,886.9 L616.8,886.8 L617.0,886.8 L617.5,886.7 L618.0,886.7 L618.5,886.6 L619.0,886.6 L619.5,886.5 L620.0,886.5 L620.5,886.4 L621.0,886.3 L621.5,886.3 L622.0,886.2 L622.5,886.2 L623.0,886.1 L623.5,886.1 L624.0,886.0 L624.5,886.0 L625.0,885.9 L625.5,885.9 L626.0,885.8 L626.5,885.8 L627.0,885.7 L627.5,885.7 L628.0,885.7 L628.5,885.6 L629.0,885.6 L629.5,885.5 L630.0,885.5 L630.5,885.5 L631.0,885.4 L631.5,885.4 L632.0,885.3 L632.5,885.3 L632.9,885.3 L633.4,885.2 L633.9,885.2 L634.4,885.2 L634.9,885.2 L635.4,885.1 L635.9,885.1 L636.4,885.1 L636.9,885.1 L637.4,885.0 L637.9,885.0 L638.4,885.0 L638.9,884.9 L639.4,884.9 L639.9,884.9 L640.4,884.9 L640.4,884.9 L640.9,884.8 L641.4,884.8 L641.9,884.8 L642.4,884.8 L642.9,884.8 L643.4,884.7 L643.9,884.7 L644.4,884.7 L644.9,884.7 L645.4,884.7 L645.9,884.6 L646.4,884.6 L646.9,884.6 L647.2,884.6 L647.7,884.6 L648.2,884.6 L648.7,884.5 L649.2,884.5 L649.7,884.5 L650.2,884.5 L650.7,884.5 L651.2,884.5 L651.7,884.4 L652.2,884.4 L652.7,884.4 L652.8,884.4 L653.3,884.4 L653.8,884.3 L654.3,884.3 L654.8,884.3 L655.3,884.3 L655.8,884.3 L656.3,884.2 L656.8,884.2 L657.0,884.2" fill="none" stroke="#bcbcbc" stroke-width="1.8" stroke-dasharray="3.6 1.9" stroke-linejoin="round"/>
<path d="M89.4,1166.0 L90.0,1164.2 L90.8,1161.8 L91.7,1158.9 L92.7,1155.8 L93.9,1152.7 L95.0,1150.0 L96.1,1147.6 L97.3,1145.3 L98.6,1143.0 L99.9,1140.7 L101.4,1138.4 L103.0,1136.0 L104.7,1133.4 L106.6,1130.8 L108.6,1128.1 L110.6,1125.4 L112.8,1122.7 L115.0,1120.0 L117.3,1117.4 L119.6,1114.7 L122.0,1112.1 L124.5,1109.5 L127.2,1106.8 L130.0,1104.0 L132.9,1101.2 L136.0,1098.3 L139.1,1095.4 L142.5,1092.4 L146.1,1089.2 L150.0,1086.0 L154.3,1082.5 L159.1,1078.8 L164.0,1075.0 L169.1,1071.2 L174.2,1067.5 L179.2,1064.2 L183.9,1061.3 L188.5,1058.7 L193.0,1056.2 L197.7,1053.8 L202.8,1051.1 L208.4,1048.2 L214.8,1044.8 L221.8,1040.9 L229.2,1036.9 L236.5,1033.0 L243.6,1029.4 L250.0,1026.3 L255.4,1023.9 L260.0,1022.1 L264.3,1020.5 L268.8,1019.0 L273.8,1017.3 L280.0,1015.2 L287.4,1012.5 L295.8,1009.4 L304.8,1006.1 L314.2,1002.8 L323.5,999.7 L332.5,996.8 L341.4,994.2 L350.6,991.8 L359.7,989.5 L368.6,987.4 L377.2,985.4 L385.1,983.6 L392.7,982.0 L400.1,980.4 L407.1,979.1 L413.5,977.9 L418.9,977.1 L423.2,976.5 L426.0,977.4 L428.0,979.0 L431.5,979.0 L435.8,978.9 L440.9,978.7 L446.7,978.3 L453.1,977.7 L460.0,977.0 L467.8,976.0 L476.7,974.6 L486.2,973.1 L495.9,971.5 L505.4,970.1 L514.2,968.9 L522.3,968.0 L530.0,967.4 L537.5,966.8 L544.9,966.3 L552.3,965.7 L560.0,964.9 L567.9,964.0 L575.8,963.0 L583.9,961.9 L591.9,960.8 L600.0,959.6 L608.2,958.5 L617.0,957.3 L626.5,955.9 L636.1,954.5 L645.0,953.1 L652.6,952.0 L658.0,951.2" fill="none" stroke="#bcbcbc" stroke-width="1.9" stroke-linejoin="round"/>
<path d="M89.4,1166.0 L90.1,1164.3 L91.1,1162.0 L92.2,1159.3 L93.5,1156.4 L94.7,1153.6 L96.0,1151.0 L97.2,1148.7 L98.4,1146.6 L99.7,1144.5 L101.0,1142.4 L102.4,1140.3 L104.0,1138.0 L105.7,1135.6 L107.6,1133.1 L109.6,1130.6 L111.6,1128.1 L113.8,1125.5 L116.0,1123.0 L118.3,1120.5 L120.6,1118.0 L123.1,1115.6 L125.6,1113.1 L128.2,1110.6 L131.0,1108.0 L133.6,1105.6 L136.1,1103.4 L138.7,1101.2 L141.7,1098.8 L145.4,1095.8 L150.0,1092.0 L155.7,1087.2 L162.3,1081.4 L169.6,1075.1 L177.4,1068.7 L185.5,1062.5 L193.8,1057.0 L202.8,1051.9 L212.6,1047.0 L222.8,1042.3 L232.7,1038.0 L242.0,1034.1 L250.0,1030.7 L256.3,1028.1 L261.1,1026.2 L265.2,1024.8 L269.3,1023.5 L274.0,1022.2 L280.0,1020.4 L287.4,1018.2 L295.8,1015.8 L304.8,1013.3 L314.2,1010.8 L323.5,1008.3 L332.5,1006.0 L341.0,1003.9 L349.2,1001.8 L357.4,999.9 L365.9,997.9 L375.0,996.1 L385.1,994.2 L396.5,992.3 L409.2,990.5 L422.5,988.7 L435.7,986.9 L448.5,985.2 L460.0,983.6 L470.3,982.1 L479.9,980.6 L488.9,979.1 L497.5,977.8 L505.9,976.5 L514.2,975.3 L522.3,974.2 L530.0,973.2 L537.5,972.3 L544.9,971.5 L552.3,970.6 L560.0,969.7 L567.9,968.8 L575.8,967.8 L583.9,966.9 L591.9,965.9 L600.0,965.0 L608.2,964.1 L617.0,963.2 L626.5,962.3 L636.1,961.4 L645.0,960.5 L652.6,959.8 L658.0,959.3" fill="none" stroke="#bcbcbc" stroke-width="1.8" stroke-dasharray="5.4 3.9" stroke-linejoin="round"/>
<path d="M89.4,1166.0 L90.2,1164.5 L91.4,1162.3 L92.7,1159.8 L94.2,1157.0 L95.6,1154.4 L97.0,1152.0 L98.5,1149.5 L100.0,1147.2 L101.5,1144.8 L103.1,1142.5 L105.0,1140.0 L106.7,1137.8 L108.6,1135.5 L110.6,1133.2 L112.6,1130.9 L112.6,1130.8 L114.6,1128.6 L114.8,1128.4 L116.8,1126.2 L117.0,1126.0 L119.0,1123.9 L119.3,1123.6 L121.3,1121.5 L121.7,1121.1 L123.7,1119.0 L124.1,1118.6 L126.1,1116.6 L126.7,1116.0 L128.7,1114.1 L129.3,1113.5 L131.3,1111.7 L132.0,1111.0 L134.0,1109.2 L134.5,1108.7 L136.5,1107.0 L136.8,1106.7 L138.8,1105.1 L139.2,1104.8 L141.2,1103.1 L142.0,1102.5 L144.0,1100.9 L145.5,1099.7 L147.5,1098.0 L149.5,1096.4 L150.0,1096.0 L152.0,1094.3 L154.0,1092.6 L155.7,1091.2 L157.7,1089.5 L159.7,1087.8 L161.7,1086.0 L162.2,1085.5 L164.2,1083.8 L166.2,1082.1 L168.2,1080.4 L169.5,1079.3 L171.5,1077.6 L173.5,1076.0 L175.5,1074.3 L177.3,1072.8 L179.3,1071.3 L181.3,1069.8 L183.3,1068.3 L185.3,1066.7 L185.5,1066.6 L187.5,1065.3 L189.5,1063.9 L191.5,1062.6 L193.5,1061.2 L193.8,1061.0 L195.8,1059.8 L197.8,1058.7 L199.8,1057.5 L201.8,1056.3 L202.8,1055.8 L204.8,1054.7 L206.8,1053.7 L208.8,1052.6 L210.8,1051.6 L212.6,1050.6 L214.6,1049.7 L216.6,1048.7 L218.6,1047.7 L220.6,1046.8 L222.6,1045.8 L222.8,1045.7 L224.8,1044.8 L226.8,1043.9 L228.8,1043.0 L230.8,1042.0 L232.7,1041.1 L234.7,1040.3 L236.7,1039.4 L238.7,1038.5 L240.7,1037.6 L242.0,1037.0 L244.0,1036.2 L246.0,1035.3 L248.0,1034.5 L250.0,1033.6 L252.0,1032.8 L254.0,1031.9 L256.0,1031.1 L258.0,1030.3 L260.0,1029.6 L260.1,1029.5 L262.1,1028.8 L263.6,1028.4 L265.6,1027.8 L267.4,1027.4 L269.4,1026.8 L271.4,1026.3 L272.5,1026.0 L274.5,1025.5 L276.5,1025.0 L278.5,1024.4 L280.0,1024.0 L282.0,1023.4 L284.0,1022.9 L286.0,1022.3 L288.0,1021.8 L290.0,1018.7 L290.6,1019.3 L292.6,1021.3 L294.6,1021.7 L296.6,1018.7 L298.6,1017.2 L300.6,1019.1 L302.6,1019.5 L303.6,1018.0 L305.6,1015.0 L307.6,1016.0 L309.6,1017.9 L311.6,1015.9 L313.6,1012.8 L315.6,1013.8 L317.6,1015.8 L318.0,1016.2 L320.0,1013.2 L322.0,1010.1 L324.0,1012.1 L326.0,1014.1 L328.0,1011.1 L330.0,1008.0 L332.0,1010.0 L332.7,1010.7 L334.7,1011.0 L336.7,1008.0 L338.7,1006.6 L340.7,1008.6 L342.7,1009.0 L344.7,1006.0 L346.6,1004.6 L348.6,1006.6 L350.6,1007.1 L352.6,1004.1 L354.6,1002.7 L356.6,1004.7 L358.6,1005.2 L358.8,1004.9 L360.8,1002.0 L362.8,1001.0 L364.8,1003.1 L366.8,1003.2 L368.8,1000.2 L369.1,999.8 L371.1,999.7 L373.1,1001.8 L375.1,1001.1 L377.1,998.2 L378.4,997.4 L380.4,999.5 L382.4,1000.6 L384.4,997.8 L386.4,996.0 L387.0,996.6 L389.0,998.8 L391.0,998.5 L393.0,995.7 L395.0,995.3 L395.1,995.5 L397.1,997.7 L399.1,997.1 L401.1,994.3 L403.1,994.3 L403.2,994.3 L405.2,996.6 L407.2,995.8 L409.2,993.1 L411.2,993.2 L411.4,993.4 L413.4,995.7 L415.4,994.4 L417.4,991.6 L419.4,992.3 L421.4,994.6 L423.4,993.5 L425.4,990.7 L426.7,990.7 L428.7,993.0 L430.7,993.4 L432.7,990.7 L434.0,989.0 L436.0,991.3 L438.0,993.6 L440.0,991.0 L441.6,988.8 L443.6,990.1 L445.6,992.4 L447.6,990.7 L449.6,988.0 L450.1,987.6 L452.1,989.9 L454.1,991.9 L456.1,989.1 L458.1,986.8 L460.0,988.9 L462.0,991.2 L464.0,988.4 L466.0,985.7 L468.0,988.0 L470.0,990.2 L471.7,987.5 L473.7,987.3 L475.7,987.1 L477.7,986.8 L479.7,986.6 L481.7,986.3 L483.7,986.1 L484.8,985.9 L486.8,985.7 L488.8,985.4 L490.8,985.2 L492.8,985.0 L494.8,984.7 L496.8,984.5 L498.8,984.2 L498.8,984.2 L500.8,984.0 L502.8,983.8 L504.8,983.5 L506.8,983.3 L508.8,983.1 L510.8,982.8 L512.8,982.6 L513.1,982.6 L515.1,982.4 L517.1,982.2 L519.1,982.0 L521.1,981.8 L523.1,981.5 L525.1,981.3 L527.0,981.1 L529.0,981.0 L531.0,980.8 L533.0,980.7 L535.0,980.5 L537.0,980.3 L539.0,980.2 L540.0,980.1 L542.0,980.0 L544.0,979.9 L546.0,979.9 L548.0,979.8 L550.0,979.7 L552.0,979.6 L552.4,979.6 L554.4,979.6 L556.4,979.6 L558.4,979.6 L560.4,979.6 L562.4,979.5 L564.4,979.5 L564.8,979.5 L566.8,979.6 L568.8,979.6 L570.8,979.6 L572.8,979.6 L574.8,979.7 L576.8,979.7 L576.8,979.7 L578.8,979.7 L580.8,979.8 L582.8,979.8 L584.8,979.8 L586.8,979.8 L588.2,979.9 L590.2,979.9 L592.2,979.8 L594.2,979.8 L596.2,979.8 L598.2,979.8 L598.7,979.8 L600.7,979.7 L602.7,979.6 L604.7,979.5 L606.7,979.4 L608.0,979.3 L610.0,979.0 L612.0,978.8 L614.0,978.5 L616.0,978.2 L616.1,978.2 L618.1,977.8 L620.1,977.4 L622.1,976.9 L623.1,976.7 L625.1,976.2 L627.1,975.6 L629.1,975.0 L629.2,975.0 L631.2,974.4 L633.2,973.7 L634.5,973.3 L636.5,972.6 L638.5,971.9 L639.2,971.7 L641.2,971.1 L643.2,970.6 L643.5,970.5 L645.5,970.1 L647.5,969.6 L647.8,969.6 L649.8,969.2 L651.1,968.9 L653.1,968.6 L653.6,968.5 L655.5,968.2 L657.0,968.0" fill="none" stroke="#bcbcbc" stroke-width="1.8" stroke-dasharray="5.4 3.9" stroke-linejoin="round"/>
<path d="M89.4,1166.0 L90.5,1164.4 L92.2,1162.1 L94.0,1159.4 L96.1,1156.6 L98.0,1154.0 L99.6,1152.0 L101.2,1150.0 L102.8,1148.0 L104.5,1146.0 L106.2,1144.0 L108.0,1142.0 L109.8,1140.0 L111.7,1138.0 L113.7,1136.1 L115.7,1134.1 L117.8,1132.1 L120.0,1130.0 L122.3,1127.9 L124.8,1125.7 L127.3,1123.5 L129.9,1121.3 L132.5,1119.1 L135.0,1117.0 L137.3,1115.1 L139.4,1113.3 L141.6,1111.6 L143.9,1109.7 L146.6,1107.6 L150.0,1105.0 L154.1,1101.9 L158.7,1098.4 L163.8,1094.7 L169.1,1090.8 L174.5,1086.8 L180.0,1083.0 L185.5,1079.1 L191.3,1075.1 L197.2,1071.1 L203.1,1067.1 L209.1,1063.4 L215.0,1060.0 L220.9,1056.9 L226.9,1054.1 L232.8,1051.5 L238.7,1049.1 L244.5,1046.9 L250.0,1045.0 L254.7,1043.6 L258.6,1042.6 L262.3,1041.9 L266.6,1041.3 L272.2,1040.3 L280.0,1038.8 L290.7,1036.6 L303.9,1033.9 L318.5,1031.0 L333.3,1028.0 L347.1,1025.3 L358.8,1023.0 L368.1,1021.3 L375.8,1019.9 L382.5,1018.8 L389.0,1017.7 L395.8,1016.6 L403.5,1015.2 L411.7,1013.6 L419.8,1012.0 L428.3,1010.3 L437.5,1008.5 L447.9,1006.6 L460.0,1004.7 L474.2,1002.6 L490.2,1000.4 L507.5,998.1 L525.3,995.8 L543.0,993.6 L560.0,991.4 L577.4,989.2 L596.0,986.8 L614.5,984.5 L631.5,982.4 L646.0,980.6 L656.4,979.3" fill="none" stroke="#bcbcbc" stroke-width="1.9" stroke-linejoin="round"/>
<path d="M89.4,1166.0 L90.7,1164.6 L92.5,1162.7 L94.6,1160.5 L96.8,1158.2 L99.0,1156.0 L101.0,1154.0 L103.1,1152.1 L105.2,1150.2 L107.5,1148.2 L110.0,1146.0 L112.2,1144.1 L114.3,1142.2 L116.6,1140.2 L119.1,1138.0 L121.9,1135.7 L125.0,1133.0 L128.4,1130.1 L131.9,1126.9 L135.7,1123.6 L139.9,1120.0 L144.6,1116.1 L150.0,1112.0 L156.3,1107.4 L163.5,1102.2 L171.2,1096.8 L179.1,1091.4 L186.7,1086.3 L193.8,1081.8 L200.5,1077.9 L207.0,1074.2 L213.4,1070.9 L219.4,1067.9 L225.0,1065.3 L230.0,1063.0 L234.2,1061.3 L237.6,1060.2 L240.6,1059.4 L243.4,1058.8 L246.4,1058.1 L250.0,1057.0 L254.1,1055.6 L258.6,1053.9 L263.3,1052.2 L268.0,1050.5 L272.7,1048.9 L277.0,1047.5 L280.8,1046.4 L284.0,1045.5 L287.1,1044.8 L290.5,1044.0 L294.7,1043.1 L300.0,1042.0 L306.8,1040.6 L314.7,1039.0 L323.3,1037.2 L332.3,1035.4 L341.4,1033.7 L350.0,1032.0 L358.2,1030.4 L366.3,1028.9 L374.4,1027.4 L382.6,1026.0 L391.1,1024.5 L400.0,1023.0 L409.2,1021.5 L418.5,1020.0 L428.1,1018.6 L438.1,1017.1 L448.7,1015.6 L460.0,1014.0 L472.5,1012.3 L486.2,1010.5 L500.5,1008.7 L514.7,1007.0 L528.1,1005.4 L540.0,1004.0 L550.1,1002.9 L558.9,1002.1 L566.9,1001.4 L574.7,1000.8 L582.8,1000.2 L592.0,999.4 L603.0,998.5 L615.4,997.4 L628.2,996.3 L640.4,995.3 L650.7,994.4 L658.0,993.8" fill="none" stroke="#bcbcbc" stroke-width="1.8" stroke-dasharray="5.4 3.9" stroke-linejoin="round"/>
<path d="M89.4,1166.0 L90.7,1165.1 L90.8,1164.9 L92.1,1164.0 L92.8,1163.5 L94.1,1162.5 L95.2,1161.7 L96.4,1160.8 L97.6,1159.9 L98.9,1158.9 L100.0,1158.0 L101.3,1157.0 L101.9,1156.5 L103.1,1155.4 L103.8,1154.9 L105.0,1153.8 L105.7,1153.2 L107.0,1152.2 L107.7,1151.6 L109.0,1150.5 L109.8,1149.8 L111.1,1148.8 L112.0,1148.0 L113.2,1147.0 L114.2,1146.2 L115.5,1145.2 L116.5,1144.4 L117.7,1143.4 L118.8,1142.6 L120.1,1141.6 L121.3,1140.6 L122.5,1139.6 L123.8,1138.6 L124.0,1138.4 L125.3,1137.4 L126.5,1136.4 L127.0,1136.0 L128.2,1134.9 L129.5,1133.9 L130.1,1133.4 L131.4,1132.3 L132.6,1131.2 L133.3,1130.6 L134.6,1129.5 L135.8,1128.4 L136.7,1127.6 L138.0,1126.5 L139.2,1125.5 L140.5,1124.4 L140.5,1124.4 L141.7,1123.4 L143.0,1122.4 L144.2,1121.4 L144.9,1120.8 L146.1,1119.9 L147.4,1119.0 L148.6,1118.0 L149.9,1117.1 L150.0,1117.0 L151.2,1116.1 L152.5,1115.2 L153.8,1114.3 L155.0,1113.4 L156.2,1112.6 L157.4,1111.7 L158.7,1110.8 L159.9,1110.0 L161.2,1109.1 L162.4,1108.2 L163.3,1107.6 L164.6,1106.7 L165.8,1105.9 L167.1,1105.0 L168.3,1104.1 L169.6,1103.3 L170.8,1102.4 L171.1,1102.3 L172.3,1101.4 L173.6,1100.6 L174.8,1099.8 L176.1,1098.9 L177.3,1098.1 L178.6,1097.3 L179.0,1097.0 L180.2,1096.2 L181.5,1095.4 L182.7,1094.6 L184.0,1093.7 L185.2,1092.9 L186.5,1092.1 L186.7,1092.0 L187.9,1091.2 L189.2,1090.4 L190.4,1089.7 L191.7,1088.9 L192.9,1088.1 L193.8,1087.6 L195.0,1086.9 L196.3,1086.2 L197.5,1085.4 L198.8,1084.7 L200.0,1084.0 L200.5,1083.8 L201.7,1083.1 L203.0,1082.4 L204.2,1081.7 L205.5,1081.1 L206.7,1080.4 L207.0,1080.2 L208.3,1079.6 L209.5,1078.9 L210.8,1078.3 L212.0,1077.7 L213.3,1077.0 L213.4,1077.0 L214.6,1076.4 L215.9,1075.7 L217.1,1075.1 L218.4,1074.5 L219.4,1074.0 L220.7,1073.4 L221.9,1072.8 L223.2,1072.2 L224.4,1071.6 L225.0,1071.4 L226.2,1070.8 L227.5,1070.2 L228.7,1069.6 L230.0,1069.0 L230.0,1069.0 L231.3,1068.4 L232.5,1067.9 L233.8,1067.3 L234.2,1067.1 L235.4,1066.6 L236.7,1066.0 L237.5,1065.7 L238.7,1065.2 L240.0,1064.7 L240.4,1064.6 L241.6,1064.1 L242.9,1063.7 L243.2,1063.6 L244.4,1063.1 L245.7,1062.7 L246.3,1062.4 L247.5,1062.0 L248.8,1061.5 L250.0,1061.0 L251.3,1060.5 L252.5,1060.0 L253.8,1059.5 L254.4,1059.2 L255.7,1058.7 L256.9,1058.2 L258.2,1057.7 L259.3,1057.2 L260.5,1056.7 L261.8,1056.2 L263.0,1055.7 L264.3,1055.2 L264.4,1055.1 L265.6,1054.6 L266.9,1054.1 L268.1,1053.6 L269.4,1053.1 L269.6,1053.0 L270.9,1052.5 L272.1,1052.0 L273.4,1051.5 L274.6,1051.0 L274.9,1050.9 L276.1,1050.5 L277.4,1050.0 L278.6,1049.5 L279.9,1049.0 L280.0,1049.0 L281.2,1048.5 L282.5,1048.1 L283.8,1047.6 L284.9,1047.2 L286.1,1046.8 L287.4,1046.3 L288.6,1045.8 L289.6,1045.5 L290.9,1045.0 L292.1,1044.6 L293.4,1044.2 L294.4,1043.8 L295.6,1043.4 L296.9,1043.0 L298.1,1042.6 L299.3,1042.2 L300.5,1041.8 L301.8,1041.4 L303.0,1041.0 L304.3,1040.6 L304.4,1040.6 L305.7,1040.2 L306.9,1039.9 L308.2,1039.5 L309.4,1039.2 L310.0,1039.0 L311.2,1038.7 L312.5,1038.3 L313.8,1038.0 L315.0,1037.7 L316.0,1037.4 L317.2,1037.1 L318.5,1036.8 L319.7,1036.5 L321.0,1036.2 L322.2,1035.9 L323.5,1035.6 L324.7,1035.4 L326.0,1035.1 L327.2,1034.8 L328.5,1034.5 L328.8,1034.4 L330.0,1034.2 L331.2,1033.9 L332.5,1033.6 L333.8,1033.4 L335.0,1033.1 L335.6,1033.0 L336.8,1032.7 L338.1,1032.4 L339.3,1032.2 L340.6,1031.9 L341.8,1031.7 L342.6,1031.5 L343.9,1031.2 L345.1,1031.0 L346.4,1030.7 L347.6,1030.5 L348.9,1030.2 L350.0,1030.0 L351.2,1029.8 L352.5,1029.5 L353.8,1029.3 L355.0,1029.0 L356.2,1028.8 L357.5,1028.5 L357.8,1028.5 L359.0,1028.2 L360.3,1028.0 L361.5,1027.8 L362.8,1027.5 L364.0,1027.3 L365.3,1027.1 L365.9,1026.9 L367.2,1026.7 L368.4,1026.5 L369.7,1026.3 L370.9,1026.0 L372.2,1025.8 L373.4,1025.6 L374.4,1025.4 L375.6,1025.2 L376.9,1025.0 L378.1,1024.7 L379.4,1024.5 L380.6,1024.3 L381.9,1024.1 L383.0,1023.9 L384.2,1023.7 L385.5,1023.5 L386.7,1023.2 L388.0,1023.0 L389.2,1022.8 L390.5,1022.6 L391.6,1022.4 L392.8,1022.2 L394.1,1022.0 L395.3,1021.8 L396.6,1021.6 L397.8,1021.4 L399.1,1021.2 L400.0,1021.0 L401.2,1020.8 L402.5,1020.6 L403.8,1020.4 L405.0,1020.2 L406.2,1020.0 L407.5,1019.8 L408.3,1019.6 L409.6,1019.4 L410.8,1019.2 L412.1,1019.0 L413.3,1018.8 L414.6,1018.6 L415.8,1018.4 L416.7,1018.3 L417.9,1018.1 L419.2,1017.9 L420.4,1016.7 L421.7,1018.0 L422.9,1018.4 L424.2,1016.7 L425.0,1015.5 L426.2,1016.8 L427.5,1018.2 L428.8,1016.5 L430.0,1014.8 L431.2,1016.1 L432.5,1017.4 L433.3,1016.3 L434.6,1014.6 L435.8,1014.9 L437.1,1016.3 L438.3,1015.6 L439.6,1013.9 L440.8,1014.2 L441.7,1015.1 L442.9,1015.4 L444.2,1013.8 L445.4,1013.1 L446.7,1014.4 L447.9,1014.8 L449.2,1013.1 L450.0,1012.0 L451.2,1013.3 L452.5,1014.7 L453.8,1013.0 L455.0,1011.4 L456.2,1012.7 L457.5,1014.0 L458.2,1013.1 L459.5,1011.4 L460.7,1011.5 L462.0,1012.8 L463.2,1012.5 L464.5,1010.8 L465.7,1010.9 L466.3,1011.5 L467.5,1012.8 L468.8,1011.1 L470.0,1009.6 L471.3,1010.9 L472.5,1012.2 L473.8,1010.5 L474.4,1009.8 L475.6,1009.6 L476.9,1011.0 L478.1,1010.9 L479.4,1009.2 L480.6,1009.1 L481.9,1010.5 L482.6,1011.0 L483.8,1009.4 L485.1,1008.0 L486.3,1009.4 L487.6,1010.5 L488.8,1008.9 L490.1,1007.5 L491.1,1008.6 L492.3,1010.0 L493.6,1008.8 L494.8,1007.2 L496.1,1008.2 L497.3,1009.5 L498.6,1008.3 L499.8,1006.7 L500.0,1006.5 L501.2,1007.9 L502.5,1009.3 L503.8,1007.7 L505.0,1006.1 L506.2,1007.5 L507.5,1008.9 L508.8,1007.3 L509.0,1007.0 L510.2,1006.0 L511.5,1007.4 L512.7,1008.3 L514.0,1006.7 L515.2,1005.6 L516.5,1007.0 L517.7,1007.9 L517.9,1007.8 L519.1,1006.2 L520.4,1005.4 L521.6,1006.9 L522.9,1007.4 L524.1,1005.9 L525.4,1005.1 L526.6,1006.6 L527.0,1007.0 L528.2,1006.6 L529.5,1005.1 L530.8,1005.3 L532.0,1006.7 L533.2,1006.3 L534.5,1004.8 L535.8,1005.0 L536.8,1006.2 L538.1,1006.3 L539.3,1004.7 L540.6,1004.5 L541.8,1005.9 L543.1,1006.0 L544.3,1004.4 L545.6,1004.2 L546.8,1005.6 L547.7,1006.2 L548.9,1004.6 L550.2,1003.5 L551.4,1004.9 L552.7,1005.9 L553.9,1004.3 L555.2,1003.2 L556.4,1004.6 L557.7,1005.6 L558.9,1004.0 L560.0,1002.7 L561.2,1004.1 L562.5,1005.6 L563.8,1004.0 L565.0,1002.4 L566.2,1003.8 L567.5,1005.3 L568.8,1003.7 L570.0,1002.1 L571.2,1003.5 L572.5,1005.0 L573.8,1003.4 L575.0,1001.8 L575.3,1002.1 L576.5,1003.6 L577.8,1004.3 L579.0,1002.8 L580.3,1001.8 L581.5,1003.3 L582.8,1004.1 L584.0,1002.5 L585.3,1001.6 L586.5,1003.0 L587.8,1003.8 L589.0,1002.2 L590.3,1001.3 L591.5,1002.7 L592.8,1003.5 L593.5,1002.6 L594.7,1001.0 L596.0,1001.8 L597.2,1003.2 L598.5,1002.3 L599.7,1000.7 L601.0,1001.5 L602.2,1002.9 L603.5,1002.0 L604.7,1000.4 L606.0,1001.2 L607.2,1002.7 L608.5,1001.7 L609.7,1000.2 L611.0,1000.9 L612.2,1002.4 L612.8,1002.4 L614.0,1000.8 L615.2,999.8 L616.5,1001.3 L617.8,1002.1 L619.0,1000.5 L620.2,999.5 L621.5,1001.0 L622.8,1001.8 L624.0,1000.2 L625.2,999.3 L626.5,1000.7 L627.8,1001.5 L629.0,999.9 L630.2,999.0 L631.2,1000.0 L632.4,1001.5 L633.7,1000.1 L634.9,998.5 L636.2,999.8 L637.4,1001.2 L638.7,999.8 L639.9,998.2 L641.2,999.5 L642.4,1000.9 L643.7,999.5 L644.9,997.9 L646.2,999.2 L646.9,1000.0 L648.1,999.9 L649.4,998.3 L650.6,998.3 L651.9,999.7 L653.1,999.6 L654.4,998.0 L655.6,998.0 L656.9,999.4 L658.0,999.5" fill="none" stroke="#bcbcbc" stroke-width="1.9" stroke-linejoin="round"/>
<path d="M249.3,1087.2 L250.3,1085.4 L251.6,1082.9 L253.1,1080.0 L254.8,1076.8 L256.5,1073.7 L258.0,1071.0 L259.4,1068.5 L260.9,1066.0 L262.3,1063.6 L263.7,1061.3 L265.0,1059.3 L266.2,1057.4 L267.9,1054.5 L269.2,1052.3 L271.0,1050.4 L272.7,1049.1 L274.6,1048.1 L276.9,1047.1 L280.0,1046.0 L282.6,1045.2 L285.5,1044.5 L288.7,1043.7 L292.2,1042.8 L296.0,1042.0 L300.0,1041.0 L304.8,1039.9 L310.4,1038.6 L316.2,1037.2 L321.9,1035.9 L326.6,1034.8 L330.0,1034.0" fill="none" stroke="#bcbcbc" stroke-width="1.8" stroke-dasharray="5.4 3.9" stroke-linejoin="round"/>
<path d="M82.4,799.40 H89.4 M82.4,851.77 H89.4 M82.4,904.14 H89.4 M82.4,956.51 H89.4 M82.4,1008.89 H89.4 M82.4,1061.26 H89.4 M82.4,1113.63 H89.4 M82.4,1166.00 H89.4" stroke="#000" stroke-width="2.6" fill="none"/>
<path d="M89.40,1166.00 V1172.5 M203.22,1166.00 V1172.5 M317.04,1166.00 V1172.5 M430.86,1166.00 V1172.5 M544.68,1166.00 V1172.5 M658.50,1166.00 V1172.5" stroke="#000" stroke-width="2.6" fill="none"/>
<path d="M89.40,799.40 V1166.00 H658.50" stroke="#000" stroke-width="2.6" fill="none" stroke-linejoin="miter"/>
<text transform="translate(69.9,808.00) scale(1,1.12)" font-family='"Liberation Serif", serif' font-size="21.6" text-anchor="end">1.4</text>
<text transform="translate(69.9,860.37) scale(1,1.12)" font-family='"Liberation Serif", serif' font-size="21.6" text-anchor="end">1.2</text>
<text transform="translate(69.9,912.74) scale(1,1.12)" font-family='"Liberation Serif", serif' font-size="21.6" text-anchor="end">1</text>
<text transform="translate(69.9,965.11) scale(1,1.12)" font-family='"Liberation Serif", serif' font-size="21.6" text-anchor="end">0.8</text>
<text transform="translate(69.9,1017.49) scale(1,1.12)" font-family='"Liberation Serif", serif' font-size="21.6" text-anchor="end">0.6</text>
<text transform="translate(69.9,1069.86) scale(1,1.12)" font-family='"Liberation Serif", serif' font-size="21.6" text-anchor="end">0.4</text>
<text transform="translate(69.9,1122.23) scale(1,1.12)" font-family='"Liberation Serif", serif' font-size="21.6" text-anchor="end">0.2</text>
<text transform="translate(69.9,1174.60) scale(1,1.12)" font-family='"Liberation Serif", serif' font-size="21.6" text-anchor="end">0</text>
<text transform="translate(89.40,1201.2) scale(1,1.12)" font-family='"Liberation Serif", serif' font-size="21.8" text-anchor="middle">0</text>
<text transform="translate(203.22,1201.2) scale(1,1.12)" font-family='"Liberation Serif", serif' font-size="21.8" text-anchor="middle">0.025</text>
<text transform="translate(317.04,1201.2) scale(1,1.12)" font-family='"Liberation Serif", serif' font-size="21.8" text-anchor="middle">0.05</text>
<text transform="translate(430.86,1201.2) scale(1,1.12)" font-family='"Liberation Serif", serif' font-size="21.8" text-anchor="middle">0.075</text>
<text transform="translate(544.68,1201.2) scale(1,1.12)" font-family='"Liberation Serif", serif' font-size="21.8" text-anchor="middle">0.1</text>
<text transform="translate(658.50,1201.2) scale(1,1.12)" font-family='"Liberation Serif", serif' font-size="21.8" text-anchor="middle">0.125</text>
<path d="M89.5,375.9 L225.4,218.2 L658.1,121.0" fill="none" stroke="#4878c4" stroke-width="2.7" stroke-dasharray="3.4 4.6" stroke-linecap="round"/>
<path d="M89.5,375.9 L206.4,258.4 L658.0,171.8" fill="none" stroke="#ff0000" stroke-width="2.7" stroke-dasharray="5.4 9.1" stroke-linecap="round"/>
<path d="M89.5,375.9 L192.0,253.0 L658.4,159.0" fill="none" stroke="#ffc000" stroke-width="2.6"/>
<rect x="84.3" y="370.7" width="10.4" height="10.4" fill="#fff" stroke="#4878c4" stroke-width="2.3"/>
<rect x="220.2" y="213.0" width="10.4" height="10.4" fill="#fff" stroke="#4878c4" stroke-width="2.3"/>
<rect x="652.9" y="115.8" width="10.4" height="10.4" fill="#fff" stroke="#4878c4" stroke-width="2.3"/>
<circle cx="89.5" cy="375.9" r="5.1" fill="#fff" stroke="#ff0000" stroke-width="2.4"/>
<circle cx="206.4" cy="258.4" r="5.1" fill="#fff" stroke="#ff0000" stroke-width="2.4"/>
<circle cx="658.0" cy="171.8" r="5.1" fill="#fff" stroke="#ff0000" stroke-width="2.4"/>
<path d="M89.5,369.8 L95.8,382.0 L83.2,382.0 Z" fill="#fff" stroke="#ffc000" stroke-width="2.4" stroke-linejoin="round"/>
<path d="M192.0,246.8 L198.3,259.1 L185.7,259.1 Z" fill="#fff" stroke="#ffc000" stroke-width="2.4" stroke-linejoin="round"/>
<path d="M658.4,152.8 L664.7,165.2 L652.1,165.2 Z" fill="#fff" stroke="#ffc000" stroke-width="2.4" stroke-linejoin="round"/>
<path d="M88.0,771.7 L232.9,623.3 L656.7,497.1" fill="none" stroke="#4878c4" stroke-width="2.7" stroke-dasharray="3.4 4.6" stroke-linecap="round"/>
<path d="M88.0,771.7 L186.1,646.9 L656.8,547.7" fill="none" stroke="#ff0000" stroke-width="2.7" stroke-dasharray="5.4 9.1" stroke-linecap="round"/>
<path d="M88.0,771.7 L215.0,657.3 L656.8,572.3" fill="none" stroke="#ffc000" stroke-width="2.6"/>
<rect x="82.8" y="766.5" width="10.4" height="10.4" fill="#fff" stroke="#4878c4" stroke-width="2.3"/>
<rect x="227.7" y="618.1" width="10.4" height="10.4" fill="#fff" stroke="#4878c4" stroke-width="2.3"/>
<rect x="651.5" y="491.9" width="10.4" height="10.4" fill="#fff" stroke="#4878c4" stroke-width="2.3"/>
<circle cx="88.0" cy="771.7" r="5.1" fill="#fff" stroke="#ff0000" stroke-width="2.4"/>
<circle cx="186.1" cy="646.9" r="5.1" fill="#fff" stroke="#ff0000" stroke-width="2.4"/>
<circle cx="656.8" cy="547.7" r="5.1" fill="#fff" stroke="#ff0000" stroke-width="2.4"/>
<path d="M88.0,765.6 L94.3,777.9 L81.7,777.9 Z" fill="#fff" stroke="#ffc000" stroke-width="2.4" stroke-linejoin="round"/>
<path d="M215.0,651.1 L221.3,663.4 L208.7,663.4 Z" fill="#fff" stroke="#ffc000" stroke-width="2.4" stroke-linejoin="round"/>
<path d="M656.8,566.1 L663.1,578.4 L650.5,578.4 Z" fill="#fff" stroke="#ffc000" stroke-width="2.4" stroke-linejoin="round"/>
<path d="M89.4,1166.0 L265.9,967.9 L658.5,846.0" fill="none" stroke="#4878c4" stroke-width="2.7" stroke-dasharray="3.4 4.6" stroke-linecap="round"/>
<path d="M89.4,1166.0 L216.9,1049.4 L658.5,972.5" fill="none" stroke="#ff0000" stroke-width="2.7" stroke-dasharray="5.4 9.1" stroke-linecap="round"/>
<path d="M89.4,1166.0 L232.2,1052.0 L658.7,977.2" fill="none" stroke="#ffc000" stroke-width="2.6"/>
<rect x="84.2" y="1160.8" width="10.4" height="10.4" fill="#fff" stroke="#4878c4" stroke-width="2.3"/>
<rect x="260.7" y="962.7" width="10.4" height="10.4" fill="#fff" stroke="#4878c4" stroke-width="2.3"/>
<rect x="653.3" y="840.8" width="10.4" height="10.4" fill="#fff" stroke="#4878c4" stroke-width="2.3"/>
<circle cx="89.4" cy="1166.0" r="5.1" fill="#fff" stroke="#ff0000" stroke-width="2.4"/>
<circle cx="216.9" cy="1049.4" r="5.1" fill="#fff" stroke="#ff0000" stroke-width="2.4"/>
<circle cx="658.5" cy="972.5" r="5.1" fill="#fff" stroke="#ff0000" stroke-width="2.4"/>
<path d="M89.4,1159.8 L95.7,1172.2 L83.1,1172.2 Z" fill="#fff" stroke="#ffc000" stroke-width="2.4" stroke-linejoin="round"/>
<path d="M232.2,1045.8 L238.5,1058.2 L225.9,1058.2 Z" fill="#fff" stroke="#ffc000" stroke-width="2.4" stroke-linejoin="round"/>
<path d="M658.7,971.1 L665.0,983.4 L652.4,983.4 Z" fill="#fff" stroke="#ffc000" stroke-width="2.4" stroke-linejoin="round"/>
<text x="279.4" y="29.7" font-family='"Liberation Sans", sans-serif' font-weight="bold" font-size="31.5">a</text>
<text x="314.2" y="29.7" font-family='"Liberation Serif", serif' font-style="italic" font-size="31.6">b</text>
<text x="329.5" y="29.7" font-family='"Liberation Serif", serif' font-size="21.6">r</text>
<text x="335.6" y="29.7" font-family='"Liberation Serif", serif' font-size="31.6" xml:space="preserve"> = 12 mm</text>
<text x="278.6" y="429.9" font-family='"Liberation Sans", sans-serif' font-weight="bold" font-size="31.5">b</text>
<text x="315.7" y="429.9" font-family='"Liberation Serif", serif' font-style="italic" font-size="31.6">b</text>
<text x="330.8" y="429.9" font-family='"Liberation Serif", serif' font-size="21.6">r</text>
<text x="337.0" y="429.9" font-family='"Liberation Serif", serif' font-size="31.6" xml:space="preserve"> = 18 mm</text>
<text x="279.1" y="822.7" font-family='"Liberation Sans", sans-serif' font-weight="bold" font-size="31.5">c</text>
<text x="314.2" y="822.7" font-family='"Liberation Serif", serif' font-style="italic" font-size="31.6">b</text>
<text x="329.2" y="822.7" font-family='"Liberation Serif", serif' font-size="21.6">r</text>
<text x="335.2" y="822.7" font-family='"Liberation Serif", serif' font-size="31.6" xml:space="preserve"> = 24 mm</text>
<rect x="468.2" y="268.2" width="184.6" height="95.5" rx="14" ry="14" fill="#fff" stroke="#000" stroke-width="2.2"/>
<path d="M485,292.0 H509.5" fill="none" stroke="#bcbcbc" stroke-width="1.8" stroke-dasharray="3.6 1.9"/>
<path d="M516,292.0 H520.5 M532.5,292.0 H537 M538.4,292.0 H540.2" fill="none" stroke="#4878c4" stroke-width="2"/>
<rect x="524.6" y="288.4" width="7.2" height="7.2" fill="#fff" stroke="#4878c4" stroke-width="1.8"/>
<text x="542.5" y="299.4" font-family='"Liberation Serif", serif' font-size="21.5">Shirakashi</text>
<path d="M485,317.2 H509.5" fill="none" stroke="#bcbcbc" stroke-width="1.8" stroke-dasharray="5.4 3.9"/>
<path d="M516,317.2 H521.7 M534.8,317.2 H540.3" fill="none" stroke="#ff0000" stroke-width="2.1"/>
<circle cx="528.2" cy="317.2" r="3.6" fill="#fff" stroke="#ff0000" stroke-width="1.9"/>
<text x="542.5" y="324.6" font-family='"Liberation Serif", serif' font-size="21.5">Kuri</text>
<path d="M485,342.4 H509.5" fill="none" stroke="#bcbcbc" stroke-width="1.9"/>
<path d="M516,342.4 H540" fill="none" stroke="#ffc000" stroke-width="2"/>
<path d="M528.2,338.5 L532.1,346.1 L524.3,346.1 Z" fill="#fff" stroke="#ffc000" stroke-width="1.9" stroke-linejoin="round"/>
<text x="542.5" y="349.8" font-family='"Liberation Serif", serif' font-size="21.5">Hinoki</text>
<text transform="translate(23.8,589.3) rotate(-90)" font-family='"Liberation Serif", serif' font-size="31.6" text-anchor="middle">Moment (kNm)</text>
<text x="373.7" y="1229.4" font-family='"Liberation Serif", serif' font-size="31.6" text-anchor="middle">Deformation angle (rad.)</text>
</svg></body></html>
